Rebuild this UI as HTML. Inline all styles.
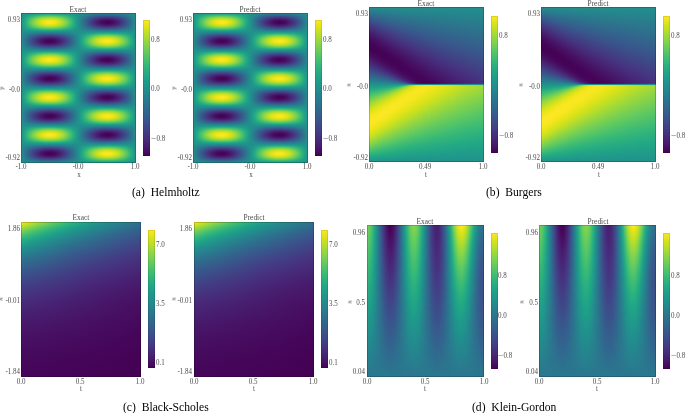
<!DOCTYPE html>
<html><head><meta charset="utf-8"><style>
html,body{margin:0;padding:0;background:#fff;}
body{width:685px;height:413px;position:relative;overflow:hidden;font-family:"Liberation Serif",serif;color:#000;}
.t{color:#4a4a4a;}
.cap{color:#000;}
.t{position:absolute;line-height:1;white-space:nowrap;will-change:transform;}
.hr,.hc{position:absolute;display:flex;overflow:hidden;}
.hr::after,.hc::after{content:"";position:absolute;left:0;top:0;right:0;bottom:0;box-shadow:inset 0 0 0 1px rgba(0,0,0,.2);}
.hr{flex-direction:column;}
.hc{flex-direction:row;}
.hr i,.hc i{flex:1 1 0;display:block;}
.cb{position:absolute;background:linear-gradient(to bottom,#fde725 0.00%,#d5e21a 6.27%,#aadc32 12.55%,#81d34d 18.82%,#5cc863 25.10%,#3dbc74 31.37%,#27ad81 37.65%,#1f9f88 43.92%,#21908d 50.20%,#26818e 56.47%,#2c718e 62.75%,#33628d 69.02%,#3b518b 75.29%,#423f85 81.57%,#472c7a 87.84%,#481769 94.12%,#440154 100%);box-shadow:inset 0 0 0 1px rgba(0,0,0,.1);}
.a0{background:linear-gradient(to right,#21908c 0.43%,#1f9a8a 23.91%,#20928c 46.52%,#24868e 72.61%,#228d8d 94.35%,#21908d 99.57%)}
.a1{background:linear-gradient(to right,#20918c 0.43%,#20a486 11.74%,#27ae80 23.91%,#22a884 35.22%,#1f978b 46.52%,#2a788e 64.78%,#2c728e 76.09%,#287c8e 88.26%,#218f8d 99.57%)}
.a2{background:linear-gradient(to right,#20918c 0.43%,#20a386 6.52%,#35b779 15.22%,#43bf71 22.17%,#43be71 28.26%,#2fb37c 36.96%,#1fa287 43.91%,#228d8d 50.87%,#2f6a8e 63.91%,#355f8d 72.61%,#33628d 81.30%,#2a788e 91.74%,#218f8d 99.57%)}
.a3{background:linear-gradient(to right,#20928c 0.43%,#20a486 4.78%,#2fb47c 9.13%,#58c765 16.96%,#69cd5b 22.17%,#6bcd5a 26.52%,#5ec962 31.74%,#36b878 39.57%,#23a984 43.91%,#1f978b 48.26%,#31678e 60.43%,#3c508b 69.13%,#3e4b89 76.09%,#3a548c 83.04%,#2b768e 93.48%,#218e8d 99.57%)}
.a4{background:linear-gradient(to right,#20928c 0.43%,#20a486 3.91%,#30b47b 7.39%,#67cc5d 14.35%,#84d44b 18.70%,#93d741 23.04%,#94d841 26.52%,#86d44a 30.87%,#64cb5f 36.09%,#2db27d 43.04%,#21a685 45.65%,#1f958c 49.13%,#34618d 59.57%,#414287 67.39%,#453782 73.48%,#443b84 79.57%,#3c508b 86.52%,#23898d 98.70%,#218e8d 99.57%)}
.a5{background:linear-gradient(to right,#20938c 0.43%,#1fa287 3.04%,#2bb17e 5.65%,#54c667 10.00%,#92d742 16.09%,#abdc32 19.57%,#b8de29 23.04%,#b9de28 26.52%,#addc30 30.00%,#8ed645 34.35%,#4fc46a 40.43%,#2fb37c 43.91%,#20a586 46.52%,#1f958b 49.13%,#33628d 57.83%,#443a83 65.65%,#482878 71.74%,#482676 76.96%,#46327f 82.17%,#3b528b 89.13%,#23888e 98.70%,#228d8d 99.57%)}
.a6{background:linear-gradient(to right,#20938c 0.43%,#20a486 3.04%,#30b47b 5.65%,#62cb5f 10.00%,#a2da38 15.22%,#c2df23 18.70%,#d4e21a 22.17%,#d9e219 25.65%,#cfe11c 29.13%,#b7de2a 32.61%,#89d548 36.96%,#47c06e 42.17%,#2db27d 44.78%,#1fa187 47.39%,#238a8d 50.87%,#3b528b 59.57%,#472f7c 65.65%,#481b6d 70.87%,#481669 75.22%,#481f70 80.43%,#443a83 86.52%,#34608d 92.61%,#228d8d 99.57%)}
.a7{background:linear-gradient(to right,#20938c 0.43%,#21a685 3.04%,#2cb17e 4.78%,#49c16d 7.39%,#92d742 12.61%,#bedf26 16.09%,#d6e21a 18.70%,#e9e41a 22.17%,#eee51b 25.65%,#e4e418 29.13%,#d2e21b 31.74%,#b9de29 34.35%,#80d34d 38.70%,#39ba76 43.91%,#23a984 46.52%,#1e9d89 48.26%,#2a778e 53.48%,#404788 60.43%,#482676 65.65%,#471063 70.87%,#460a5d 75.22%,#471264 79.57%,#482878 84.78%,#3e4a89 90.00%,#297a8e 96.96%,#228d8d 99.57%)}
.a8{background:linear-gradient(to right,#20938c 0.43%,#21a785 3.04%,#2eb37d 4.78%,#4ec36b 7.39%,#9bd93c 12.61%,#c9e01f 16.09%,#e2e418 18.70%,#f5e61f 22.17%,#fae722 25.65%,#f0e51c 29.13%,#dee318 31.74%,#c4e022 34.35%,#88d548 38.70%,#3cbb75 43.91%,#24aa83 46.52%,#1e9d89 48.26%,#2a768e 53.48%,#3e4a89 59.57%,#482676 64.78%,#46095c 70.87%,#450356 75.22%,#460a5e 79.57%,#482878 85.65%,#3d4d8a 90.87%,#27808e 97.83%,#228d8d 99.57%)}
.a9{background:linear-gradient(to right,#20938c 0.43%,#1fa088 2.17%,#27ad81 3.91%,#43be71 6.52%,#91d743 11.74%,#c1df24 15.22%,#dde318 17.83%,#f5e61f 21.30%,#fde725 24.78%,#f7e620 28.26%,#e1e318 31.74%,#d1e11c 33.48%,#b0dd2e 36.09%,#62ca5f 41.30%,#33b67a 44.78%,#24aa83 46.52%,#1e9d89 48.26%,#2b768e 53.48%,#3f4989 59.57%,#482475 64.78%,#46075a 70.87%,#440154 75.22%,#46085c 79.57%,#482777 85.65%,#3d4c8a 90.87%,#27808e 97.83%,#228d8d 99.57%)}
.a10{background:linear-gradient(to right,#20938c 0.43%,#21a685 3.04%,#2eb27d 4.78%,#4dc36c 7.39%,#9ad93d 12.61%,#c7e021 16.09%,#e0e318 18.70%,#f3e61e 22.17%,#f8e621 25.65%,#eee51b 29.13%,#dce319 31.74%,#c2df23 34.35%,#86d549 38.70%,#3cbb75 43.91%,#23a983 46.52%,#1e9d89 48.26%,#2a778e 53.48%,#3e4a89 59.57%,#482777 64.78%,#460a5e 70.87%,#450457 75.22%,#460c5f 79.57%,#482979 85.65%,#3d4d8a 90.87%,#27808e 97.83%,#228d8d 99.57%)}
.a11{background:linear-gradient(to right,#20938c 0.43%,#21a585 3.04%,#2bb17e 4.78%,#48c16e 7.39%,#8fd744 12.61%,#bade28 16.09%,#d2e21b 18.70%,#e5e419 22.17%,#e9e41a 25.65%,#dfe318 29.13%,#cee11d 31.74%,#abdc32 35.22%,#65cb5e 40.43%,#38b977 43.91%,#23a884 46.52%,#1f968b 49.13%,#32668e 56.09%,#433c84 62.17%,#481c6e 68.26%,#470e61 73.48%,#471062 77.83%,#482172 83.04%,#404588 89.13%,#2b758e 96.09%,#228d8d 99.57%)}
.a12{background:linear-gradient(to right,#20938c 0.43%,#20a486 3.04%,#2fb47c 5.65%,#5fc961 10.00%,#9cd93b 15.22%,#bbde27 18.70%,#cee11d 22.17%,#d2e21b 25.65%,#c8e020 29.13%,#b1dd2e 32.61%,#84d44b 36.96%,#3cbb75 43.04%,#26ac82 45.65%,#1e9b8a 48.26%,#2b748e 54.35%,#414487 62.17%,#482677 68.26%,#481a6c 73.48%,#481e6f 78.70%,#472f7d 83.91%,#39568c 90.87%,#228d8d 99.57%)}
.a13{background:linear-gradient(to right,#20938c 0.43%,#1fa287 3.04%,#2ab07f 5.65%,#50c46a 10.00%,#8ad647 16.09%,#a7db34 20.43%,#b1dd2e 23.91%,#afdd2f 27.39%,#a0da39 30.87%,#7fd34e 35.22%,#43bf71 41.30%,#27ae80 44.78%,#1f9f88 47.39%,#26818e 52.61%,#3d4d8a 62.17%,#46327e 69.13%,#482979 74.35%,#472e7c 79.57%,#414387 85.65%,#2b758e 95.22%,#228e8d 99.57%)}
.a14{background:linear-gradient(to right,#20928c 0.43%,#20a386 3.91%,#2eb37d 7.39%,#60ca61 14.35%,#7fd34e 19.57%,#8ad547 23.91%,#86d549 28.26%,#74d055 32.61%,#43be71 39.57%,#27ad81 43.91%,#1fa187 46.52%,#24888e 51.74%,#3b528b 63.91%,#423f85 70.87%,#433c84 76.96%,#3f4889 83.04%,#2e6d8e 92.61%,#218e8d 99.57%)}
.a15{background:linear-gradient(to right,#20928c 0.43%,#1fa287 4.78%,#2cb17e 9.13%,#53c568 17.83%,#60ca60 23.04%,#5fc961 28.26%,#4bc26d 34.35%,#24aa83 43.04%,#1f9a8a 47.39%,#2d708e 58.70%,#39568c 68.26%,#3c4f8b 75.22%,#39578c 82.17%,#2d718e 91.74%,#218e8d 99.57%)}
.a16{background:linear-gradient(to right,#20918c 0.43%,#20a486 7.39%,#35b779 17.83%,#3cbb75 24.78%,#35b878 31.74%,#21a586 42.17%,#20938c 49.13%,#2e6e8e 63.91%,#32648d 73.48%,#31688e 82.17%,#277f8e 93.48%,#218f8d 99.57%)}
.a17{background:linear-gradient(to right,#20918c 0.43%,#20a486 15.22%,#23a884 28.26%,#1e9c89 42.17%,#287b8e 65.65%,#2a788e 77.83%,#25848e 91.74%,#218f8d 99.57%)}
.a18{background:linear-gradient(to right,#21908c 0.43%,#1f958c 31.74%,#228b8d 78.70%,#21908d 99.57%)}
.a19{background:linear-gradient(to right,#21908d 0.43%,#26828e 21.30%,#24868e 37.83%,#1f9e89 69.13%,#1e9c89 85.65%,#21918c 99.57%)}
.a20{background:linear-gradient(to right,#218f8d 0.43%,#2b748e 15.22%,#2e6d8e 25.65%,#2b768e 36.09%,#1e9b8a 55.22%,#27ae80 66.52%,#2db27d 76.09%,#23a984 87.39%,#1f978b 96.96%,#20918c 99.57%)}
.a21{background:linear-gradient(to right,#218f8d 0.43%,#31688e 13.48%,#375a8d 22.17%,#365c8d 30.00%,#2d708e 39.57%,#1f998a 52.61%,#23a983 57.83%,#42be71 67.39%,#4dc36b 73.48%,#49c16d 79.57%,#2cb17e 89.13%,#20a387 94.35%,#20928c 99.57%)}
.a22{background:linear-gradient(to right,#218e8d 0.43%,#375a8c 13.48%,#3f4889 21.30%,#404688 27.39%,#3a538b 34.35%,#29798e 44.78%,#1e9c8a 52.61%,#24aa83 56.09%,#3fbd73 61.30%,#67cc5d 68.26%,#74d055 72.61%,#75d054 76.96%,#68cd5c 81.30%,#42be71 88.26%,#26ac82 93.48%,#1f9d89 96.96%,#20928c 99.57%)}
.a23{background:linear-gradient(to right,#218e8d 0.43%,#39558c 11.74%,#443b83 18.70%,#46327f 24.78%,#443a83 30.87%,#3a538b 37.83%,#228b8d 49.13%,#1f9e89 52.61%,#25ab82 55.22%,#3dbb74 58.70%,#78d152 65.65%,#93d741 70.00%,#9eda3a 73.48%,#9dd93b 76.96%,#8cd645 81.30%,#66cc5d 86.52%,#2db27d 93.48%,#21a586 96.09%,#20928c 99.57%)}
.a24{background:linear-gradient(to right,#228d8d 0.43%,#3a548c 10.00%,#46327e 16.96%,#482374 22.17%,#482374 27.39%,#47307d 32.61%,#3b528b 39.57%,#238b8d 49.13%,#1fa088 52.61%,#2aaf7f 55.22%,#49c16d 58.70%,#8cd646 64.78%,#b0dd2e 69.13%,#c0df24 72.61%,#c2df23 76.09%,#b7de2a 79.57%,#a0da39 83.04%,#6bcd5a 88.26%,#34b779 93.48%,#22a884 96.09%,#1f988b 98.70%,#20938c 99.57%)}
.a25{background:linear-gradient(to right,#228d8d 0.43%,#37598c 8.26%,#46337f 14.35%,#481c6e 19.57%,#471365 24.78%,#48186a 29.13%,#472c7b 34.35%,#3b508b 40.43%,#25848e 48.26%,#1e9c89 51.74%,#22a884 53.48%,#36b878 56.09%,#77d153 61.30%,#acdc31 65.65%,#cbe11e 69.13%,#dce319 72.61%,#dee318 76.09%,#d3e21b 79.57%,#b9de29 83.04%,#88d548 87.39%,#44bf70 92.61%,#2ab07f 95.22%,#20a586 96.96%,#20938c 99.57%)}
.a26{background:linear-gradient(to right,#228d8d 0.43%,#39558c 8.26%,#46317e 13.48%,#471265 19.57%,#46085b 23.91%,#460c5f 28.26%,#482071 33.48%,#423f86 38.70%,#2f6b8e 44.78%,#1f968b 50.87%,#20a387 52.61%,#29af80 54.35%,#45bf70 56.96%,#8fd744 62.17%,#bcdf27 65.65%,#d6e21a 68.26%,#ebe51a 71.74%,#f2e61d 75.22%,#eae51a 78.70%,#dae319 81.30%,#c1df24 83.91%,#89d548 88.26%,#3fbd73 93.48%,#26ac82 96.09%,#1fa088 97.83%,#20938c 99.57%)}
.a27{background:linear-gradient(to right,#228d8d 0.43%,#37598c 7.39%,#443983 11.74%,#48196b 16.96%,#450558 22.17%,#450356 26.52%,#470f62 30.87%,#46307e 36.96%,#3c508b 41.30%,#25838e 48.26%,#1e9d89 51.74%,#24aa83 53.48%,#3dbb74 56.09%,#89d548 61.30%,#c5e021 65.65%,#e0e318 68.26%,#f5e61f 71.74%,#fce723 75.22%,#f3e61e 78.70%,#dce319 82.17%,#c0df24 84.78%,#82d44c 89.13%,#42be71 93.48%,#27ad81 96.09%,#1fa088 97.83%,#20938c 99.57%)}
.a28{background:linear-gradient(to right,#228d8d 0.43%,#37598c 7.39%,#443983 11.74%,#48186b 16.96%,#45065a 21.30%,#440255 25.65%,#460a5e 30.00%,#472a79 36.09%,#3f4989 40.43%,#287d8e 47.39%,#1e9d89 51.74%,#24aa83 53.48%,#3dbc74 56.09%,#8ad547 61.30%,#c6e021 65.65%,#e1e318 68.26%,#f6e620 71.74%,#fde724 75.22%,#f4e61f 78.70%,#dde318 82.17%,#c1df24 84.78%,#83d44b 89.13%,#43be71 93.48%,#27ad81 96.09%,#1fa088 97.83%,#20938c 99.57%)}
.a29{background:linear-gradient(to right,#228d8d 0.43%,#3a548c 8.26%,#47307d 13.48%,#471163 19.57%,#45065a 23.91%,#460a5d 28.26%,#481e70 33.48%,#433e85 38.70%,#32648e 43.91%,#21908c 50.00%,#20a387 52.61%,#29af7f 54.35%,#46c06f 56.96%,#91d742 62.17%,#bfdf25 65.65%,#d9e219 68.26%,#efe51c 71.74%,#f5e61f 75.22%,#ede51b 78.70%,#d6e21a 82.17%,#bade28 84.78%,#71cf56 90.00%,#36b878 94.35%,#26ac81 96.09%,#1fa088 97.83%,#20938c 99.57%)}
.a30{background:linear-gradient(to right,#228d8d 0.43%,#38588c 8.26%,#453681 13.48%,#481c6e 18.70%,#471063 23.91%,#481366 28.26%,#482676 33.48%,#3f4989 39.57%,#277e8e 47.39%,#1e9c89 51.74%,#22a884 53.48%,#37b877 56.09%,#7ad251 61.30%,#b1dd2e 65.65%,#d0e11c 69.13%,#e1e318 72.61%,#e4e419 76.09%,#d8e219 79.57%,#c6e021 82.17%,#a2da38 85.65%,#5dc963 90.87%,#33b67a 94.35%,#21a586 96.96%,#20938c 99.57%)}
.a31{background:linear-gradient(to right,#228d8d 0.43%,#38588c 9.13%,#46327f 16.09%,#482172 21.30%,#481e70 26.52%,#482979 31.74%,#3e4b89 38.70%,#27808e 47.39%,#1e9b8a 51.74%,#25ab82 54.35%,#3aba76 56.96%,#7fd34e 63.04%,#abdc32 67.39%,#c1df24 70.87%,#cbe11f 74.35%,#c6e021 77.83%,#b5dd2b 81.30%,#8dd645 85.65%,#48c06e 91.74%,#28ae80 95.22%,#1f9e89 97.83%,#20938c 99.57%)}
.a32{background:linear-gradient(to right,#218e8d 0.43%,#39568c 10.87%,#443983 17.83%,#472e7c 23.91%,#46327e 29.13%,#404487 35.22%,#2a788e 45.65%,#1f9a8a 51.74%,#22a884 54.35%,#32b57b 56.96%,#71cf57 63.91%,#92d742 68.26%,#a3db37 71.74%,#a8db33 75.22%,#a2da38 78.70%,#8ad547 83.04%,#54c667 89.13%,#2eb37c 93.48%,#21a685 96.09%,#20938c 99.57%)}
.a33{background:linear-gradient(to right,#218e8d 0.43%,#39578c 13.48%,#414487 20.43%,#424186 26.52%,#3d4d8a 33.48%,#2d718e 43.04%,#1f988b 51.74%,#22a884 55.22%,#39b977 59.57%,#6bcd5a 67.39%,#7cd250 71.74%,#80d34d 76.09%,#75d054 80.43%,#59c765 85.65%,#2cb17e 92.61%,#1fa287 96.09%,#20928c 99.57%)}
.a34{background:linear-gradient(to right,#218f8d 0.43%,#32648e 13.48%,#39558c 22.17%,#38588c 30.00%,#306a8e 38.70%,#1f968b 51.74%,#21a685 56.09%,#35b779 62.17%,#51c569 70.00%,#58c765 75.22%,#50c46a 80.43%,#30b47c 89.13%,#20a486 94.35%,#20928c 99.57%)}
.a35{background:linear-gradient(to right,#218f8d 0.43%,#2d708e 15.22%,#30688e 24.78%,#2d6f8e 34.35%,#228c8d 48.26%,#1fa188 56.96%,#2fb47c 68.26%,#34b779 76.09%,#29af80 85.65%,#1f9e89 94.35%,#20918c 99.57%)}
.a36{background:linear-gradient(to right,#21908d 0.43%,#287e8e 18.70%,#277e8e 32.61%,#1f998a 56.96%,#20a486 72.61%,#1f9e89 87.39%,#21918c 99.57%)}
.a37{background:linear-gradient(to right,#21908c 0.43%,#21908c 99.57%)}
.a38{background:linear-gradient(to right,#21918c 0.43%,#20a287 18.70%,#1fa287 32.61%,#228d8d 52.61%,#287d8e 70.00%,#277f8e 83.91%,#21908d 99.57%)}
.a39{background:linear-gradient(to right,#20918c 0.43%,#20a486 8.26%,#31b57b 19.57%,#34b679 27.39%,#25ab82 37.83%,#1e9b8a 45.65%,#2c728e 63.91%,#30688e 74.35%,#2e6f8e 83.91%,#238b8d 97.83%,#218f8d 99.57%)}
.a40{background:linear-gradient(to right,#20928c 0.43%,#20a486 5.65%,#30b47c 10.87%,#50c46a 19.57%,#58c765 24.78%,#51c569 30.00%,#35b779 37.83%,#21a685 43.91%,#20938c 49.13%,#32658e 63.04%,#39568c 71.74%,#38578c 79.57%,#30698e 88.26%,#218f8d 99.57%)}
.a41{background:linear-gradient(to right,#20928c 0.43%,#1fa287 3.91%,#2cb17e 7.39%,#5fc961 15.22%,#78d152 20.43%,#80d34d 24.78%,#7ad151 29.13%,#61ca60 34.35%,#2eb37d 42.17%,#20a486 45.65%,#21908c 50.00%,#38588c 63.04%,#404588 70.00%,#424186 76.09%,#3e4a89 82.17%,#31678e 90.87%,#218e8d 99.57%)}
.a42{background:linear-gradient(to right,#20938c 0.43%,#21a685 3.91%,#2eb37c 6.52%,#6dce59 13.48%,#90d743 17.83%,#a2da38 21.30%,#a8db33 24.78%,#a3db37 28.26%,#8dd645 32.61%,#61ca60 37.83%,#32b57b 43.04%,#22a884 45.65%,#1f9a8a 48.26%,#2e6f8e 56.09%,#424186 65.65%,#46307e 71.74%,#472f7c 76.96%,#433c84 83.04%,#33638d 91.74%,#218e8d 99.57%)}
.a43{background:linear-gradient(to right,#20938c 0.43%,#20a386 3.04%,#2eb37d 5.65%,#5cc863 10.00%,#9fda39 16.09%,#bade28 19.57%,#c9e020 23.04%,#cae01f 26.52%,#bddf26 30.00%,#a3db37 33.48%,#6bcd5a 38.70%,#32b57a 43.91%,#21a685 46.52%,#1f968b 49.13%,#32658e 56.96%,#433d84 63.91%,#482475 70.00%,#481d6f 75.22%,#482576 80.43%,#433f85 86.52%,#31678e 93.48%,#228d8d 99.57%)}
.a44{background:linear-gradient(to right,#20938c 0.43%,#21a586 3.04%,#33b67a 5.65%,#68cc5c 10.00%,#acdc31 15.22%,#cde11d 18.70%,#e0e318 22.17%,#e4e419 25.65%,#dae319 29.13%,#c2df23 32.61%,#9cd93b 36.09%,#57c766 41.30%,#2fb37c 44.78%,#22a884 46.52%,#1f968b 49.13%,#31668e 56.09%,#433e85 62.17%,#481e70 68.26%,#471163 73.48%,#471265 77.83%,#482374 83.04%,#404688 89.13%,#2b758e 96.09%,#228d8d 99.57%)}
.a45{background:linear-gradient(to right,#20938c 0.43%,#21a685 3.04%,#2db27d 4.78%,#4cc26c 7.39%,#98d83e 12.61%,#c4e022 16.09%,#dde318 18.70%,#f0e51c 22.17%,#f5e61f 25.65%,#ebe51a 29.13%,#d9e219 31.74%,#bfdf25 34.35%,#85d44a 38.70%,#3bbb75 43.91%,#23a983 46.52%,#1e9d89 48.26%,#2a778e 53.48%,#3e4b89 59.57%,#482878 64.78%,#470f62 70.00%,#450659 74.35%,#460b5e 78.70%,#482172 83.91%,#424286 89.13%,#2e6d8e 95.22%,#228d8d 99.57%)}
.a46{background:linear-gradient(to right,#20938c 0.43%,#1fa088 2.17%,#27ad81 3.91%,#43be71 6.52%,#90d743 11.74%,#c1df24 15.22%,#dde318 17.83%,#f4e61f 21.30%,#fde724 24.78%,#f6e620 28.26%,#e1e318 31.74%,#c6e021 34.35%,#8ad547 38.70%,#3dbc74 43.91%,#24aa83 46.52%,#1e9d89 48.26%,#2b768e 53.48%,#3f4989 59.57%,#482575 64.78%,#46075b 70.87%,#440254 75.22%,#46095c 79.57%,#482777 85.65%,#3d4c8a 90.87%,#27808e 97.83%,#228d8d 99.57%)}
.a47{background:linear-gradient(to right,#20938c 0.43%,#1fa088 2.17%,#27ad81 3.91%,#42be71 6.52%,#90d743 11.74%,#c0df24 15.22%,#dce319 17.83%,#f3e61e 21.30%,#fce723 24.78%,#f5e61f 28.26%,#e0e318 31.74%,#c5e021 34.35%,#89d548 38.70%,#3dbb74 43.91%,#24aa83 46.52%,#1e9d89 48.26%,#2a768e 53.48%,#3f4989 59.57%,#482576 64.78%,#46085b 70.87%,#440255 75.22%,#46095d 79.57%,#482878 85.65%,#3d4c8a 90.87%,#27808e 97.83%,#228d8d 99.57%)}
.a48{background:linear-gradient(to right,#20938c 0.43%,#21a685 3.04%,#2db27d 4.78%,#4bc26d 7.39%,#95d840 12.61%,#c1df24 16.09%,#dae319 18.70%,#ede51b 22.17%,#f2e61d 25.65%,#e8e419 29.13%,#d6e21a 31.74%,#bcdf27 34.35%,#83d44c 38.70%,#3aba76 43.91%,#23a983 46.52%,#1e9d89 48.26%,#2a778e 53.48%,#404688 60.43%,#482475 65.65%,#470e61 70.87%,#46085b 75.22%,#470f62 79.57%,#482777 84.78%,#3f4989 90.00%,#297a8e 96.96%,#228d8d 99.57%)}
.a49{background:linear-gradient(to right,#20938c 0.43%,#20a586 3.04%,#32b57b 5.65%,#65cc5d 10.00%,#a7db34 15.22%,#c8e020 18.70%,#dae319 22.17%,#dfe318 25.65%,#d5e21a 29.13%,#bddf26 32.61%,#8dd645 36.96%,#4ac16d 42.17%,#2eb37d 44.78%,#22a884 46.52%,#1f968b 49.13%,#31678e 56.09%,#424086 62.17%,#482172 68.26%,#481466 73.48%,#481568 77.83%,#482676 83.04%,#3f4889 89.13%,#287c8e 96.96%,#228d8d 99.57%)}
.a50{background:linear-gradient(to right,#20938c 0.43%,#20a387 3.04%,#2db27d 5.65%,#58c765 10.00%,#98d93e 16.09%,#b3dd2d 19.57%,#c1df24 23.04%,#c2df23 26.52%,#b5de2b 30.00%,#9cd93b 33.48%,#66cc5d 38.70%,#30b47b 43.91%,#21a585 46.52%,#1f958b 49.13%,#31668e 56.96%,#443b84 64.78%,#482676 70.87%,#482173 76.09%,#472b7a 81.30%,#404688 87.39%,#2a788e 96.09%,#228d8d 99.57%)}
.a51{background:linear-gradient(to right,#20928c 0.43%,#21a586 3.91%,#2db27d 6.52%,#66cc5d 13.48%,#8cd645 18.70%,#9dd93b 23.04%,#9eda3a 26.52%,#93d741 30.00%,#78d152 34.35%,#3dbb74 41.30%,#25ab82 44.78%,#1f9e89 47.39%,#29798e 54.35%,#3f4889 64.78%,#453681 70.87%,#46337f 76.96%,#424086 83.04%,#32658e 91.74%,#218e8d 99.57%)}
.a52{background:linear-gradient(to right,#20928c 0.43%,#21a586 4.78%,#32b67a 9.13%,#60ca60 16.96%,#73d055 22.17%,#75d054 26.52%,#6acd5b 30.87%,#4ac26d 36.96%,#27ae80 43.04%,#1f9f88 46.52%,#26818e 53.48%,#39568c 64.78%,#3f4788 71.74%,#404788 77.83%,#39558c 84.78%,#277f8e 96.09%,#218e8d 99.57%)}
.a53{background:linear-gradient(to right,#20928c 0.43%,#20a387 5.65%,#2fb37c 11.74%,#49c16d 20.43%,#4dc36b 26.52%,#42be71 32.61%,#23a983 42.17%,#1f998a 47.39%,#2e6d8e 61.30%,#365b8d 70.87%,#365b8d 78.70%,#306a8e 87.39%,#218f8d 99.57%)}
.a54{background:linear-gradient(to right,#20918c 0.43%,#20a486 10.00%,#2cb17e 21.30%,#2ab07f 30.87%,#1f9f88 43.04%,#287d8e 59.57%,#2e6e8e 70.87%,#2d708e 81.30%,#25848e 94.35%,#218f8d 99.57%)}
.a55{background:linear-gradient(to right,#21918c 0.43%,#1f9f88 21.30%,#1f9a8a 37.83%,#26828e 69.13%,#25848e 85.65%,#21908d 99.57%)}
.a56{background:linear-gradient(to right,#21908d 0.43%,#228c8d 31.74%,#1f958b 78.70%,#21908c 99.57%)}
.a57{background:linear-gradient(to right,#218f8d 0.43%,#297a8e 17.83%,#2a788e 30.00%,#23888e 44.78%,#1fa088 61.30%,#23a983 74.35%,#1fa287 87.39%,#20918c 99.57%)}
.a58{background:linear-gradient(to right,#218f8d 0.43%,#2e6d8e 14.35%,#33648d 23.91%,#306a8e 33.48%,#25848e 45.65%,#1f9e89 55.22%,#28ae80 62.17%,#3aba76 71.74%,#3aba76 78.70%,#25ac82 89.13%,#1e9b8a 96.09%,#20918c 99.57%)}
.a59{background:linear-gradient(to right,#218e8d 0.43%,#34618d 13.48%,#3b518b 21.30%,#3b518b 28.26%,#34608d 36.09%,#228d8d 49.13%,#1fa188 54.35%,#2ab07f 58.70%,#52c569 67.39%,#60ca61 72.61%,#5fca61 77.83%,#50c46a 83.04%,#29af80 91.74%,#1f9f88 96.09%,#20928c 99.57%)}
.a60{background:linear-gradient(to right,#218e8d 0.43%,#39578c 12.61%,#424186 19.57%,#443c84 25.65%,#414487 31.74%,#33638d 40.43%,#1f948c 50.87%,#21a586 54.35%,#31b47b 57.83%,#63cb5f 64.78%,#80d34d 70.00%,#8ad647 74.35%,#85d44a 78.70%,#71cf56 83.04%,#40bd73 90.00%,#25ab82 94.35%,#1e9b8a 97.83%,#20928c 99.57%)}
.a61{background:linear-gradient(to right,#228e8d 0.43%,#38588c 10.00%,#453581 17.83%,#472a7a 23.04%,#472c7b 28.26%,#433d85 34.35%,#30698e 43.04%,#1f958b 50.87%,#20a486 53.48%,#2db27d 56.09%,#5dc962 61.30%,#8ed644 66.52%,#a5db36 70.00%,#b0dd2e 73.48%,#b0dd2f 76.96%,#a3da37 80.43%,#83d44b 84.78%,#47c06e 90.87%,#2ab07f 94.35%,#1fa287 96.96%,#20938c 99.57%)}
.a62{background:linear-gradient(to right,#228d8d 0.43%,#39568c 9.13%,#472f7d 16.09%,#481e6f 21.30%,#481a6c 26.52%,#482677 31.74%,#414487 37.83%,#2b748e 45.65%,#1e9b8a 51.74%,#26ac82 54.35%,#3cbb75 56.96%,#84d44b 63.04%,#b1dd2e 67.39%,#c8e020 70.87%,#d2e21b 74.35%,#cee11d 77.83%,#bbde27 81.30%,#9cd93b 84.78%,#54c667 90.87%,#2fb47c 94.35%,#20a486 96.96%,#20938c 99.57%)}
.a63{background:linear-gradient(to right,#228d8d 0.43%,#38578c 8.26%,#463480 13.48%,#481a6c 18.70%,#470d60 23.91%,#471163 28.26%,#482374 33.48%,#3f4889 39.57%,#2a788e 46.52%,#1e9c89 51.74%,#23a884 53.48%,#38b977 56.09%,#7dd24f 61.30%,#b5de2b 65.65%,#cee11d 68.26%,#e3e418 71.74%,#eae51a 75.22%,#e1e318 78.70%,#d2e21b 81.30%,#bade28 83.91%,#83d44b 88.26%,#3dbc74 93.48%,#25ab82 96.09%,#1f9f88 97.83%,#20938c 99.57%)}
.a64{background:linear-gradient(to right,#228d8d 0.43%,#3a548b 8.26%,#472f7d 13.48%,#470f62 19.57%,#450458 23.91%,#46085b 28.26%,#481d6f 33.48%,#433e85 38.70%,#33648d 43.91%,#21908c 50.00%,#20a386 52.61%,#2ab07f 54.35%,#47c06f 56.96%,#93d741 62.17%,#c2df23 65.65%,#dce319 68.26%,#f1e51d 71.74%,#f8e621 75.22%,#f0e51c 78.70%,#d8e219 82.17%,#bddf26 84.78%,#73d055 90.00%,#37b878 94.35%,#26ad81 96.09%,#1fa088 97.83%,#20938c 99.57%)}
.a65{background:linear-gradient(to right,#228d8d 0.43%,#37598c 7.39%,#443982 11.74%,#48186a 16.96%,#450659 21.30%,#440154 25.65%,#460a5d 30.00%,#482a79 36.09%,#3f4989 40.43%,#287d8e 47.39%,#1e9d89 51.74%,#24aa83 53.48%,#3dbc74 56.09%,#8ad547 61.30%,#c7e021 65.65%,#d9e219 67.39%,#eee51b 70.00%,#fce724 73.48%,#fbe723 76.96%,#ebe51a 80.43%,#d5e21a 83.04%,#b6de2a 85.65%,#69cd5c 90.87%,#38b977 94.35%,#27ad81 96.09%,#1fa088 97.83%,#20938c 99.57%)}
.a66{background:linear-gradient(to right,#228d8d 0.43%,#375a8c 7.39%,#443a83 11.74%,#481a6c 16.96%,#450659 22.17%,#450457 26.52%,#471062 30.87%,#46317e 36.96%,#3c508b 41.30%,#25838e 48.26%,#1e9d89 51.74%,#24aa83 53.48%,#3cbb75 56.09%,#88d548 61.30%,#c4e022 65.65%,#dee318 68.26%,#f4e61e 71.74%,#fae722 75.22%,#f2e61d 78.70%,#dae319 82.17%,#bfdf25 84.78%,#81d34c 89.13%,#42be72 93.48%,#26ad81 96.09%,#1fa088 97.83%,#20938c 99.57%)}
.a67{background:linear-gradient(to right,#228d8d 0.43%,#39568c 8.26%,#46337f 13.48%,#48186a 18.70%,#460c5f 23.04%,#470c5f 27.39%,#481d6f 32.61%,#424186 38.70%,#2f6b8e 44.78%,#1f968b 50.87%,#20a387 52.61%,#28af80 54.35%,#44bf71 56.96%,#8cd646 62.17%,#c2df23 66.52%,#d9e219 69.13%,#ebe51a 72.61%,#ede51b 76.09%,#e1e318 79.57%,#cfe11d 82.17%,#a9dc33 85.65%,#61ca60 90.87%,#35b779 94.35%,#25ac82 96.09%,#1fa088 97.83%,#20938c 99.57%)}
.a68{background:linear-gradient(to right,#228d8d 0.43%,#3a558c 9.13%,#46317e 15.22%,#481c6e 20.43%,#481669 25.65%,#482072 30.87%,#433d84 36.96%,#33638d 43.04%,#21908c 50.00%,#1fa187 52.61%,#2db27d 55.22%,#52c569 58.70%,#93d741 63.91%,#b7de2a 67.39%,#cfe11c 70.87%,#d9e219 74.35%,#d4e21a 77.83%,#c2df23 81.30%,#a2da38 84.78%,#57c766 90.87%,#30b47b 94.35%,#20a486 96.96%,#20938c 99.57%)}
.a69{background:linear-gradient(to right,#228d8d 0.43%,#39568c 10.00%,#453580 16.96%,#482777 22.17%,#482777 27.39%,#46337f 32.61%,#38598c 40.43%,#21908c 50.00%,#1fa088 52.61%,#28af80 55.22%,#46c06f 58.70%,#86d44a 64.78%,#a8db33 69.13%,#b7de2a 72.61%,#bade28 76.09%,#afdd2f 79.57%,#99d93d 83.04%,#67cc5d 88.26%,#32b57a 93.48%,#22a784 96.09%,#1f988b 98.70%,#20938c 99.57%)}
.a70{background:linear-gradient(to right,#218e8d 0.43%,#38578c 11.74%,#423f85 18.70%,#453781 24.78%,#433e85 30.87%,#37598c 38.70%,#21908c 50.00%,#1fa287 53.48%,#28ae80 56.09%,#4ec36b 61.30%,#7cd250 67.39%,#90d743 71.74%,#95d840 75.22%,#8cd646 79.57%,#74d055 83.91%,#3dbb74 90.87%,#26ac81 94.35%,#1fa088 96.96%,#20928c 99.57%)}
.a71{background:linear-gradient(to right,#218e8d 0.43%,#355d8d 13.48%,#3d4d8a 21.30%,#3d4c8a 28.26%,#365c8d 36.09%,#228c8d 49.13%,#1fa287 54.35%,#2db27d 58.70%,#56c666 66.52%,#68cc5c 71.74%,#6bcd5a 76.09%,#5fca61 81.30%,#38b977 89.13%,#22a784 94.35%,#1f968b 98.70%,#20928c 99.57%)}
.a72{background:linear-gradient(to right,#218f8d 0.43%,#306a8e 14.35%,#355f8d 23.04%,#33638d 31.74%,#29798e 42.17%,#1e9d89 54.35%,#27ae80 60.43%,#40bd72 70.00%,#45bf70 76.09%,#3aba76 83.04%,#21a685 92.61%,#20948c 98.70%,#20918c 99.57%)}
.a73{background:linear-gradient(to right,#218f8d 0.43%,#2a778e 16.09%,#2c738e 27.39%,#277e8e 39.57%,#1f9e89 57.83%,#26ad81 70.87%,#25ab82 82.17%,#1f998a 95.22%,#20918c 99.57%)}
.a74{background:linear-gradient(to right,#21908d 0.43%,#24868e 23.91%,#218e8d 46.52%,#1f9a8a 72.61%,#20948c 94.35%,#21908c 99.57%)}
.a75{background:linear-gradient(to right,#21908c 0.43%,#1f9a8a 23.91%,#20928c 46.52%,#24868e 72.61%,#228d8d 94.35%,#21908d 99.57%)}
.a76{background:linear-gradient(to right,#20918c 0.43%,#20a486 11.74%,#27ae80 23.91%,#22a884 35.22%,#1f978b 46.52%,#2a788e 64.78%,#2c728e 76.09%,#287c8e 88.26%,#218f8d 99.57%)}
.a77{background:linear-gradient(to right,#20918c 0.43%,#20a386 6.52%,#35b779 15.22%,#43bf71 22.17%,#43be71 28.26%,#2fb37c 36.96%,#1fa287 43.91%,#228d8d 50.87%,#2f6a8e 63.91%,#355f8d 72.61%,#33628d 81.30%,#2a788e 91.74%,#218f8d 99.57%)}
.a78{background:linear-gradient(to right,#20928c 0.43%,#20a486 4.78%,#2fb47c 9.13%,#58c765 16.96%,#69cd5b 22.17%,#6bcd5a 26.52%,#5ec962 31.74%,#36b878 39.57%,#23a984 43.91%,#1f978b 48.26%,#31678e 60.43%,#3c508b 69.13%,#3e4b89 76.09%,#3a548c 83.04%,#2b768e 93.48%,#218e8d 99.57%)}
.a79{background:linear-gradient(to right,#20928c 0.43%,#20a486 3.91%,#30b47b 7.39%,#67cc5d 14.35%,#84d44b 18.70%,#93d741 23.04%,#94d841 26.52%,#86d44a 30.87%,#64cb5f 36.09%,#2db27d 43.04%,#21a685 45.65%,#1f958c 49.13%,#34618d 59.57%,#414287 67.39%,#453782 73.48%,#443b84 79.57%,#3c508b 86.52%,#23898d 98.70%,#218e8d 99.57%)}
.a80{background:linear-gradient(to right,#20938c 0.43%,#1fa287 3.04%,#2bb17e 5.65%,#54c667 10.00%,#92d742 16.09%,#abdc32 19.57%,#b8de29 23.04%,#b9de28 26.52%,#addc30 30.00%,#8ed645 34.35%,#4fc46a 40.43%,#2fb37c 43.91%,#20a586 46.52%,#1f958b 49.13%,#33628d 57.83%,#443a83 65.65%,#482878 71.74%,#482676 76.96%,#46327f 82.17%,#3b528b 89.13%,#23888e 98.70%,#228d8d 99.57%)}
.a81{background:linear-gradient(to right,#20938c 0.43%,#20a486 3.04%,#30b47b 5.65%,#62cb5f 10.00%,#a2da38 15.22%,#c2df23 18.70%,#d4e21a 22.17%,#d9e219 25.65%,#cfe11c 29.13%,#b7de2a 32.61%,#89d548 36.96%,#47c06e 42.17%,#2db27d 44.78%,#1fa187 47.39%,#238a8d 50.87%,#3b528b 59.57%,#472f7c 65.65%,#481b6d 70.87%,#481669 75.22%,#481f70 80.43%,#443a83 86.52%,#34608d 92.61%,#228d8d 99.57%)}
.a82{background:linear-gradient(to right,#20938c 0.43%,#21a685 3.04%,#2cb17e 4.78%,#49c16d 7.39%,#92d742 12.61%,#bedf26 16.09%,#d6e21a 18.70%,#e9e41a 22.17%,#eee51b 25.65%,#e4e418 29.13%,#d2e21b 31.74%,#b9de29 34.35%,#80d34d 38.70%,#39ba76 43.91%,#23a984 46.52%,#1e9d89 48.26%,#2a778e 53.48%,#404788 60.43%,#482676 65.65%,#471063 70.87%,#460a5d 75.22%,#471264 79.57%,#482878 84.78%,#3e4a89 90.00%,#297a8e 96.96%,#228d8d 99.57%)}
.a83{background:linear-gradient(to right,#20938c 0.43%,#21a785 3.04%,#2eb37d 4.78%,#4ec36b 7.39%,#9bd93c 12.61%,#c9e01f 16.09%,#e2e418 18.70%,#f5e61f 22.17%,#fae722 25.65%,#f0e51c 29.13%,#dee318 31.74%,#c4e022 34.35%,#88d548 38.70%,#3cbb75 43.91%,#24aa83 46.52%,#1e9d89 48.26%,#2a768e 53.48%,#3e4a89 59.57%,#482676 64.78%,#46095c 70.87%,#450356 75.22%,#460a5e 79.57%,#482878 85.65%,#3d4d8a 90.87%,#27808e 97.83%,#228d8d 99.57%)}
.a84{background:linear-gradient(to right,#20938c 0.43%,#1fa088 2.17%,#27ad81 3.91%,#43be71 6.52%,#91d743 11.74%,#c1df24 15.22%,#dde318 17.83%,#f5e61f 21.30%,#fde725 24.78%,#f7e620 28.26%,#e1e318 31.74%,#d1e11c 33.48%,#b0dd2e 36.09%,#62ca5f 41.30%,#33b67a 44.78%,#24aa83 46.52%,#1e9d89 48.26%,#2b768e 53.48%,#3f4989 59.57%,#482475 64.78%,#46075a 70.87%,#440154 75.22%,#46085c 79.57%,#482777 85.65%,#3d4c8a 90.87%,#27808e 97.83%,#228d8d 99.57%)}
.a85{background:linear-gradient(to right,#20938c 0.43%,#21a685 3.04%,#2eb27d 4.78%,#4dc36c 7.39%,#9ad93d 12.61%,#c7e021 16.09%,#e0e318 18.70%,#f3e61e 22.17%,#f8e621 25.65%,#eee51b 29.13%,#dce319 31.74%,#c2df23 34.35%,#86d549 38.70%,#3cbb75 43.91%,#23a983 46.52%,#1e9d89 48.26%,#2a778e 53.48%,#3e4a89 59.57%,#482777 64.78%,#460a5e 70.87%,#450457 75.22%,#460c5f 79.57%,#482979 85.65%,#3d4d8a 90.87%,#27808e 97.83%,#228d8d 99.57%)}
.a86{background:linear-gradient(to right,#20938c 0.43%,#21a585 3.04%,#2bb17e 4.78%,#48c16e 7.39%,#8fd744 12.61%,#bade28 16.09%,#d2e21b 18.70%,#e5e419 22.17%,#e9e41a 25.65%,#dfe318 29.13%,#cee11d 31.74%,#abdc32 35.22%,#65cb5e 40.43%,#38b977 43.91%,#23a884 46.52%,#1f968b 49.13%,#32668e 56.09%,#433c84 62.17%,#481c6e 68.26%,#470e61 73.48%,#471062 77.83%,#482172 83.04%,#404588 89.13%,#2b758e 96.09%,#228d8d 99.57%)}
.a87{background:linear-gradient(to right,#20938c 0.43%,#20a486 3.04%,#2fb47c 5.65%,#5fc961 10.00%,#9cd93b 15.22%,#bbde27 18.70%,#cee11d 22.17%,#d2e21b 25.65%,#c8e020 29.13%,#b1dd2e 32.61%,#84d44b 36.96%,#3cbb75 43.04%,#26ac82 45.65%,#1e9b8a 48.26%,#2b748e 54.35%,#414487 62.17%,#482677 68.26%,#481a6c 73.48%,#481e6f 78.70%,#472f7d 83.91%,#39568c 90.87%,#228d8d 99.57%)}
.a88{background:linear-gradient(to right,#20938c 0.43%,#1fa287 3.04%,#2ab07f 5.65%,#50c46a 10.00%,#8ad647 16.09%,#a7db34 20.43%,#b1dd2e 23.91%,#afdd2f 27.39%,#a0da39 30.87%,#7fd34e 35.22%,#43bf71 41.30%,#27ae80 44.78%,#1f9f88 47.39%,#26818e 52.61%,#3d4d8a 62.17%,#46327e 69.13%,#482979 74.35%,#472e7c 79.57%,#414387 85.65%,#2b758e 95.22%,#228e8d 99.57%)}
.a89{background:linear-gradient(to right,#20928c 0.43%,#20a386 3.91%,#2eb37d 7.39%,#60ca61 14.35%,#7fd34e 19.57%,#8ad547 23.91%,#86d549 28.26%,#74d055 32.61%,#43be71 39.57%,#27ad81 43.91%,#1fa187 46.52%,#24888e 51.74%,#3b528b 63.91%,#423f85 70.87%,#433c84 76.96%,#3f4889 83.04%,#2e6d8e 92.61%,#218e8d 99.57%)}
.a90{background:linear-gradient(to right,#20928c 0.43%,#1fa287 4.78%,#2cb17e 9.13%,#53c568 17.83%,#60ca60 23.04%,#5fc961 28.26%,#4bc26d 34.35%,#24aa83 43.04%,#1f9a8a 47.39%,#2d708e 58.70%,#39568c 68.26%,#3c4f8b 75.22%,#39578c 82.17%,#2d718e 91.74%,#218e8d 99.57%)}
.a91{background:linear-gradient(to right,#20918c 0.43%,#20a486 7.39%,#35b779 17.83%,#3cbb75 24.78%,#35b878 31.74%,#21a586 42.17%,#20938c 49.13%,#2e6e8e 63.91%,#32648d 73.48%,#31688e 82.17%,#277f8e 93.48%,#218f8d 99.57%)}
.a92{background:linear-gradient(to right,#20918c 0.43%,#20a486 15.22%,#23a884 28.26%,#1e9c89 42.17%,#287b8e 65.65%,#2a788e 77.83%,#25848e 91.74%,#218f8d 99.57%)}
.a93{background:linear-gradient(to right,#21908c 0.43%,#1f958c 31.74%,#228b8d 78.70%,#21908d 99.57%)}
.a94{background:linear-gradient(to right,#21908d 0.43%,#26828e 21.30%,#24868e 37.83%,#1f9e89 69.13%,#1e9c89 85.65%,#21918c 99.57%)}
.a95{background:linear-gradient(to right,#218f8d 0.43%,#2b748e 15.22%,#2e6d8e 25.65%,#2b768e 36.09%,#1e9b8a 55.22%,#27ae80 66.52%,#2db27d 76.09%,#23a984 87.39%,#1f978b 96.96%,#20918c 99.57%)}
.a96{background:linear-gradient(to right,#218f8d 0.43%,#31688e 13.48%,#375a8d 22.17%,#365c8d 30.00%,#2d708e 39.57%,#1f998a 52.61%,#23a983 57.83%,#42be71 67.39%,#4dc36b 73.48%,#49c16d 79.57%,#2cb17e 89.13%,#20a387 94.35%,#20928c 99.57%)}
.a97{background:linear-gradient(to right,#218e8d 0.43%,#375a8c 13.48%,#3f4889 21.30%,#404688 27.39%,#3a538b 34.35%,#29798e 44.78%,#1e9c8a 52.61%,#24aa83 56.09%,#3fbd73 61.30%,#67cc5d 68.26%,#74d055 72.61%,#75d054 76.96%,#68cd5c 81.30%,#42be71 88.26%,#26ac82 93.48%,#1f9d89 96.96%,#20928c 99.57%)}
.a98{background:linear-gradient(to right,#218e8d 0.43%,#39558c 11.74%,#443b83 18.70%,#46327f 24.78%,#443a83 30.87%,#3a538b 37.83%,#228b8d 49.13%,#1f9e89 52.61%,#25ab82 55.22%,#3dbb74 58.70%,#78d152 65.65%,#93d741 70.00%,#9eda3a 73.48%,#9dd93b 76.96%,#8cd645 81.30%,#66cc5d 86.52%,#2db27d 93.48%,#21a586 96.09%,#20928c 99.57%)}
.a99{background:linear-gradient(to right,#228d8d 0.43%,#3a548c 10.00%,#46327e 16.96%,#482374 22.17%,#482374 27.39%,#47307d 32.61%,#3b528b 39.57%,#238b8d 49.13%,#1fa088 52.61%,#2aaf7f 55.22%,#49c16d 58.70%,#8cd646 64.78%,#b0dd2e 69.13%,#c0df24 72.61%,#c2df23 76.09%,#b7de2a 79.57%,#a0da39 83.04%,#6bcd5a 88.26%,#34b779 93.48%,#22a884 96.09%,#1f988b 98.70%,#20938c 99.57%)}
.a100{background:linear-gradient(to right,#228d8d 0.43%,#37598c 8.26%,#46337f 14.35%,#481c6e 19.57%,#471365 24.78%,#48186a 29.13%,#472c7b 34.35%,#3b508b 40.43%,#25848e 48.26%,#1e9c89 51.74%,#22a884 53.48%,#36b878 56.09%,#77d153 61.30%,#acdc31 65.65%,#cbe11e 69.13%,#dce319 72.61%,#dee318 76.09%,#d3e21b 79.57%,#b9de29 83.04%,#88d548 87.39%,#44bf70 92.61%,#2ab07f 95.22%,#20a586 96.96%,#20938c 99.57%)}
.a101{background:linear-gradient(to right,#228d8d 0.43%,#39558c 8.26%,#46317e 13.48%,#471265 19.57%,#46085b 23.91%,#460c5f 28.26%,#482071 33.48%,#423f86 38.70%,#2f6b8e 44.78%,#1f968b 50.87%,#20a387 52.61%,#29af80 54.35%,#45bf70 56.96%,#8fd744 62.17%,#bcdf27 65.65%,#d6e21a 68.26%,#ebe51a 71.74%,#f2e61d 75.22%,#eae51a 78.70%,#dae319 81.30%,#c1df24 83.91%,#89d548 88.26%,#3fbd73 93.48%,#26ac82 96.09%,#1fa088 97.83%,#20938c 99.57%)}
.a102{background:linear-gradient(to right,#228d8d 0.43%,#37598c 7.39%,#443983 11.74%,#48196b 16.96%,#450558 22.17%,#450356 26.52%,#470f62 30.87%,#46307e 36.96%,#3c508b 41.30%,#25838e 48.26%,#1e9d89 51.74%,#24aa83 53.48%,#3dbb74 56.09%,#89d548 61.30%,#c5e021 65.65%,#e0e318 68.26%,#f5e61f 71.74%,#fce723 75.22%,#f3e61e 78.70%,#dce319 82.17%,#c0df24 84.78%,#82d44c 89.13%,#42be71 93.48%,#27ad81 96.09%,#1fa088 97.83%,#20938c 99.57%)}
.a103{background:linear-gradient(to right,#228d8d 0.43%,#37598c 7.39%,#443983 11.74%,#48186b 16.96%,#45065a 21.30%,#440255 25.65%,#460a5e 30.00%,#472a79 36.09%,#3f4989 40.43%,#287d8e 47.39%,#1e9d89 51.74%,#24aa83 53.48%,#3dbc74 56.09%,#8ad547 61.30%,#c6e021 65.65%,#e1e318 68.26%,#f6e620 71.74%,#fde724 75.22%,#f4e61f 78.70%,#dde318 82.17%,#c1df24 84.78%,#83d44b 89.13%,#43be71 93.48%,#27ad81 96.09%,#1fa088 97.83%,#20938c 99.57%)}
.a104{background:linear-gradient(to right,#228d8d 0.43%,#3a548c 8.26%,#47307d 13.48%,#471163 19.57%,#45065a 23.91%,#460a5d 28.26%,#481e70 33.48%,#433e85 38.70%,#32648e 43.91%,#21908c 50.00%,#20a387 52.61%,#29af7f 54.35%,#46c06f 56.96%,#91d742 62.17%,#bfdf25 65.65%,#d9e219 68.26%,#efe51c 71.74%,#f5e61f 75.22%,#ede51b 78.70%,#d6e21a 82.17%,#bade28 84.78%,#71cf56 90.00%,#36b878 94.35%,#26ac81 96.09%,#1fa088 97.83%,#20938c 99.57%)}
.a105{background:linear-gradient(to right,#228d8d 0.43%,#38588c 8.26%,#453681 13.48%,#481c6e 18.70%,#471063 23.91%,#481366 28.26%,#482676 33.48%,#3f4989 39.57%,#277e8e 47.39%,#1e9c89 51.74%,#22a884 53.48%,#37b877 56.09%,#7ad251 61.30%,#b1dd2e 65.65%,#d0e11c 69.13%,#e1e318 72.61%,#e4e419 76.09%,#d8e219 79.57%,#c6e021 82.17%,#a2da38 85.65%,#5dc963 90.87%,#33b67a 94.35%,#21a586 96.96%,#20938c 99.57%)}
.a106{background:linear-gradient(to right,#228d8d 0.43%,#38588c 9.13%,#46327f 16.09%,#482172 21.30%,#481e70 26.52%,#482979 31.74%,#3e4b89 38.70%,#27808e 47.39%,#1e9b8a 51.74%,#25ab82 54.35%,#3aba76 56.96%,#7fd34e 63.04%,#abdc32 67.39%,#c1df24 70.87%,#cbe11f 74.35%,#c6e021 77.83%,#b5dd2b 81.30%,#8dd645 85.65%,#48c06e 91.74%,#28ae80 95.22%,#1f9e89 97.83%,#20938c 99.57%)}
.a107{background:linear-gradient(to right,#218e8d 0.43%,#39568c 10.87%,#443983 17.83%,#472e7c 23.91%,#46327e 29.13%,#404487 35.22%,#2a788e 45.65%,#1f9a8a 51.74%,#22a884 54.35%,#32b57b 56.96%,#71cf57 63.91%,#92d742 68.26%,#a3db37 71.74%,#a8db33 75.22%,#a2da38 78.70%,#8ad547 83.04%,#54c667 89.13%,#2eb37c 93.48%,#21a685 96.09%,#20938c 99.57%)}
.a108{background:linear-gradient(to right,#218e8d 0.43%,#39578c 13.48%,#414487 20.43%,#424186 26.52%,#3d4d8a 33.48%,#2d718e 43.04%,#1f988b 51.74%,#22a884 55.22%,#39b977 59.57%,#6bcd5a 67.39%,#7cd250 71.74%,#80d34d 76.09%,#75d054 80.43%,#59c765 85.65%,#2cb17e 92.61%,#1fa287 96.09%,#20928c 99.57%)}
.a109{background:linear-gradient(to right,#218f8d 0.43%,#32648e 13.48%,#39558c 22.17%,#38588c 30.00%,#306a8e 38.70%,#1f968b 51.74%,#21a685 56.09%,#35b779 62.17%,#51c569 70.00%,#58c765 75.22%,#50c46a 80.43%,#30b47c 89.13%,#20a486 94.35%,#20928c 99.57%)}
.a110{background:linear-gradient(to right,#218f8d 0.43%,#2d708e 15.22%,#30688e 24.78%,#2d6f8e 34.35%,#228c8d 48.26%,#1fa188 56.96%,#2fb47c 68.26%,#34b779 76.09%,#29af80 85.65%,#1f9e89 94.35%,#20918c 99.57%)}
.a111{background:linear-gradient(to right,#21908d 0.43%,#287e8e 18.70%,#277e8e 32.61%,#1f998a 56.96%,#20a486 72.61%,#1f9e89 87.39%,#21918c 99.57%)}
.a112{background:linear-gradient(to right,#21908c 0.43%,#21908c 99.57%)}
.a113{background:linear-gradient(to right,#21918c 0.43%,#20a287 18.70%,#1fa287 32.61%,#228d8d 52.61%,#287d8e 70.00%,#277f8e 83.91%,#21908d 99.57%)}
.a114{background:linear-gradient(to right,#20918c 0.43%,#20a486 8.26%,#31b57b 19.57%,#34b679 27.39%,#25ab82 37.83%,#1e9b8a 45.65%,#2c728e 63.91%,#30688e 74.35%,#2e6f8e 83.91%,#238b8d 97.83%,#218f8d 99.57%)}
.a115{background:linear-gradient(to right,#20928c 0.43%,#20a486 5.65%,#30b47c 10.87%,#50c46a 19.57%,#58c765 24.78%,#51c569 30.00%,#35b779 37.83%,#21a685 43.91%,#20938c 49.13%,#32658e 63.04%,#39568c 71.74%,#38578c 79.57%,#30698e 88.26%,#218f8d 99.57%)}
.a116{background:linear-gradient(to right,#20928c 0.43%,#1fa287 3.91%,#2cb17e 7.39%,#5fc961 15.22%,#78d152 20.43%,#80d34d 24.78%,#7ad151 29.13%,#61ca60 34.35%,#2eb37d 42.17%,#20a486 45.65%,#21908c 50.00%,#38588c 63.04%,#404588 70.00%,#424186 76.09%,#3e4a89 82.17%,#31678e 90.87%,#218e8d 99.57%)}
.a117{background:linear-gradient(to right,#20938c 0.43%,#21a685 3.91%,#2eb37c 6.52%,#6dce59 13.48%,#90d743 17.83%,#a2da38 21.30%,#a8db33 24.78%,#a3db37 28.26%,#8dd645 32.61%,#61ca60 37.83%,#32b57b 43.04%,#22a884 45.65%,#1f9a8a 48.26%,#2e6f8e 56.09%,#424186 65.65%,#46307e 71.74%,#472f7c 76.96%,#433c84 83.04%,#33638d 91.74%,#218e8d 99.57%)}
.a118{background:linear-gradient(to right,#20938c 0.43%,#20a386 3.04%,#2eb37d 5.65%,#5cc863 10.00%,#9fda39 16.09%,#bade28 19.57%,#c9e020 23.04%,#cae01f 26.52%,#bddf26 30.00%,#a3db37 33.48%,#6bcd5a 38.70%,#32b57a 43.91%,#21a685 46.52%,#1f968b 49.13%,#32658e 56.96%,#433d84 63.91%,#482475 70.00%,#481d6f 75.22%,#482576 80.43%,#433f85 86.52%,#31678e 93.48%,#228d8d 99.57%)}
.a119{background:linear-gradient(to right,#20938c 0.43%,#21a586 3.04%,#33b67a 5.65%,#68cc5c 10.00%,#acdc31 15.22%,#cde11d 18.70%,#e0e318 22.17%,#e4e419 25.65%,#dae319 29.13%,#c2df23 32.61%,#9cd93b 36.09%,#57c766 41.30%,#2fb37c 44.78%,#22a884 46.52%,#1f968b 49.13%,#31668e 56.09%,#433e85 62.17%,#481e70 68.26%,#471163 73.48%,#471265 77.83%,#482374 83.04%,#404688 89.13%,#2b758e 96.09%,#228d8d 99.57%)}
.a120{background:linear-gradient(to right,#20938c 0.43%,#21a685 3.04%,#2db27d 4.78%,#4cc26c 7.39%,#98d83e 12.61%,#c4e022 16.09%,#dde318 18.70%,#f0e51c 22.17%,#f5e61f 25.65%,#ebe51a 29.13%,#d9e219 31.74%,#bfdf25 34.35%,#85d44a 38.70%,#3bbb75 43.91%,#23a983 46.52%,#1e9d89 48.26%,#2a778e 53.48%,#3e4b89 59.57%,#482878 64.78%,#470f62 70.00%,#450659 74.35%,#460b5e 78.70%,#482172 83.91%,#424286 89.13%,#2e6d8e 95.22%,#228d8d 99.57%)}
.a121{background:linear-gradient(to right,#20938c 0.43%,#1fa088 2.17%,#27ad81 3.91%,#43be71 6.52%,#90d743 11.74%,#c1df24 15.22%,#dde318 17.83%,#f4e61f 21.30%,#fde724 24.78%,#f6e620 28.26%,#e1e318 31.74%,#c6e021 34.35%,#8ad547 38.70%,#3dbc74 43.91%,#24aa83 46.52%,#1e9d89 48.26%,#2b768e 53.48%,#3f4989 59.57%,#482575 64.78%,#46075b 70.87%,#440254 75.22%,#46095c 79.57%,#482777 85.65%,#3d4c8a 90.87%,#27808e 97.83%,#228d8d 99.57%)}
.a122{background:linear-gradient(to right,#20938c 0.43%,#1fa088 2.17%,#27ad81 3.91%,#42be71 6.52%,#90d743 11.74%,#c0df24 15.22%,#dce319 17.83%,#f3e61e 21.30%,#fce723 24.78%,#f5e61f 28.26%,#e0e318 31.74%,#c5e021 34.35%,#89d548 38.70%,#3dbb74 43.91%,#24aa83 46.52%,#1e9d89 48.26%,#2a768e 53.48%,#3f4989 59.57%,#482576 64.78%,#46085b 70.87%,#440255 75.22%,#46095d 79.57%,#482878 85.65%,#3d4c8a 90.87%,#27808e 97.83%,#228d8d 99.57%)}
.a123{background:linear-gradient(to right,#20938c 0.43%,#21a685 3.04%,#2db27d 4.78%,#4bc26d 7.39%,#95d840 12.61%,#c1df24 16.09%,#dae319 18.70%,#ede51b 22.17%,#f2e61d 25.65%,#e8e419 29.13%,#d6e21a 31.74%,#bcdf27 34.35%,#83d44c 38.70%,#3aba76 43.91%,#23a983 46.52%,#1e9d89 48.26%,#2a778e 53.48%,#404688 60.43%,#482475 65.65%,#470e61 70.87%,#46085b 75.22%,#470f62 79.57%,#482777 84.78%,#3f4989 90.00%,#297a8e 96.96%,#228d8d 99.57%)}
.a124{background:linear-gradient(to right,#20938c 0.43%,#20a586 3.04%,#32b57b 5.65%,#65cc5d 10.00%,#a7db34 15.22%,#c8e020 18.70%,#dae319 22.17%,#dfe318 25.65%,#d5e21a 29.13%,#bddf26 32.61%,#8dd645 36.96%,#4ac16d 42.17%,#2eb37d 44.78%,#22a884 46.52%,#1f968b 49.13%,#31678e 56.09%,#424086 62.17%,#482172 68.26%,#481466 73.48%,#481568 77.83%,#482676 83.04%,#3f4889 89.13%,#287c8e 96.96%,#228d8d 99.57%)}
.a125{background:linear-gradient(to right,#20938c 0.43%,#20a387 3.04%,#2db27d 5.65%,#58c765 10.00%,#98d93e 16.09%,#b3dd2d 19.57%,#c1df24 23.04%,#c2df23 26.52%,#b5de2b 30.00%,#9cd93b 33.48%,#66cc5d 38.70%,#30b47b 43.91%,#21a585 46.52%,#1f958b 49.13%,#31668e 56.96%,#443b84 64.78%,#482676 70.87%,#482173 76.09%,#472b7a 81.30%,#404688 87.39%,#2a788e 96.09%,#228d8d 99.57%)}
.a126{background:linear-gradient(to right,#20928c 0.43%,#21a586 3.91%,#2db27d 6.52%,#66cc5d 13.48%,#8cd645 18.70%,#9dd93b 23.04%,#9eda3a 26.52%,#93d741 30.00%,#78d152 34.35%,#3dbb74 41.30%,#25ab82 44.78%,#1f9e89 47.39%,#29798e 54.35%,#3f4889 64.78%,#453681 70.87%,#46337f 76.96%,#424086 83.04%,#32658e 91.74%,#218e8d 99.57%)}
.a127{background:linear-gradient(to right,#20928c 0.43%,#21a586 4.78%,#32b67a 9.13%,#60ca60 16.96%,#73d055 22.17%,#75d054 26.52%,#6acd5b 30.87%,#4ac26d 36.96%,#27ae80 43.04%,#1f9f88 46.52%,#26818e 53.48%,#39568c 64.78%,#3f4788 71.74%,#404788 77.83%,#39558c 84.78%,#277f8e 96.09%,#218e8d 99.57%)}
.a128{background:linear-gradient(to right,#20928c 0.43%,#20a387 5.65%,#2fb37c 11.74%,#49c16d 20.43%,#4dc36b 26.52%,#42be71 32.61%,#23a983 42.17%,#1f998a 47.39%,#2e6d8e 61.30%,#365b8d 70.87%,#365b8d 78.70%,#306a8e 87.39%,#218f8d 99.57%)}
.a129{background:linear-gradient(to right,#20918c 0.43%,#20a486 10.00%,#2cb17e 21.30%,#2ab07f 30.87%,#1f9f88 43.04%,#287d8e 59.57%,#2e6e8e 70.87%,#2d708e 81.30%,#25848e 94.35%,#218f8d 99.57%)}
.a130{background:linear-gradient(to right,#21918c 0.43%,#1f9f88 21.30%,#1f9a8a 37.83%,#26828e 69.13%,#25848e 85.65%,#21908d 99.57%)}
.a131{background:linear-gradient(to right,#21908d 0.43%,#228c8d 31.74%,#1f958b 78.70%,#21908c 99.57%)}
.a132{background:linear-gradient(to right,#218f8d 0.43%,#297a8e 17.83%,#2a788e 30.00%,#23888e 44.78%,#1fa088 61.30%,#23a983 74.35%,#1fa287 87.39%,#20918c 99.57%)}
.a133{background:linear-gradient(to right,#218f8d 0.43%,#2e6d8e 14.35%,#33648d 23.91%,#306a8e 33.48%,#25848e 45.65%,#1f9e89 55.22%,#28ae80 62.17%,#3aba76 71.74%,#3aba76 78.70%,#25ac82 89.13%,#1e9b8a 96.09%,#20918c 99.57%)}
.a134{background:linear-gradient(to right,#218e8d 0.43%,#34618d 13.48%,#3b518b 21.30%,#3b518b 28.26%,#34608d 36.09%,#228d8d 49.13%,#1fa188 54.35%,#2ab07f 58.70%,#52c569 67.39%,#60ca61 72.61%,#5fca61 77.83%,#50c46a 83.04%,#29af80 91.74%,#1f9f88 96.09%,#20928c 99.57%)}
.a135{background:linear-gradient(to right,#218e8d 0.43%,#39578c 12.61%,#424186 19.57%,#443c84 25.65%,#414487 31.74%,#33638d 40.43%,#1f948c 50.87%,#21a586 54.35%,#31b47b 57.83%,#63cb5f 64.78%,#80d34d 70.00%,#8ad647 74.35%,#85d44a 78.70%,#71cf56 83.04%,#40bd73 90.00%,#25ab82 94.35%,#1e9b8a 97.83%,#20928c 99.57%)}
.a136{background:linear-gradient(to right,#228e8d 0.43%,#38588c 10.00%,#453581 17.83%,#472a7a 23.04%,#472c7b 28.26%,#433d85 34.35%,#30698e 43.04%,#1f958b 50.87%,#20a486 53.48%,#2db27d 56.09%,#5dc962 61.30%,#8ed644 66.52%,#a5db36 70.00%,#b0dd2e 73.48%,#b0dd2f 76.96%,#a3da37 80.43%,#83d44b 84.78%,#47c06e 90.87%,#2ab07f 94.35%,#1fa287 96.96%,#20938c 99.57%)}
.a137{background:linear-gradient(to right,#228d8d 0.43%,#39568c 9.13%,#472f7d 16.09%,#481e6f 21.30%,#481a6c 26.52%,#482677 31.74%,#414487 37.83%,#2b748e 45.65%,#1e9b8a 51.74%,#26ac82 54.35%,#3cbb75 56.96%,#84d44b 63.04%,#b1dd2e 67.39%,#c8e020 70.87%,#d2e21b 74.35%,#cee11d 77.83%,#bbde27 81.30%,#9cd93b 84.78%,#54c667 90.87%,#2fb47c 94.35%,#20a486 96.96%,#20938c 99.57%)}
.a138{background:linear-gradient(to right,#228d8d 0.43%,#38578c 8.26%,#463480 13.48%,#481a6c 18.70%,#470d60 23.91%,#471163 28.26%,#482374 33.48%,#3f4889 39.57%,#2a788e 46.52%,#1e9c89 51.74%,#23a884 53.48%,#38b977 56.09%,#7dd24f 61.30%,#b5de2b 65.65%,#cee11d 68.26%,#e3e418 71.74%,#eae51a 75.22%,#e1e318 78.70%,#d2e21b 81.30%,#bade28 83.91%,#83d44b 88.26%,#3dbc74 93.48%,#25ab82 96.09%,#1f9f88 97.83%,#20938c 99.57%)}
.a139{background:linear-gradient(to right,#228d8d 0.43%,#3a548b 8.26%,#472f7d 13.48%,#470f62 19.57%,#450458 23.91%,#46085b 28.26%,#481d6f 33.48%,#433e85 38.70%,#33648d 43.91%,#21908c 50.00%,#20a386 52.61%,#2ab07f 54.35%,#47c06f 56.96%,#93d741 62.17%,#c2df23 65.65%,#dce319 68.26%,#f1e51d 71.74%,#f8e621 75.22%,#f0e51c 78.70%,#d8e219 82.17%,#bddf26 84.78%,#73d055 90.00%,#37b878 94.35%,#26ad81 96.09%,#1fa088 97.83%,#20938c 99.57%)}
.a140{background:linear-gradient(to right,#228d8d 0.43%,#37598c 7.39%,#443982 11.74%,#48186a 16.96%,#450659 21.30%,#440154 25.65%,#460a5d 30.00%,#482a79 36.09%,#3f4989 40.43%,#287d8e 47.39%,#1e9d89 51.74%,#24aa83 53.48%,#3dbc74 56.09%,#8ad547 61.30%,#c7e021 65.65%,#d9e219 67.39%,#eee51b 70.00%,#fce724 73.48%,#fbe723 76.96%,#ebe51a 80.43%,#d5e21a 83.04%,#b6de2a 85.65%,#69cd5c 90.87%,#38b977 94.35%,#27ad81 96.09%,#1fa088 97.83%,#20938c 99.57%)}
.a141{background:linear-gradient(to right,#228d8d 0.43%,#375a8c 7.39%,#443a83 11.74%,#481a6c 16.96%,#450659 22.17%,#450457 26.52%,#471062 30.87%,#46317e 36.96%,#3c508b 41.30%,#25838e 48.26%,#1e9d89 51.74%,#24aa83 53.48%,#3cbb75 56.09%,#88d548 61.30%,#c4e022 65.65%,#dee318 68.26%,#f4e61e 71.74%,#fae722 75.22%,#f2e61d 78.70%,#dae319 82.17%,#bfdf25 84.78%,#81d34c 89.13%,#42be72 93.48%,#26ad81 96.09%,#1fa088 97.83%,#20938c 99.57%)}
.a142{background:linear-gradient(to right,#228d8d 0.43%,#39568c 8.26%,#46337f 13.48%,#48186a 18.70%,#460c5f 23.04%,#470c5f 27.39%,#481d6f 32.61%,#424186 38.70%,#2f6b8e 44.78%,#1f968b 50.87%,#20a387 52.61%,#28af80 54.35%,#44bf71 56.96%,#8cd646 62.17%,#c2df23 66.52%,#d9e219 69.13%,#ebe51a 72.61%,#ede51b 76.09%,#e1e318 79.57%,#cfe11d 82.17%,#a9dc33 85.65%,#61ca60 90.87%,#35b779 94.35%,#25ac82 96.09%,#1fa088 97.83%,#20938c 99.57%)}
.a143{background:linear-gradient(to right,#228d8d 0.43%,#3a558c 9.13%,#46317e 15.22%,#481c6e 20.43%,#481669 25.65%,#482072 30.87%,#433d84 36.96%,#33638d 43.04%,#21908c 50.00%,#1fa187 52.61%,#2db27d 55.22%,#52c569 58.70%,#93d741 63.91%,#b7de2a 67.39%,#cfe11c 70.87%,#d9e219 74.35%,#d4e21a 77.83%,#c2df23 81.30%,#a2da38 84.78%,#57c766 90.87%,#30b47b 94.35%,#20a486 96.96%,#20938c 99.57%)}
.a144{background:linear-gradient(to right,#228d8d 0.43%,#39568c 10.00%,#453580 16.96%,#482777 22.17%,#482777 27.39%,#46337f 32.61%,#38598c 40.43%,#21908c 50.00%,#1fa088 52.61%,#28af80 55.22%,#46c06f 58.70%,#86d44a 64.78%,#a8db33 69.13%,#b7de2a 72.61%,#bade28 76.09%,#afdd2f 79.57%,#99d93d 83.04%,#67cc5d 88.26%,#32b57a 93.48%,#22a784 96.09%,#1f988b 98.70%,#20938c 99.57%)}
.a145{background:linear-gradient(to right,#218e8d 0.43%,#38578c 11.74%,#423f85 18.70%,#453781 24.78%,#433e85 30.87%,#37598c 38.70%,#21908c 50.00%,#1fa287 53.48%,#28ae80 56.09%,#4ec36b 61.30%,#7cd250 67.39%,#90d743 71.74%,#95d840 75.22%,#8cd646 79.57%,#74d055 83.91%,#3dbb74 90.87%,#26ac81 94.35%,#1fa088 96.96%,#20928c 99.57%)}
.a146{background:linear-gradient(to right,#218e8d 0.43%,#355d8d 13.48%,#3d4d8a 21.30%,#3d4c8a 28.26%,#365c8d 36.09%,#228c8d 49.13%,#1fa287 54.35%,#2db27d 58.70%,#56c666 66.52%,#68cc5c 71.74%,#6bcd5a 76.09%,#5fca61 81.30%,#38b977 89.13%,#22a784 94.35%,#1f968b 98.70%,#20928c 99.57%)}
.a147{background:linear-gradient(to right,#218f8d 0.43%,#306a8e 14.35%,#355f8d 23.04%,#33638d 31.74%,#29798e 42.17%,#1e9d89 54.35%,#27ae80 60.43%,#40bd72 70.00%,#45bf70 76.09%,#3aba76 83.04%,#21a685 92.61%,#20948c 98.70%,#20918c 99.57%)}
.a148{background:linear-gradient(to right,#218f8d 0.43%,#2a778e 16.09%,#2c738e 27.39%,#277e8e 39.57%,#1f9e89 57.83%,#26ad81 70.87%,#25ab82 82.17%,#1f998a 95.22%,#20918c 99.57%)}
.a149{background:linear-gradient(to right,#21908d 0.43%,#24868e 23.91%,#218e8d 46.52%,#1f9a8a 72.61%,#20948c 94.35%,#21908c 99.57%)}
.b0{background:linear-gradient(to bottom,#218e8d 0.32%,#39558c 8.06%,#463480 12.58%,#471265 18.39%,#450457 22.26%,#440255 26.77%,#460c5f 30.65%,#472b7a 36.45%,#3d4c8a 40.97%,#26818e 48.06%,#1f9f88 51.94%,#27ad81 53.87%,#43be71 56.45%,#91d742 61.61%,#c7e020 65.48%,#dce319 67.42%,#f3e61e 70.65%,#fde724 73.87%,#fae722 77.10%,#ebe51a 80.32%,#d5e21a 82.90%,#b6de2a 85.48%,#6acd5b 90.65%,#35b779 94.52%,#24aa83 96.45%,#1e9c89 98.39%,#20928c 99.68%)}
.b1{background:linear-gradient(to bottom,#218e8d 0.32%,#39568c 8.06%,#46327e 13.23%,#470e61 19.68%,#450356 23.55%,#450356 28.06%,#471063 31.94%,#46327f 37.74%,#3a548c 42.26%,#228b8d 49.35%,#1f9f88 51.94%,#28ae80 53.87%,#45c070 56.45%,#8bd646 60.97%,#c3e022 64.84%,#d9e219 66.77%,#eee51b 69.35%,#fbe723 72.58%,#fce724 75.81%,#f0e51c 79.03%,#dde318 81.61%,#cae01f 83.55%,#97d83f 87.42%,#4bc26c 92.58%,#2db27d 95.16%,#21a586 97.10%,#20928c 99.68%)}
.b2{background:linear-gradient(to bottom,#218e8d 0.32%,#38588c 8.06%,#463480 13.23%,#471063 19.68%,#450357 23.55%,#440356 28.06%,#470e61 31.94%,#47307d 37.74%,#3b528b 42.26%,#228b8d 49.35%,#1fa088 51.94%,#29af80 53.87%,#48c16e 56.45%,#90d743 60.97%,#c8e020 64.84%,#dde318 66.77%,#f4e61e 70.00%,#fde724 73.23%,#f9e722 76.45%,#e9e41a 79.68%,#d3e21b 82.26%,#b6de2b 84.84%,#63cb5f 90.65%,#32b57a 94.52%,#23a984 96.45%,#1e9b8a 98.39%,#20928c 99.68%)}
.b3{background:linear-gradient(to bottom,#218e8d 0.32%,#39558c 8.71%,#46327e 13.87%,#470f62 20.32%,#450356 24.19%,#450356 28.71%,#470f62 32.58%,#472d7c 37.74%,#3b518b 42.26%,#25858e 48.71%,#1fa088 51.94%,#2ab07f 53.87%,#4bc26d 56.45%,#95d840 60.97%,#c4e022 64.19%,#dae319 66.13%,#f2e61d 69.35%,#fce724 72.58%,#fae722 75.81%,#ebe51a 79.03%,#d6e21a 81.61%,#b9de28 84.19%,#69cd5b 90.00%,#37b977 93.87%,#23a884 96.45%,#1f978b 99.03%,#20928c 99.68%)}
.b4{background:linear-gradient(to bottom,#218e8d 0.32%,#39568c 8.71%,#463480 13.87%,#471163 20.32%,#450356 24.84%,#450356 29.35%,#471063 33.23%,#47307d 38.39%,#3a548c 42.90%,#238b8d 49.35%,#1fa188 51.94%,#2bb07e 53.87%,#4ec36b 56.45%,#99d93d 60.97%,#c9e020 64.19%,#dee318 66.13%,#f4e61f 69.35%,#fde724 72.58%,#f8e621 75.81%,#e8e419 79.03%,#d2e21b 81.61%,#addc30 84.84%,#5dc962 90.65%,#36b878 93.87%,#22a884 96.45%,#1f978b 99.03%,#20928c 99.68%)}
.b5{background:linear-gradient(to bottom,#218e8d 0.32%,#38578c 8.71%,#453581 13.87%,#471265 20.32%,#450357 24.84%,#450356 29.35%,#470f61 33.23%,#472d7c 38.39%,#3a528b 42.90%,#238a8d 49.35%,#1fa187 51.94%,#2cb17e 53.87%,#51c469 56.45%,#9eda3a 60.97%,#c5e022 63.55%,#dbe319 65.48%,#f3e61e 68.71%,#fde724 71.94%,#f9e622 75.16%,#e9e41a 78.39%,#d5e21a 80.97%,#b1dd2e 84.19%,#63cb5f 90.00%,#34b779 93.87%,#22a784 96.45%,#1f968b 99.03%,#20928c 99.68%)}
.b6{background:linear-gradient(to bottom,#218e8d 0.32%,#38598c 8.71%,#453782 13.87%,#481467 20.32%,#450458 24.84%,#440255 29.35%,#470d60 33.23%,#472b7a 38.39%,#3b518b 42.90%,#25848e 48.71%,#1e9c89 51.29%,#22a784 52.58%,#36b878 54.52%,#6bcd5a 57.74%,#b8de2a 62.26%,#d1e11c 64.19%,#e5e419 66.13%,#f8e621 69.35%,#fde724 72.58%,#f5e61f 75.81%,#e2e418 79.03%,#cae11f 81.61%,#94d841 86.13%,#47c06e 91.94%,#28ae80 95.16%,#20a387 97.10%,#20928c 99.68%)}
.b7{background:linear-gradient(to bottom,#218e8d 0.32%,#39568c 9.35%,#46317e 15.16%,#470e61 22.26%,#440255 26.77%,#450558 31.29%,#48186a 35.81%,#453882 40.32%,#375a8d 44.19%,#21908c 50.00%,#1fa287 51.94%,#28ae80 53.23%,#42be72 55.16%,#87d549 59.03%,#bddf26 62.26%,#d5e21a 64.19%,#e8e419 66.13%,#f9e622 69.35%,#fce724 72.58%,#f3e61e 75.81%,#dfe318 79.03%,#c7e021 81.61%,#87d549 86.77%,#3ebc74 92.58%,#28ae80 95.16%,#1f9e89 97.74%,#20928c 99.68%)}
.b8{background:linear-gradient(to bottom,#218e8d 0.32%,#38578c 9.35%,#46337f 15.16%,#470f62 22.26%,#450356 26.77%,#450457 31.29%,#471265 35.16%,#46307e 39.68%,#3a528b 43.55%,#238a8d 49.35%,#1e9d89 51.29%,#23a983 52.58%,#3aba76 54.52%,#80d34d 58.39%,#b8de29 61.61%,#d2e21b 63.55%,#e6e419 65.48%,#f8e621 68.71%,#fce724 71.94%,#f4e61e 75.16%,#dbe319 79.03%,#c3e023 81.61%,#73d055 88.06%,#3dbb74 92.58%,#27ad81 95.16%,#1f9e89 97.74%,#20928c 99.68%)}
.b9{background:linear-gradient(to bottom,#218e8d 0.32%,#38588c 9.35%,#453580 15.16%,#471164 22.26%,#450357 26.77%,#450356 31.29%,#471063 35.16%,#472e7c 39.68%,#3b508b 43.55%,#238a8d 49.35%,#1e9d89 51.29%,#24aa83 52.58%,#3cbb75 54.52%,#85d44a 58.39%,#bddf26 61.61%,#d7e21a 63.55%,#eee51b 66.13%,#fbe723 69.35%,#fbe723 72.58%,#ebe51a 76.45%,#d8e219 79.03%,#bfdf25 81.61%,#6fcf57 88.06%,#3bbb75 92.58%,#26ad81 95.16%,#1f9e89 97.74%,#20928c 99.68%)}
.b10{background:linear-gradient(to bottom,#218e8d 0.32%,#39568c 10.00%,#46337f 15.81%,#470e60 23.55%,#440255 28.06%,#450558 32.58%,#481568 36.45%,#453681 40.97%,#365b8d 44.84%,#21908c 50.00%,#20a486 51.94%,#2bb17e 53.23%,#4bc26d 55.16%,#97d83f 59.03%,#c2df23 61.61%,#dbe319 63.55%,#f0e51c 66.13%,#fce723 69.35%,#fae722 72.58%,#e9e419 76.45%,#d5e21a 79.03%,#b4dd2c 82.26%,#64cb5e 88.71%,#34b679 93.23%,#23a884 95.81%,#1f9a8a 98.39%,#20928c 99.68%)}
.b11{background:linear-gradient(to bottom,#218e8d 0.32%,#38578c 10.00%,#453580 15.81%,#471264 22.90%,#450457 27.42%,#450356 31.94%,#470d60 35.16%,#482978 39.68%,#3d4c8a 43.55%,#26828e 48.71%,#1f9e89 51.29%,#25ac82 52.58%,#42be71 54.52%,#83d44b 57.74%,#bedf26 60.97%,#d8e219 62.90%,#eee51c 65.48%,#fbe723 68.71%,#fae722 71.94%,#eae51a 75.81%,#d7e21a 78.39%,#b7de2a 81.61%,#69cd5b 88.06%,#38b977 92.58%,#25ab82 95.16%,#1e9d89 97.74%,#20928c 99.68%)}
.b12{background:linear-gradient(to bottom,#218e8d 0.32%,#38588c 10.00%,#453781 15.81%,#481366 22.90%,#450357 28.06%,#450357 32.58%,#470e61 35.81%,#472b7a 40.32%,#3b508b 44.19%,#23898e 49.35%,#1f9f88 51.29%,#26ad81 52.58%,#45bf70 54.52%,#89d548 57.74%,#b9de29 60.32%,#d4e21a 62.26%,#e8e419 64.19%,#f7e620 66.77%,#fce724 70.00%,#f2e61d 73.87%,#dee318 77.10%,#c8e020 79.68%,#7ed34f 86.13%,#3dbb74 91.94%,#25ab82 95.16%,#1e9d89 97.74%,#20928c 99.68%)}
.b13{background:linear-gradient(to bottom,#218e8d 0.32%,#39568c 10.65%,#453580 16.45%,#471063 24.19%,#450356 28.71%,#450457 33.23%,#470f62 36.45%,#482878 40.32%,#3c4e8a 44.19%,#26818e 48.71%,#1f9f88 51.29%,#28ae80 52.58%,#49c16e 54.52%,#8ed644 57.74%,#bedf25 60.32%,#d9e219 62.26%,#efe51c 64.84%,#fbe723 68.06%,#fae722 71.29%,#e9e419 75.16%,#d6e21a 77.74%,#b7de2a 80.97%,#64cb5e 88.06%,#35b778 92.58%,#24aa83 95.16%,#1e9c89 97.74%,#20928c 99.68%)}
.b14{background:linear-gradient(to bottom,#218e8d 0.32%,#38578c 10.65%,#46337f 17.10%,#470c60 25.48%,#440255 30.00%,#450458 33.87%,#481467 37.74%,#46317e 41.61%,#3a538b 44.84%,#23888e 49.35%,#1fa088 51.29%,#29af7f 52.58%,#4dc36c 54.52%,#94d840 57.74%,#c4e022 60.32%,#dde318 62.26%,#f2e61d 64.84%,#fce724 68.06%,#f8e621 71.29%,#e6e419 75.16%,#d2e21b 77.74%,#acdc31 81.61%,#5ac864 88.71%,#34b779 92.58%,#21a685 95.81%,#1f958b 99.03%,#20928c 99.68%)}
.b15{background:linear-gradient(to bottom,#218e8d 0.32%,#38588c 10.65%,#463580 17.10%,#471063 24.84%,#450357 29.35%,#450357 33.87%,#470e61 37.10%,#482878 40.97%,#3f4989 44.19%,#27808e 48.71%,#1f988b 50.65%,#23a984 51.94%,#36b878 53.23%,#7ed34f 56.45%,#b4dd2c 59.03%,#d2e21b 60.97%,#e7e419 62.90%,#f7e620 65.48%,#fce724 68.71%,#f2e61d 72.58%,#dae319 76.45%,#bddf26 79.68%,#6dce59 86.77%,#38b977 91.94%,#23a983 95.16%,#1f998a 98.39%,#20928c 99.68%)}
.b16{background:linear-gradient(to bottom,#218e8d 0.32%,#39558c 11.29%,#46337f 17.74%,#470d60 26.13%,#450356 30.65%,#450457 34.52%,#471063 37.74%,#472b7a 41.61%,#3d4e8a 44.84%,#24878e 49.35%,#1f998a 50.65%,#1fa187 51.29%,#24aa83 51.94%,#38b977 53.23%,#75d054 55.81%,#aedc30 58.39%,#cee11d 60.32%,#e5e419 62.26%,#f6e61f 64.84%,#fce724 68.06%,#f3e61e 71.94%,#dce319 75.81%,#c0df25 79.03%,#6acd5a 86.77%,#37b877 91.94%,#23a983 95.16%,#1f988b 98.39%,#20928c 99.68%)}
.b17{background:linear-gradient(to bottom,#218e8d 0.32%,#39578c 11.29%,#463480 17.74%,#470f62 26.13%,#450356 30.65%,#450458 35.16%,#471164 38.39%,#482878 41.61%,#3e4b89 44.84%,#277e8e 48.71%,#1f998a 50.65%,#1fa287 51.29%,#25ab82 51.94%,#3bbb75 53.23%,#7bd251 55.81%,#b4dd2c 58.39%,#d3e21b 60.32%,#e8e419 62.26%,#f7e620 64.84%,#fce723 68.06%,#f1e51d 71.94%,#dee318 75.16%,#c2df23 78.39%,#6fce58 86.13%,#3bbb75 91.29%,#25ac82 94.52%,#1e9c8a 97.74%,#20928c 99.68%)}
.b18{background:linear-gradient(to bottom,#218e8d 0.32%,#38588c 11.29%,#453681 17.74%,#471365 25.48%,#450457 30.65%,#450457 35.16%,#470f62 38.39%,#482576 41.61%,#3f4889 44.84%,#287d8e 48.71%,#1f9a8a 50.65%,#20a386 51.29%,#26ac81 51.94%,#3fbd73 53.23%,#81d34d 55.81%,#aedc30 57.74%,#cfe11c 59.68%,#e6e419 61.61%,#f6e620 64.19%,#fce723 67.42%,#f2e61d 71.29%,#dbe319 75.16%,#bfdf25 78.39%,#6cce59 86.13%,#3aba76 91.29%,#25ab82 94.52%,#1e9b8a 97.74%,#20928c 99.68%)}
.b19{background:linear-gradient(to bottom,#218f8d 0.32%,#38598c 11.29%,#463480 18.39%,#470f62 26.77%,#450357 31.29%,#450457 35.81%,#471163 39.03%,#482878 42.26%,#404588 44.84%,#2c728e 48.06%,#1f9a8a 50.65%,#20a486 51.29%,#27ae80 51.94%,#43be71 53.23%,#88d548 55.81%,#b4dd2c 57.74%,#d4e21a 59.68%,#e9e41a 61.61%,#f8e621 64.19%,#fbe723 67.42%,#f0e51c 71.29%,#dde318 74.52%,#c2df23 77.74%,#71cf57 85.48%,#39b977 91.29%,#24ab82 94.52%,#1e9b8a 97.74%,#20928c 99.68%)}
.b20{background:linear-gradient(to bottom,#218f8d 0.32%,#39568c 11.94%,#46337f 19.03%,#470c5f 28.06%,#440356 32.58%,#450558 36.45%,#471265 39.68%,#472b7a 42.90%,#3e4a89 45.48%,#297b8e 48.71%,#1e9b8a 50.65%,#21a585 51.29%,#29af7f 51.94%,#48c06e 53.23%,#7ed34f 55.16%,#addc30 57.10%,#d0e11c 59.03%,#e7e419 60.97%,#f7e620 63.55%,#fbe723 66.77%,#f1e51d 70.65%,#dae319 74.52%,#bedf25 77.74%,#6ece58 85.48%,#3dbb74 90.65%,#27ad81 93.87%,#1f9e89 97.10%,#20928c 99.68%)}
.b21{background:linear-gradient(to bottom,#218f8d 0.32%,#38578c 11.94%,#463480 19.03%,#471063 27.42%,#450356 32.58%,#450457 36.45%,#471063 39.68%,#482878 42.90%,#3f4788 45.48%,#297a8e 48.71%,#1e9b8a 50.65%,#21a685 51.29%,#2bb17e 51.94%,#4dc36c 53.23%,#85d44a 55.16%,#b4dd2c 57.10%,#cce11e 58.39%,#dee318 59.68%,#efe51c 61.61%,#fae722 64.19%,#fae722 67.42%,#ece51a 71.29%,#d7e21a 74.52%,#b5de2b 78.39%,#65cb5e 86.13%,#36b878 91.29%,#24aa83 94.52%,#1e9b8a 97.74%,#20928c 99.68%)}
.b22{background:linear-gradient(to bottom,#218f8d 0.32%,#38588c 11.94%,#453681 19.03%,#471164 27.42%,#450357 32.58%,#450458 37.10%,#471164 40.32%,#472b7a 43.55%,#3d4d8a 46.13%,#25848e 49.35%,#1e9c89 50.65%,#22a884 51.29%,#2eb37d 51.94%,#66cc5d 53.87%,#9eda3a 55.81%,#c7e020 57.74%,#dae319 59.03%,#ede51b 60.97%,#f9e722 63.55%,#fae722 66.77%,#ede51b 70.65%,#d9e219 73.87%,#bedf26 77.10%,#69cd5b 85.48%,#3aba76 90.65%,#26ac81 93.87%,#1f9e89 97.10%,#20928c 99.68%)}
.b23{background:linear-gradient(to bottom,#218f8d 0.32%,#39568c 12.58%,#463480 19.68%,#470e61 28.71%,#450356 33.23%,#450457 37.10%,#470f62 40.32%,#482878 43.55%,#3e4a89 46.13%,#2a778e 48.71%,#1e9d89 50.65%,#23a983 51.29%,#31b57b 51.94%,#6dce59 53.87%,#a5db35 55.81%,#cde11d 57.74%,#dfe318 59.03%,#f0e51c 60.97%,#fae722 63.55%,#f9e722 66.77%,#ebe51a 70.65%,#d6e21a 73.87%,#b4dd2c 77.74%,#60ca60 86.13%,#34b779 91.29%,#23a983 94.52%,#1f9a8a 97.74%,#20928c 99.68%)}
.b24{background:linear-gradient(to bottom,#218f8d 0.32%,#38578c 12.58%,#453581 19.68%,#471265 28.06%,#450457 33.23%,#450457 37.74%,#471163 40.97%,#482575 43.55%,#404688 46.13%,#2b758e 48.71%,#21908c 50.00%,#1f9e89 50.65%,#25ab82 51.29%,#34b779 51.94%,#75d054 53.87%,#addc31 55.81%,#c8e020 57.10%,#dbe319 58.39%,#eee51b 60.32%,#fae722 62.90%,#fae722 66.13%,#ece51a 70.00%,#d8e219 73.23%,#b7de2a 77.10%,#64cb5e 85.48%,#38b977 90.65%,#23a984 94.52%,#1f978b 98.39%,#20928c 99.68%)}
.b25{background:linear-gradient(to bottom,#218f8d 0.32%,#38588c 12.58%,#453781 19.68%,#481366 28.06%,#450457 33.87%,#450357 37.74%,#470f61 40.97%,#482273 43.55%,#453882 45.48%,#38598c 47.42%,#21908c 50.00%,#1f9f88 50.65%,#27ad81 51.29%,#39b977 51.94%,#67cc5d 53.23%,#92d742 54.52%,#b4dd2c 55.81%,#cee11d 57.10%,#e0e318 58.39%,#f1e51d 60.32%,#fae722 62.90%,#f9e621 66.13%,#eae51a 70.00%,#d5e21a 73.23%,#b4dd2c 77.10%,#62cb5f 85.48%,#37b878 90.65%,#22a884 94.52%,#1f978b 98.39%,#20928c 99.68%)}
.b26{background:linear-gradient(to bottom,#218f8d 0.32%,#39568c 13.23%,#46327f 20.97%,#470c5f 30.65%,#450356 35.16%,#450559 39.03%,#481467 42.26%,#472c7b 44.84%,#3f4989 46.77%,#2d718e 48.71%,#21908c 50.00%,#1fa088 50.65%,#29af7f 51.29%,#56c666 52.58%,#86d44a 53.87%,#acdc31 55.16%,#c9e01f 56.45%,#dde318 57.74%,#efe51c 59.68%,#fae722 62.26%,#f9e722 65.48%,#ebe51a 69.35%,#d7e21a 72.58%,#b7de2a 76.45%,#66cc5d 84.84%,#36b878 90.65%,#22a884 94.52%,#1f978b 98.39%,#20928c 99.68%)}
.b27{background:linear-gradient(to bottom,#218f8d 0.32%,#38578c 13.23%,#463480 20.97%,#471062 30.00%,#450356 35.16%,#450458 39.03%,#471264 42.26%,#482878 44.84%,#404588 46.77%,#2e6e8e 48.71%,#21908c 50.00%,#1fa187 50.65%,#2cb17e 51.29%,#5ec962 52.58%,#8fd644 53.87%,#b4dd2c 55.16%,#cfe11c 56.45%,#e1e318 57.74%,#f2e61d 59.68%,#fae723 62.26%,#f8e621 65.48%,#e5e419 70.00%,#cfe11c 73.23%,#a2da38 78.39%,#4dc36b 87.42%,#2db27d 91.94%,#20a586 95.16%,#20918c 99.68%)}
.b28{background:linear-gradient(to bottom,#218f8d 0.32%,#38588c 13.23%,#453580 20.97%,#471164 30.00%,#450457 35.16%,#450457 39.03%,#470f62 42.26%,#482475 44.84%,#424086 46.77%,#2f6b8e 48.71%,#21908c 50.00%,#20a387 50.65%,#30b47c 51.29%,#67cc5d 52.58%,#98d83e 53.87%,#bcdf27 55.16%,#d5e21a 56.45%,#ebe51a 58.39%,#f9e621 60.97%,#fae722 64.19%,#ede51b 68.06%,#dae319 71.29%,#c2df23 74.52%,#6ece58 83.55%,#38b977 90.00%,#24aa83 93.87%,#1f9a8a 97.74%,#20918c 99.68%)}
.b29{background:linear-gradient(to bottom,#218f8d 0.32%,#39568c 13.87%,#463480 21.61%,#470e61 31.29%,#450356 36.45%,#450559 40.32%,#481668 43.55%,#482878 45.48%,#3f4889 47.42%,#30688e 48.71%,#21908c 50.00%,#21a586 50.65%,#35b779 51.29%,#52c568 51.94%,#8ad647 53.23%,#b4dd2c 54.52%,#d0e11c 55.81%,#e2e418 57.10%,#f2e61e 59.03%,#fae723 61.61%,#f6e61f 65.48%,#e0e318 70.00%,#c9e01f 73.23%,#71cf56 82.90%,#3bbb75 89.35%,#26ac82 93.23%,#1e9c89 97.10%,#20918c 99.68%)}
.b30{background:linear-gradient(to bottom,#218f8d 0.32%,#38578c 13.87%,#453580 21.61%,#470f62 31.29%,#450357 36.45%,#450458 40.32%,#470f61 42.90%,#482475 45.48%,#453782 46.77%,#3a538b 48.06%,#29798e 49.35%,#21908c 50.00%,#22a785 50.65%,#3aba76 51.29%,#5bc863 51.94%,#7ad251 52.58%,#95d840 53.23%,#aadc32 53.87%,#cae11f 55.16%,#dfe318 56.45%,#f1e51d 58.39%,#fae722 60.97%,#f8e621 64.19%,#e6e419 68.71%,#d0e11c 71.94%,#a5db36 77.10%,#53c568 86.13%,#2eb37c 91.29%,#20a486 95.16%,#20918c 99.68%)}
.b31{background:linear-gradient(to bottom,#218f8d 0.32%,#38588c 13.87%,#453681 21.61%,#471365 30.65%,#450457 36.45%,#450457 40.32%,#470c5f 42.90%,#482172 45.48%,#46327f 46.77%,#3d4e8a 48.06%,#2a778e 49.35%,#21908c 50.00%,#24a983 50.65%,#42be72 51.29%,#65cc5d 51.94%,#85d44a 52.58%,#9fda3a 53.23%,#b3dd2c 53.87%,#d1e11c 55.16%,#e4e418 56.45%,#f3e61e 58.39%,#fae723 60.97%,#f5e61f 64.84%,#dfe318 69.35%,#c9e020 72.58%,#73d055 82.26%,#3ebc74 88.71%,#25ab82 93.23%,#1e9c89 97.10%,#20918c 99.68%)}
.b32{background:linear-gradient(to bottom,#218f8d 0.32%,#38598c 13.87%,#453580 22.26%,#471063 31.94%,#450457 37.10%,#450458 40.97%,#470e61 43.55%,#481d6f 45.48%,#472d7c 46.77%,#3f4889 48.06%,#365b8d 48.71%,#2c748e 49.35%,#21908c 50.00%,#26ac81 50.65%,#4ac26d 51.29%,#70cf57 51.94%,#90d743 52.58%,#a9dc33 53.23%,#bcdf27 53.87%,#d7e21a 55.16%,#ede51b 57.10%,#f9e722 59.68%,#f9e621 62.90%,#e8e419 67.42%,#d4e21a 70.65%,#b0dd2e 75.16%,#5ac864 84.84%,#30b47b 90.65%,#21a685 94.52%,#20948c 99.03%,#20918c 99.68%)}
.b33{background:linear-gradient(to bottom,#218f8d 0.32%,#39578c 14.52%,#46337f 22.90%,#470d60 33.23%,#450356 38.39%,#45065a 42.26%,#481467 44.84%,#482978 46.77%,#414287 48.06%,#39568c 48.71%,#2d708e 49.35%,#21908c 50.00%,#2ab07f 50.65%,#55c667 51.29%,#7cd250 51.94%,#9bd93c 52.58%,#b3dd2d 53.23%,#c4e022 53.87%,#dde318 55.16%,#f0e51c 57.10%,#fae722 59.68%,#f6e620 63.55%,#e2e418 68.06%,#cde11d 71.29%,#91d743 78.39%,#49c16e 86.77%,#29af7f 91.94%,#1fa088 95.81%,#20918c 99.68%)}
.b34{background:linear-gradient(to bottom,#218f8d 0.32%,#38588c 14.52%,#463580 22.90%,#471063 32.58%,#450457 37.74%,#450457 41.61%,#470d60 44.19%,#481d6e 46.13%,#472f7d 47.42%,#433c84 48.06%,#3c508b 48.71%,#2f6c8e 49.35%,#21908c 50.00%,#2fb47c 50.65%,#60ca60 51.29%,#89d548 51.94%,#a6db35 52.58%,#bcdf27 53.23%,#cce11e 53.87%,#e2e418 55.16%,#f3e61e 57.10%,#fae722 59.68%,#f5e61f 63.55%,#e0e318 68.06%,#cae11f 71.29%,#72cf56 81.61%,#3aba76 88.71%,#24aa83 93.23%,#1e9b8a 97.10%,#20918c 99.68%)}
.b35{background:linear-gradient(to bottom,#218f8d 0.32%,#38588c 14.52%,#453681 22.90%,#471264 32.58%,#450457 38.39%,#450458 42.26%,#470f62 44.84%,#482072 46.77%,#453681 48.06%,#3e4a89 48.71%,#31678e 49.35%,#21908c 50.00%,#36b878 50.65%,#6ece59 51.29%,#96d83f 51.94%,#b1dd2e 52.58%,#c5e022 53.23%,#d3e21b 53.87%,#e6e419 55.16%,#f5e61f 57.10%,#fae722 59.68%,#f3e61e 63.55%,#dde318 68.06%,#c2df23 71.94%,#6acd5b 82.26%,#39ba76 88.71%,#24aa83 93.23%,#1e9b8a 97.10%,#20918c 99.68%)}
.b36{background:linear-gradient(to bottom,#218f8d 0.32%,#39578c 15.16%,#463480 23.55%,#470f62 33.87%,#450357 39.03%,#450558 42.90%,#471163 45.48%,#482575 47.42%,#46307e 48.06%,#414387 48.71%,#34618d 49.35%,#21908c 50.00%,#40bd73 50.65%,#7cd250 51.29%,#a2da37 51.94%,#bbde27 52.58%,#cde11d 53.23%,#e3e418 54.52%,#f3e61e 56.45%,#fae722 59.03%,#f4e61e 62.90%,#dfe318 67.42%,#c9e01f 70.65%,#73d055 80.97%,#3cbb75 88.06%,#25ac82 92.58%,#1f9d89 96.45%,#20918c 99.68%)}
.b37{background:linear-gradient(to bottom,#218f8d 0.32%,#38578c 15.16%,#453681 23.55%,#471063 33.87%,#450357 39.68%,#450659 43.55%,#471365 46.13%,#482072 47.42%,#472b7a 48.06%,#443c84 48.71%,#375b8d 49.35%,#21908c 50.00%,#4bc26c 50.65%,#8bd646 51.29%,#afdd2f 51.94%,#c5e022 52.58%,#d4e21a 53.23%,#e7e419 54.52%,#f5e61f 56.45%,#fae722 59.68%,#f0e51c 63.55%,#dde319 67.42%,#c2df23 71.29%,#6bcd5a 81.61%,#38b977 88.71%,#23a983 93.23%,#1f988b 97.74%,#20918c 99.68%)}
.b38{background:linear-gradient(to bottom,#218f8d 0.32%,#38588c 15.16%,#463480 24.19%,#470f62 34.52%,#450457 39.68%,#450558 43.55%,#471063 46.13%,#481c6e 47.42%,#482576 48.06%,#463480 48.71%,#3a538b 49.35%,#21908c 50.00%,#59c864 50.65%,#9ad93d 51.29%,#bade28 51.94%,#cde11d 52.58%,#dbe319 53.23%,#ebe51a 54.52%,#f7e620 56.45%,#f9e722 59.68%,#ece51a 64.19%,#d6e21a 68.06%,#b5de2b 72.58%,#5fca61 82.90%,#33b67a 89.35%,#21a685 93.87%,#1f968b 98.39%,#20918c 99.68%)}
.b39{background:linear-gradient(to bottom,#218f8d 0.32%,#39568c 15.81%,#46337f 24.84%,#470d60 35.81%,#450356 40.97%,#46075b 44.84%,#471265 46.77%,#482072 48.06%,#472e7c 48.71%,#3e4c8a 49.35%,#21908c 50.00%,#69cd5b 50.65%,#a8db33 51.29%,#c4e022 51.94%,#d5e21a 52.58%,#e8e419 53.87%,#f6e61f 55.81%,#fae722 59.03%,#ede51b 63.55%,#d8e219 67.42%,#b7de2a 71.94%,#63cb5f 82.26%,#36b878 88.71%,#23a884 93.23%,#1f988b 97.74%,#20918c 99.68%)}
.b40{background:linear-gradient(to bottom,#218f8d 0.32%,#38578c 15.81%,#463480 24.84%,#471063 35.16%,#450357 40.97%,#450659 44.84%,#470f62 46.77%,#481c6e 48.06%,#482777 48.71%,#414387 49.35%,#21908c 50.00%,#7ad251 50.65%,#b6de2b 51.29%,#cee11d 51.94%,#dce319 52.58%,#ece51b 53.87%,#f7e620 55.81%,#f9e622 59.03%,#ebe51a 63.55%,#d5e21a 67.42%,#afdd2f 72.58%,#5cc863 82.90%,#31b57b 89.35%,#21a685 93.87%,#20948c 99.03%,#20918c 99.68%)}
.b41{background:linear-gradient(to bottom,#218f8d 0.32%,#38588c 15.81%,#453581 24.84%,#471164 35.16%,#450457 40.97%,#450558 44.84%,#470d60 46.77%,#48186a 48.06%,#482273 48.71%,#443b84 49.35%,#21908c 50.00%,#8bd646 50.65%,#c2df23 51.29%,#d6e21a 51.94%,#e9e41a 53.23%,#f6e620 55.16%,#f9e722 58.39%,#ece51a 62.90%,#d7e21a 66.77%,#b7de2a 71.29%,#5fc961 82.26%,#34b779 88.71%,#22a884 93.23%,#1f988b 97.74%,#20918c 99.68%)}
.b42{background:linear-gradient(to bottom,#218f8d 0.32%,#39568c 16.45%,#463480 25.48%,#470f61 36.45%,#450356 42.26%,#46085b 46.13%,#481467 48.06%,#481d6e 48.71%,#463380 49.35%,#21908c 50.00%,#9cd93b 50.65%,#cce11e 51.29%,#dde319 51.94%,#ede51b 53.23%,#f7e620 55.16%,#f9e621 58.39%,#eae51a 62.90%,#d4e21a 66.77%,#afdd2f 71.94%,#59c765 82.90%,#30b47b 89.35%,#21a585 93.87%,#20938c 99.03%,#20918c 99.68%)}
.b43{background:linear-gradient(to bottom,#218f8d 0.32%,#38578c 16.45%,#453581 25.48%,#471062 36.45%,#450457 42.26%,#45065a 46.13%,#471164 48.06%,#48186a 48.71%,#472c7b 49.35%,#21908c 50.00%,#abdc32 50.65%,#d5e21a 51.29%,#e2e418 51.94%,#f0e51c 53.23%,#f9e722 55.81%,#f5e61f 59.68%,#dee318 64.84%,#c5e022 68.71%,#6fcf58 79.68%,#3aba76 87.42%,#23a983 92.58%,#1f9a8a 97.10%,#20918c 99.68%)}
.b44{background:linear-gradient(to bottom,#218f8d 0.32%,#38588c 16.45%,#463480 26.13%,#470f62 37.10%,#450357 42.90%,#46075b 46.77%,#481467 48.71%,#482676 49.35%,#21908c 50.00%,#b8de29 50.65%,#dde319 51.29%,#e7e419 51.94%,#f6e61f 53.87%,#f9e622 57.10%,#ece51a 61.61%,#d8e219 65.48%,#b9de29 70.00%,#64cb5e 80.97%,#35b778 88.06%,#23a983 92.58%,#1f9a8a 97.10%,#20918c 99.68%)}
.b45{background:linear-gradient(to bottom,#218f8d 0.32%,#38588c 16.45%,#453580 26.13%,#471063 37.10%,#450457 42.90%,#45065a 46.77%,#471164 48.71%,#482172 49.35%,#21908c 50.00%,#c4e022 50.65%,#e3e418 51.29%,#f1e51d 52.58%,#f9e722 55.16%,#f4e61e 59.03%,#dde318 64.19%,#c4e022 68.06%,#6ccd5a 79.68%,#38b977 87.42%,#23a984 92.58%,#1f988b 97.74%,#20918c 99.68%)}
.b46{background:linear-gradient(to bottom,#218f8d 0.32%,#38578c 17.10%,#463480 26.77%,#470e61 38.39%,#450357 44.19%,#46075a 47.42%,#470e61 48.71%,#481c6e 49.35%,#21908c 50.00%,#cde11d 50.65%,#e8e419 51.29%,#f3e61e 52.58%,#f9e722 55.16%,#f3e61e 59.03%,#dbe319 64.19%,#bddf26 68.71%,#65cb5e 80.32%,#37b877 87.42%,#23a884 92.58%,#1f988b 97.74%,#20918c 99.68%)}
.b47{background:linear-gradient(to bottom,#218f8d 0.32%,#38588c 17.10%,#453580 26.77%,#471163 37.74%,#450457 43.55%,#450659 47.42%,#460b5f 48.71%,#48196b 49.35%,#21908c 50.00%,#d4e21a 50.65%,#ece51a 51.29%,#f7e620 53.23%,#f8e621 56.45%,#e9e41a 60.97%,#d5e21a 64.84%,#b1dd2e 70.00%,#5ac864 81.61%,#33b67a 88.06%,#22a884 92.58%,#1f978b 97.74%,#20918c 99.68%)}
.b48{background:linear-gradient(to bottom,#218f8d 0.32%,#38588c 17.10%,#453681 26.77%,#471264 37.74%,#450457 44.19%,#45065a 48.06%,#46095d 48.71%,#481568 49.35%,#21908c 50.00%,#dae319 50.65%,#efe51c 51.29%,#f8e621 53.23%,#f7e620 56.45%,#e4e419 61.61%,#cee11d 65.48%,#97d83f 73.23%,#4cc26c 83.55%,#2db27d 89.35%,#20a486 93.87%,#20918c 99.68%)}
.b49{background:linear-gradient(to bottom,#218f8d 0.32%,#38578c 17.74%,#453580 27.42%,#470f62 39.03%,#450457 44.84%,#450559 48.06%,#46085b 48.71%,#471365 49.35%,#21908c 50.00%,#dfe318 50.65%,#f2e61d 51.29%,#f9e622 53.87%,#f3e61e 57.74%,#dbe319 62.90%,#bfdf25 67.42%,#69cd5b 79.03%,#38b977 86.77%,#24aa83 91.94%,#1f998a 97.10%,#20918c 99.68%)}
.b50{background:linear-gradient(to bottom,#218f8d 0.32%,#38578c 17.74%,#453681 27.42%,#471063 39.03%,#450457 44.84%,#45065a 48.71%,#471163 49.35%,#21908c 50.00%,#e3e418 50.65%,#f4e61e 51.29%,#f9e622 53.87%,#efe51c 58.39%,#d9e219 62.90%,#bcdf27 67.42%,#63cb5f 79.68%,#37b977 86.77%,#23a983 91.94%,#1f998a 97.10%,#20918c 99.68%)}
.b51{background:linear-gradient(to bottom,#218f8d 0.32%,#38588c 17.74%,#453580 28.06%,#471063 39.68%,#450457 45.48%,#450559 48.71%,#470f62 49.35%,#21908c 50.00%,#e6e419 50.65%,#f6e61f 51.29%,#f9e621 53.87%,#ede51b 58.39%,#d7e21a 62.90%,#b5de2b 68.06%,#5dc962 80.32%,#33b679 87.42%,#22a784 92.58%,#1f958b 98.39%,#20918c 99.68%)}
.b52{background:linear-gradient(to bottom,#218f8d 0.32%,#39578c 18.39%,#463480 28.71%,#470d60 40.97%,#450457 46.77%,#450558 48.71%,#470e60 49.35%,#21908c 50.00%,#e9e419 50.65%,#f7e620 51.29%,#f7e620 54.52%,#e6e419 59.68%,#d1e11c 63.55%,#a1da38 70.65%,#4fc46a 82.26%,#2db27d 88.71%,#20a387 93.87%,#20918c 99.68%)}
.b53{background:linear-gradient(to bottom,#218f8d 0.32%,#38578c 18.39%,#463580 28.71%,#471063 40.32%,#450458 46.13%,#450458 48.71%,#470c5f 49.35%,#21908c 50.00%,#eae51a 50.65%,#f8e621 51.29%,#f6e620 54.52%,#e4e418 59.68%,#cfe11d 63.55%,#95d840 71.94%,#4ac26d 82.90%,#2ab07f 89.35%,#1fa188 94.52%,#20918c 99.68%)}
.b54{background:linear-gradient(to bottom,#218f8d 0.32%,#38588c 18.39%,#453681 28.71%,#471164 40.32%,#450457 46.77%,#450457 48.71%,#460c5f 49.35%,#21908c 50.00%,#ece51a 50.65%,#f8e621 51.29%,#f4e61e 55.16%,#dbe319 60.97%,#c0df24 65.48%,#6acd5b 77.74%,#38b977 86.13%,#24aa83 91.29%,#1e9b8a 96.45%,#20918c 99.68%)}
.b55{background:linear-gradient(to bottom,#218f8d 0.32%,#39578c 19.03%,#463480 29.35%,#470f62 41.61%,#450457 47.42%,#450457 48.71%,#460b5e 49.35%,#21908c 50.00%,#ece51b 50.65%,#f8e621 51.29%,#f3e61e 55.16%,#dde319 60.32%,#c2df23 64.84%,#68cc5c 77.74%,#37b878 86.13%,#24aa83 91.29%,#1e9b8a 96.45%,#20918c 99.68%)}
.b56{background:linear-gradient(to bottom,#218f8d 0.32%,#38578c 19.03%,#453581 29.35%,#471063 41.61%,#450457 48.06%,#450457 48.71%,#460b5e 49.35%,#21908c 50.00%,#ede51b 50.65%,#f8e621 51.29%,#f1e51d 55.16%,#dae319 60.32%,#bfdf25 64.84%,#67cc5d 77.74%,#36b878 86.13%,#22a884 91.94%,#1f978b 97.74%,#20918c 99.68%)}
.b57{background:linear-gradient(to bottom,#218f8d 0.32%,#38588c 19.03%,#463480 30.00%,#470f62 42.26%,#450458 48.06%,#450457 48.71%,#460b5e 49.35%,#21908c 50.00%,#ede51b 50.65%,#f8e621 51.29%,#ede51b 55.81%,#d8e219 60.32%,#b9de29 65.48%,#61ca60 78.39%,#35b878 86.13%,#22a784 91.94%,#1f978b 97.74%,#20918c 99.68%)}
.b58{background:linear-gradient(to bottom,#218f8d 0.32%,#38588c 19.03%,#453581 30.00%,#471063 42.26%,#450458 48.71%,#460b5e 49.35%,#21908c 50.00%,#ede51b 50.65%,#f8e621 51.29%,#ece51a 55.81%,#d6e21a 60.32%,#b2dd2d 66.13%,#5cc863 79.03%,#32b57a 86.77%,#22a784 91.94%,#1f978b 97.74%,#20918c 99.68%)}
.b59{background:linear-gradient(to bottom,#218f8d 0.32%,#38578c 19.68%,#463480 30.65%,#470e61 43.55%,#450558 48.71%,#460b5e 49.35%,#21908c 50.00%,#ede51b 50.65%,#f7e620 51.29%,#e7e419 56.45%,#d0e11c 60.97%,#9fda3a 68.71%,#4fc36a 80.97%,#2cb27d 88.06%,#20a386 93.23%,#20918c 99.68%)}
.b60{background:linear-gradient(to bottom,#218f8d 0.32%,#38588c 19.68%,#453581 30.65%,#471164 42.90%,#450558 48.71%,#460b5e 49.35%,#21908c 50.00%,#ece51b 50.65%,#f6e620 51.29%,#e6e419 56.45%,#cee11d 60.97%,#94d841 70.00%,#4ac26d 81.61%,#2ab07f 88.71%,#1fa187 93.87%,#20918c 99.68%)}
.b61{background:linear-gradient(to bottom,#218f8d 0.32%,#38588c 19.68%,#453681 30.65%,#471265 42.90%,#450559 48.71%,#460c5f 49.35%,#21908c 50.00%,#ebe51a 50.65%,#f5e61f 51.29%,#e4e418 56.45%,#cce11e 60.97%,#74d055 74.52%,#3fbc73 83.55%,#26ac82 90.00%,#1e9c89 95.81%,#20918c 99.68%)}
.b62{background:linear-gradient(to bottom,#218f8d 0.32%,#38578c 20.32%,#453580 31.29%,#471062 44.19%,#450659 48.71%,#470c5f 49.35%,#21908c 50.00%,#ebe51a 50.65%,#f4e61f 51.29%,#dfe318 57.10%,#c6e021 61.61%,#6ece58 75.16%,#3bbb75 84.19%,#25ac82 90.00%,#1e9c89 95.81%,#20918c 99.68%)}
.b63{background:linear-gradient(to bottom,#218f8d 0.32%,#38588c 20.32%,#463480 31.94%,#470f62 44.84%,#46075a 48.71%,#470d60 49.35%,#21908c 50.00%,#eae41a 50.65%,#f3e61e 51.29%,#dde318 57.10%,#c4e022 61.61%,#6dce59 75.16%,#3aba76 84.19%,#25ab82 90.00%,#1e9c8a 95.81%,#20918c 99.68%)}
.b64{background:linear-gradient(to bottom,#218f8d 0.32%,#38588c 20.32%,#453580 31.94%,#471063 44.84%,#46075b 48.71%,#470e60 49.35%,#21908c 50.00%,#e8e419 50.65%,#f2e61d 51.29%,#dbe319 57.10%,#bedf26 62.26%,#63cb5f 76.45%,#37b878 84.84%,#23a983 90.65%,#1f9a8a 96.45%,#20918c 99.68%)}
.b65{background:linear-gradient(to bottom,#218f8d 0.32%,#38578c 20.97%,#463480 32.58%,#470e61 46.13%,#46085c 48.71%,#470e61 49.35%,#21908c 50.00%,#e7e419 50.65%,#f1e51d 51.29%,#dce319 56.45%,#c0df25 61.61%,#66cc5d 75.81%,#36b878 84.84%,#23a983 90.65%,#1f9a8a 96.45%,#20918c 99.68%)}
.b66{background:linear-gradient(to bottom,#218f8d 0.32%,#38578c 20.97%,#453580 32.58%,#471063 45.48%,#46095c 48.71%,#470f62 49.35%,#21908c 50.00%,#e6e419 50.65%,#f0e51c 51.29%,#dae319 56.45%,#bedf26 61.61%,#64cb5e 75.81%,#35b778 84.84%,#23a983 90.65%,#1f988b 97.10%,#20918c 99.68%)}
.b67{background:linear-gradient(to bottom,#218f8d 0.32%,#38588c 20.97%,#453681 32.58%,#471264 45.48%,#460a5d 48.71%,#471063 49.35%,#21908c 50.00%,#e4e419 50.65%,#eee51b 51.29%,#d8e219 56.45%,#b8de2a 62.26%,#5fca61 76.45%,#35b779 84.84%,#23a984 90.65%,#1f988b 97.10%,#20918c 99.68%)}
.b68{background:linear-gradient(to bottom,#218f8d 0.32%,#39578c 21.61%,#453580 33.23%,#470f62 46.77%,#460b5e 48.71%,#471163 49.35%,#21908c 50.00%,#e3e418 50.65%,#ede51b 51.29%,#d6e21a 56.45%,#b5de2b 62.26%,#5ec962 76.45%,#34b779 84.84%,#22a785 91.29%,#1f968b 97.74%,#20918c 99.68%)}
.b69{background:linear-gradient(to bottom,#218f8d 0.32%,#38578c 21.61%,#453681 33.23%,#471063 46.77%,#460c5f 48.71%,#471264 49.35%,#21908c 50.00%,#e1e318 50.65%,#ebe51a 51.29%,#d8e219 55.81%,#b7de2a 61.61%,#5dc962 76.45%,#34b679 84.84%,#21a785 91.29%,#1f948c 98.39%,#20918c 99.68%)}
.b70{background:linear-gradient(to bottom,#218f8d 0.32%,#38588c 21.61%,#463580 33.87%,#471062 47.42%,#470d60 48.71%,#471365 49.35%,#21908c 50.00%,#e0e318 50.65%,#eae51a 51.29%,#d6e21a 55.81%,#b1dd2e 62.26%,#58c765 77.10%,#31b57b 85.48%,#21a685 91.29%,#20948c 98.39%,#20918c 99.68%)}
.b71{background:linear-gradient(to bottom,#218f8d 0.32%,#38588c 21.61%,#453681 33.87%,#471163 47.42%,#470e61 48.71%,#481466 49.35%,#21908c 50.00%,#dee318 50.65%,#e8e419 51.29%,#d4e21b 55.81%,#abdc31 62.90%,#57c766 77.10%,#30b47b 85.48%,#20a586 91.94%,#20918c 99.68%)}
.b72{background:linear-gradient(to bottom,#218f8d 0.32%,#38578c 22.26%,#463580 34.52%,#470f62 48.71%,#481467 49.35%,#21908c 50.00%,#dce319 50.65%,#e6e419 51.29%,#d2e21b 55.81%,#a6db35 63.55%,#52c568 77.74%,#2db27d 86.13%,#20a486 91.94%,#20918c 99.68%)}
.b73{background:linear-gradient(to bottom,#218f8d 0.32%,#38588c 22.26%,#453581 34.52%,#471062 48.71%,#481568 49.35%,#21908c 50.00%,#dae319 50.65%,#e5e419 51.29%,#d0e11c 55.81%,#98d83e 65.48%,#4ec36b 78.39%,#2db27d 86.13%,#20a387 92.58%,#20918c 99.68%)}
.b74{background:linear-gradient(to bottom,#218f8d 0.32%,#38588c 22.26%,#453681 34.52%,#471163 48.71%,#481669 49.35%,#21908c 50.00%,#d8e219 50.65%,#e3e418 51.29%,#cee11d 55.81%,#87d549 68.06%,#47c06f 79.68%,#29af80 87.42%,#1f9f88 93.87%,#20918c 99.68%)}
.b75{background:linear-gradient(to bottom,#218f8d 0.32%,#38578c 22.90%,#453581 35.16%,#471264 48.71%,#48176a 49.35%,#21908c 50.00%,#d7e21a 50.65%,#e1e318 51.29%,#c9e020 56.45%,#6ece58 71.94%,#3aba76 82.26%,#24aa83 89.35%,#1f9a8a 95.81%,#20918c 99.68%)}
.b76{background:linear-gradient(to bottom,#218f8d 0.32%,#38588c 22.90%,#463480 35.81%,#471365 48.71%,#48186b 49.35%,#21908c 50.00%,#d5e21a 50.65%,#e0e318 51.29%,#c7e021 56.45%,#6dce59 71.94%,#3aba76 82.26%,#24aa83 89.35%,#1f9a8a 95.81%,#20918c 99.68%)}
.b77{background:linear-gradient(to bottom,#218f8d 0.32%,#38588c 22.90%,#453581 35.81%,#481466 48.71%,#48196c 49.35%,#21908c 50.00%,#d3e21b 50.65%,#dee318 51.29%,#c5e022 56.45%,#6cce5a 71.94%,#39ba76 82.26%,#24aa83 89.35%,#1f9a8a 95.81%,#20918c 99.68%)}
.b78{background:linear-gradient(to bottom,#218f8d 0.32%,#38578c 23.55%,#463480 36.45%,#481567 48.71%,#481a6c 49.35%,#21908c 50.00%,#d1e11c 50.65%,#dce319 51.29%,#c3e023 56.45%,#67cc5d 72.58%,#39b977 82.26%,#23a983 89.35%,#1f998a 96.45%,#20918c 99.68%)}
.b79{background:linear-gradient(to bottom,#218f8d 0.32%,#38578c 23.55%,#453580 36.45%,#481568 48.71%,#481b6d 49.35%,#21908c 50.00%,#cfe11d 50.65%,#dae319 51.29%,#bddf26 57.10%,#62cb5f 73.23%,#36b878 82.90%,#22a884 90.00%,#1f978b 97.10%,#20918c 99.68%)}
.b80{background:linear-gradient(to bottom,#218f8d 0.32%,#38588c 23.55%,#453681 36.45%,#481669 48.71%,#481c6e 49.35%,#21908c 50.00%,#cde11d 50.65%,#d9e219 51.29%,#bbde27 57.10%,#61ca60 73.23%,#35b779 82.90%,#22a784 90.00%,#1f978b 97.10%,#20918c 99.68%)}
.b81{background:linear-gradient(to bottom,#218f8d 0.32%,#38578c 24.19%,#453580 37.10%,#48176a 48.71%,#481d6f 49.35%,#21908c 50.00%,#cbe11e 50.65%,#d7e21a 51.29%,#b6de2b 57.74%,#5dc963 73.87%,#32b67a 83.55%,#21a685 90.65%,#20948c 98.39%,#20918c 99.68%)}
.b82{background:linear-gradient(to bottom,#218f8d 0.32%,#38578c 24.19%,#463480 37.74%,#48186a 48.71%,#481e70 49.35%,#21908c 50.00%,#c9e020 50.65%,#d5e21a 51.29%,#b1dd2e 58.39%,#58c765 74.52%,#32b57a 83.55%,#21a685 90.65%,#20948c 98.39%,#20918c 99.68%)}
.b83{background:linear-gradient(to bottom,#218f8d 0.32%,#38588c 24.19%,#453580 37.74%,#48196b 48.71%,#481f71 49.35%,#21908c 50.00%,#c7e021 50.65%,#d3e21b 51.29%,#abdc32 59.03%,#57c766 74.52%,#31b57b 83.55%,#21a585 90.65%,#20928c 99.03%,#20918c 99.68%)}
.b84{background:linear-gradient(to bottom,#218f8d 0.32%,#38588c 24.19%,#453681 37.74%,#481a6c 48.71%,#482072 49.35%,#21908c 50.00%,#c5e022 50.65%,#d1e11c 51.29%,#a6db35 59.68%,#53c568 75.16%,#2fb37c 84.19%,#20a486 91.29%,#20918c 99.68%)}
.b85{background:linear-gradient(to bottom,#218f8d 0.32%,#38578c 24.84%,#453580 38.39%,#481b6d 48.71%,#482173 49.35%,#21908c 50.00%,#c2df23 50.65%,#cfe11c 51.29%,#9dd93b 60.97%,#4fc46a 75.81%,#2cb27d 84.84%,#1fa287 91.94%,#20918c 99.68%)}
.b86{background:linear-gradient(to bottom,#218f8d 0.32%,#38588c 24.84%,#453681 38.39%,#481c6e 48.71%,#482273 49.35%,#21908c 50.00%,#c0df24 50.65%,#cee11d 51.29%,#90d743 62.90%,#4bc26c 76.45%,#2cb17e 84.84%,#1fa287 91.94%,#20918c 99.68%)}
.b87{background:linear-gradient(to bottom,#218f8d 0.32%,#38588c 24.84%,#453580 39.03%,#481d6f 48.71%,#482374 49.35%,#21908c 50.00%,#bedf25 50.65%,#cce11e 51.29%,#70cf57 68.71%,#3dbc74 79.68%,#25ac82 87.42%,#1e9c89 94.52%,#20918c 99.68%)}
.b88{background:linear-gradient(to bottom,#218f8d 0.32%,#38578c 25.48%,#453581 39.03%,#481e6f 48.71%,#482475 49.35%,#21908c 50.00%,#bcdf27 50.65%,#cae11f 51.29%,#6fce58 68.71%,#3dbb74 79.68%,#25ab82 87.42%,#1e9c89 94.52%,#20918c 99.68%)}
.b89{background:linear-gradient(to bottom,#218f8d 0.32%,#38588c 25.48%,#463580 39.68%,#481f70 48.71%,#482576 49.35%,#21908c 50.00%,#bade28 50.65%,#c8e020 51.29%,#6dce59 68.71%,#3cbb75 79.68%,#25ab82 87.42%,#1e9c89 94.52%,#20918c 99.68%)}
.b90{background:linear-gradient(to bottom,#218f8d 0.32%,#38588c 25.48%,#453581 39.68%,#481f71 48.71%,#482676 49.35%,#21908c 50.00%,#b8de29 50.65%,#c6e021 51.29%,#6cce59 68.71%,#3bbb75 79.68%,#25ab82 87.42%,#1e9c89 94.52%,#20918c 99.68%)}
.b91{background:linear-gradient(to bottom,#218f8d 0.32%,#38578c 26.13%,#463480 40.32%,#482072 48.71%,#482777 49.35%,#21908c 50.00%,#b6de2a 50.65%,#c5e022 51.29%,#6bcd5a 68.71%,#3bba75 79.68%,#25ab82 87.42%,#1f9a8a 95.16%,#20918c 99.68%)}
.b92{background:linear-gradient(to bottom,#218f8d 0.32%,#38578c 26.13%,#453581 40.32%,#482172 48.71%,#482878 49.35%,#21908c 50.00%,#b4dd2c 50.65%,#c3e023 51.29%,#6acd5b 68.71%,#3aba76 79.68%,#24ab82 87.42%,#1f9a8a 95.16%,#20918c 99.68%)}
.b93{background:linear-gradient(to bottom,#218f8d 0.32%,#38588c 26.13%,#453681 40.32%,#482273 48.71%,#482979 49.35%,#21908c 50.00%,#b2dd2d 50.65%,#c1df24 51.29%,#69cd5b 68.71%,#3aba76 79.68%,#24aa83 87.42%,#1f9a8a 95.16%,#20918c 99.68%)}
.b94{background:linear-gradient(to bottom,#218f8d 0.32%,#38578c 26.77%,#453580 40.97%,#482374 48.71%,#472a79 49.35%,#21908c 50.00%,#b0dd2e 50.65%,#bfdf25 51.29%,#64cb5e 69.35%,#37b878 80.32%,#23a983 88.06%,#1f998a 95.81%,#20918c 99.68%)}
.b95{background:linear-gradient(to bottom,#218f8d 0.32%,#38578c 26.77%,#463480 41.61%,#482474 48.71%,#472b7a 49.35%,#21908c 50.00%,#aedc30 50.65%,#bedf26 51.29%,#63cb5f 69.35%,#36b878 80.32%,#23a984 88.06%,#1f998a 95.81%,#20918c 99.68%)}
.b96{background:linear-gradient(to bottom,#218f8d 0.32%,#38588c 26.77%,#453580 41.61%,#482575 48.71%,#472c7b 49.35%,#21908c 50.00%,#acdc31 50.65%,#bcdf27 51.29%,#62cb5f 69.35%,#36b878 80.32%,#23a984 88.06%,#1f978b 96.45%,#20918c 99.68%)}
.b97{background:linear-gradient(to bottom,#218f8d 0.32%,#38588c 26.77%,#453681 41.61%,#482576 48.71%,#472d7b 49.35%,#21908c 50.00%,#aadc32 50.65%,#bade28 51.29%,#61ca60 69.35%,#35b778 80.32%,#23a884 88.06%,#1f978b 96.45%,#20918c 99.68%)}
.b98{background:linear-gradient(to bottom,#218f8d 0.32%,#38578c 27.42%,#453580 42.26%,#482676 48.71%,#472e7c 49.35%,#21908c 50.00%,#a8db33 50.65%,#b8de29 51.29%,#60ca60 69.35%,#35b779 80.32%,#23a884 88.06%,#1f978b 96.45%,#20918c 99.68%)}
.b99{background:linear-gradient(to bottom,#218f8d 0.32%,#38588c 27.42%,#453681 42.26%,#482777 48.71%,#472f7d 49.35%,#21908c 50.00%,#a6db35 50.65%,#b7de2a 51.29%,#5fca61 69.35%,#34b779 80.32%,#22a884 88.06%,#1f978b 96.45%,#20918c 99.68%)}
.b100{background:linear-gradient(to bottom,#218f8d 0.32%,#38588c 27.42%,#453580 42.90%,#482878 48.71%,#472f7d 49.35%,#21908c 50.00%,#a4db36 50.65%,#b5de2b 51.29%,#5bc863 70.00%,#32b57a 80.97%,#21a785 88.71%,#1f958c 97.74%,#20918c 99.68%)}
.b101{background:linear-gradient(to bottom,#218f8d 0.32%,#38578c 28.06%,#463480 43.55%,#482978 48.71%,#46307e 49.35%,#21908c 50.00%,#a3da37 50.65%,#b3dd2c 51.29%,#5ac864 70.00%,#32b57a 80.97%,#21a685 88.71%,#1f958c 97.74%,#20918c 99.68%)}
.b102{background:linear-gradient(to bottom,#218f8d 0.32%,#38588c 28.06%,#453580 43.55%,#482979 48.71%,#46317e 49.35%,#21908c 50.00%,#a1da38 50.65%,#b2dd2d 51.29%,#5ac864 70.00%,#31b57b 80.97%,#21a685 88.71%,#1f958c 97.74%,#20918c 99.68%)}
.b103{background:linear-gradient(to bottom,#218f8d 0.32%,#38588c 28.06%,#453581 43.55%,#472a79 48.71%,#46327f 49.35%,#21908c 50.00%,#9fda3a 50.65%,#b0dd2e 51.29%,#59c765 70.00%,#31b57b 80.97%,#21a586 89.35%,#20928c 99.03%,#20918c 99.68%)}
.b104{background:linear-gradient(to bottom,#218f8d 0.32%,#38578c 28.71%,#453580 44.19%,#472b7a 48.71%,#46337f 49.35%,#21908c 50.00%,#9dd93b 50.65%,#aedc2f 51.29%,#55c667 70.65%,#2fb37c 81.61%,#20a586 89.35%,#20928c 99.03%,#20918c 99.68%)}
.b105{background:linear-gradient(to bottom,#218f8d 0.32%,#38588c 28.71%,#453581 44.19%,#472c7b 48.71%,#463480 49.35%,#21908c 50.00%,#9bd93c 50.65%,#addc31 51.29%,#54c667 70.65%,#2eb37c 81.61%,#20a386 90.00%,#20918c 99.68%)}
.b106{background:linear-gradient(to bottom,#218f8d 0.32%,#38588c 28.71%,#463580 44.84%,#472c7b 48.71%,#453580 49.35%,#21908c 50.00%,#99d93d 50.65%,#abdc32 51.29%,#53c568 70.65%,#2eb37d 81.61%,#20a386 90.00%,#20918c 99.68%)}
.b107{background:linear-gradient(to bottom,#218f8d 0.32%,#38578c 29.35%,#453581 44.84%,#472d7c 48.71%,#453681 49.35%,#21908c 50.00%,#98d83e 50.65%,#aadc33 51.29%,#53c568 70.65%,#2eb37d 81.61%,#20a386 90.00%,#20918c 99.68%)}
.b108{background:linear-gradient(to bottom,#218f8d 0.32%,#38578c 29.35%,#463580 45.48%,#472e7c 48.71%,#453681 49.35%,#21908c 50.00%,#96d83f 50.65%,#a8db34 51.29%,#52c569 70.65%,#2db27d 81.61%,#20a387 90.00%,#20918c 99.68%)}
.b109{background:linear-gradient(to bottom,#218f8d 0.32%,#38588c 29.35%,#453581 45.48%,#472f7d 48.71%,#453782 49.35%,#21908c 50.00%,#94d841 50.65%,#a6db35 51.29%,#51c469 70.65%,#2db27d 81.61%,#20a387 90.00%,#20918c 99.68%)}
.b110{background:linear-gradient(to bottom,#218f8d 0.32%,#38588c 29.35%,#453681 45.48%,#472f7d 48.71%,#453882 49.35%,#21908c 50.00%,#92d742 50.65%,#a5db36 51.29%,#50c46a 70.65%,#2db27d 81.61%,#20a387 90.00%,#20918c 99.68%)}
.b111{background:linear-gradient(to bottom,#21908d 0.32%,#38578c 30.00%,#453580 46.13%,#47307d 48.71%,#443982 49.35%,#21908c 50.00%,#91d743 50.65%,#a3db37 51.29%,#4fc46a 70.65%,#2cb27d 81.61%,#20a387 90.00%,#20918c 99.68%)}
.b112{background:linear-gradient(to bottom,#21908d 0.32%,#38588c 30.00%,#453681 46.13%,#46317e 48.71%,#443a83 49.35%,#21908c 50.00%,#8fd744 50.65%,#a2da38 51.29%,#4fc36a 70.65%,#2cb17e 81.61%,#20a287 90.00%,#20918c 99.68%)}
.b113{background:linear-gradient(to bottom,#21908d 0.32%,#38588c 30.00%,#453580 46.77%,#46317e 48.71%,#443a83 49.35%,#21908c 50.00%,#8dd645 50.65%,#a0da39 51.29%,#4ec36b 70.65%,#2cb17e 81.61%,#1fa287 90.00%,#20918c 99.68%)}
.b114{background:linear-gradient(to bottom,#21908d 0.32%,#38578c 30.65%,#463480 47.42%,#46327f 48.71%,#443b84 49.35%,#21908c 50.00%,#8cd646 50.65%,#9fda3a 51.29%,#4dc36b 70.65%,#2cb17e 81.61%,#1fa287 90.00%,#20918c 99.68%)}
.s0{background:linear-gradient(to right,#fde725 0.42%,#e9e419 3.75%,#d4e21b 7.08%,#85d44a 20.42%,#53c568 31.25%,#33b679 41.25%,#22a884 51.25%,#1f978b 63.75%,#2d708e 99.58%)}
.s1{background:linear-gradient(to right,#ede51b 0.42%,#d8e219 3.75%,#afdd2f 10.42%,#70cf57 22.08%,#44bf70 32.92%,#2ab07f 42.92%,#1fa287 52.92%,#23898e 72.92%,#2e6e8e 99.58%)}
.s2{background:linear-gradient(to right,#dde318 0.42%,#bedf26 5.42%,#7bd250 17.08%,#4cc36c 27.92%,#2fb47c 37.92%,#21a586 47.92%,#20928c 62.08%,#2f6b8e 99.58%)}
.s3{background:linear-gradient(to right,#cde11d 0.42%,#83d44b 12.92%,#52c568 23.75%,#33b67a 33.75%,#22a784 43.75%,#1f968b 56.25%,#2f6c8e 96.25%,#30698e 99.58%)}
.s4{background:linear-gradient(to right,#bddf26 0.42%,#7bd251 12.08%,#4cc26c 22.92%,#2fb37c 32.92%,#20a586 42.92%,#20918c 57.92%,#31678e 99.58%)}
.s5{background:linear-gradient(to right,#addc30 0.42%,#6ece58 12.08%,#43be71 22.92%,#2ab07f 32.92%,#1fa187 42.92%,#24878e 63.75%,#32658e 99.58%)}
.s6{background:linear-gradient(to right,#9eda3a 0.42%,#66cc5d 11.25%,#3ebc74 22.08%,#27ad81 32.08%,#1f9e89 42.92%,#2a788e 75.42%,#33638d 99.58%)}
.s7{background:linear-gradient(to right,#8fd744 0.42%,#5bc863 11.25%,#36b878 22.08%,#23a983 32.08%,#1f998a 43.75%,#2e6f8e 82.92%,#34618d 99.58%)}
.s8{background:linear-gradient(to right,#81d34c 0.42%,#51c469 11.25%,#32b57a 21.25%,#22a785 31.25%,#1f958b 44.58%,#2f6b8e 84.58%,#355e8d 99.58%)}
.s9{background:linear-gradient(to right,#74d054 0.42%,#48c06e 11.25%,#2cb27e 21.25%,#20a387 31.25%,#228e8d 47.92%,#33638d 91.25%,#365c8d 99.58%)}
.s10{background:linear-gradient(to right,#68cc5c 0.42%,#3fbd73 11.25%,#28ae80 21.25%,#1f9e89 32.08%,#297a8e 63.75%,#375a8d 99.58%)}
.s11{background:linear-gradient(to right,#5dc962 0.42%,#38b977 11.25%,#24aa83 21.25%,#1f9a8a 32.92%,#2d708e 71.25%,#38598c 99.58%)}
.s12{background:linear-gradient(to right,#53c568 0.42%,#33b67a 10.42%,#22a784 20.42%,#1f978b 32.92%,#2f6c8e 72.92%,#39578c 99.58%)}
.s13{background:linear-gradient(to right,#49c16d 0.42%,#2db27d 10.42%,#20a486 20.42%,#218f8d 36.25%,#32658e 78.75%,#39558c 99.58%)}
.s14{background:linear-gradient(to right,#41bd72 0.42%,#28ae80 10.42%,#1fa088 20.42%,#26818e 46.25%,#39568c 95.42%,#3a538b 99.58%)}
.s15{background:linear-gradient(to right,#39ba76 0.42%,#25ab82 10.42%,#1e9c8a 21.25%,#2c748e 57.08%,#3b518b 99.58%)}
.s16{background:linear-gradient(to right,#32b67a 0.42%,#22a785 10.42%,#1f968b 22.92%,#2f6c8e 62.92%,#3c4f8b 99.58%)}
.s17{background:linear-gradient(to right,#2db27d 0.42%,#20a386 10.42%,#218e8d 27.08%,#33638d 70.42%,#3d4d8a 99.58%)}
.s18{background:linear-gradient(to right,#28ae80 0.42%,#1fa088 10.42%,#287d8e 39.58%,#3b518b 91.25%,#3d4c8a 99.58%)}
.s19{background:linear-gradient(to right,#24aa83 0.42%,#1f9a8a 12.08%,#2d708e 50.42%,#3e4a89 99.58%)}
.s20{background:linear-gradient(to right,#21a785 0.42%,#1f958c 13.75%,#2f6b8e 53.75%,#3f4889 99.58%)}
.s21{background:linear-gradient(to right,#20a387 0.42%,#228c8d 17.92%,#33628d 62.08%,#404788 99.58%)}
.s22{background:linear-gradient(to right,#1f9f88 0.42%,#297b8e 31.25%,#3c4f8b 83.75%,#404588 99.58%)}
.s23{background:linear-gradient(to right,#1e9c89 0.42%,#2b758e 35.42%,#3f4989 90.42%,#414387 99.58%)}
.s24{background:linear-gradient(to right,#1f988b 0.42%,#2e6e8e 39.58%,#414487 96.25%,#414286 99.58%)}
.s25{background:linear-gradient(to right,#1f958b 0.42%,#2f6b8e 40.42%,#424186 97.92%,#424086 99.58%)}
.s26{background:linear-gradient(to right,#20928c 0.42%,#31688e 42.08%,#423f85 99.58%)}
.s27{background:linear-gradient(to right,#218f8d 0.42%,#32658e 42.92%,#433d85 99.58%)}
.s28{background:linear-gradient(to right,#228c8d 0.42%,#34618d 44.58%,#433c84 99.58%)}
.s29{background:linear-gradient(to right,#23898e 0.42%,#355e8d 46.25%,#443b83 99.58%)}
.s30{background:linear-gradient(to right,#24868e 0.42%,#365b8d 47.08%,#443983 99.58%)}
.s31{background:linear-gradient(to right,#25838e 0.42%,#38588c 48.75%,#453882 99.58%)}
.s32{background:linear-gradient(to right,#26808e 0.42%,#39558c 50.42%,#453681 99.58%)}
.s33{background:linear-gradient(to right,#287e8e 0.42%,#3b528b 51.25%,#453581 99.58%)}
.s34{background:linear-gradient(to right,#297b8e 0.42%,#3c4f8b 52.92%,#463480 99.58%)}
.s35{background:linear-gradient(to right,#2a788e 0.42%,#3d4d8a 53.75%,#46337f 99.58%)}
.s36{background:linear-gradient(to right,#2b768e 0.42%,#3e4b89 54.58%,#46317e 99.58%)}
.s37{background:linear-gradient(to right,#2c738e 0.42%,#3f4889 55.42%,#46307e 99.58%)}
.s38{background:linear-gradient(to right,#2d718e 0.42%,#404688 56.25%,#472f7d 99.58%)}
.s39{background:linear-gradient(to right,#2e6f8e 0.42%,#414487 57.08%,#472e7c 99.58%)}
.s40{background:linear-gradient(to right,#2f6c8e 0.42%,#414387 57.08%,#472d7b 99.58%)}
.s41{background:linear-gradient(to right,#306a8e 0.42%,#424186 57.92%,#472c7b 99.58%)}
.s42{background:linear-gradient(to right,#31688e 0.42%,#423f85 57.92%,#472b7a 99.58%)}
.s43{background:linear-gradient(to right,#32668e 0.42%,#433d85 58.75%,#482a79 99.58%)}
.s44{background:linear-gradient(to right,#33648d 0.42%,#443c84 58.75%,#482978 99.58%)}
.s45{background:linear-gradient(to right,#33618d 0.42%,#443a83 58.75%,#482878 99.58%)}
.s46{background:linear-gradient(to right,#345f8d 0.42%,#443983 58.75%,#482777 99.58%)}
.s47{background:linear-gradient(to right,#355d8d 0.42%,#453882 58.75%,#482676 99.58%)}
.s48{background:linear-gradient(to right,#365b8d 0.42%,#453681 59.58%,#482575 99.58%)}
.s49{background:linear-gradient(to right,#37598c 0.42%,#463580 59.58%,#482475 99.58%)}
.s50{background:linear-gradient(to right,#38578c 0.42%,#46337f 59.58%,#482374 99.58%)}
.s51{background:linear-gradient(to right,#39568c 0.42%,#46327f 59.58%,#482273 99.58%)}
.s52{background:linear-gradient(to right,#3a548b 0.42%,#46317e 59.58%,#482273 99.58%)}
.s53{background:linear-gradient(to right,#3b528b 0.42%,#47307d 59.58%,#482172 99.58%)}
.s54{background:linear-gradient(to right,#3c508b 0.42%,#472e7c 60.42%,#482071 99.58%)}
.s55{background:linear-gradient(to right,#3c4e8a 0.42%,#472d7c 60.42%,#481f71 99.58%)}
.s56{background:linear-gradient(to right,#3d4c8a 0.42%,#472c7b 60.42%,#481e70 99.58%)}
.s57{background:linear-gradient(to right,#3e4b89 0.42%,#472b7a 61.25%,#481e6f 99.58%)}
.s58{background:linear-gradient(to right,#3f4989 0.42%,#482a79 61.25%,#481d6f 99.58%)}
.s59{background:linear-gradient(to right,#3f4788 0.42%,#482978 61.25%,#481c6e 99.58%)}
.s60{background:linear-gradient(to right,#404688 0.42%,#482777 62.08%,#481b6d 99.58%)}
.s61{background:linear-gradient(to right,#414487 0.42%,#482677 62.08%,#481b6d 99.58%)}
.s62{background:linear-gradient(to right,#414387 0.42%,#482576 62.92%,#481a6c 99.58%)}
.s63{background:linear-gradient(to right,#424186 0.42%,#482475 63.75%,#48196c 99.58%)}
.s64{background:linear-gradient(to right,#423f86 0.42%,#482374 63.75%,#48196b 99.58%)}
.s65{background:linear-gradient(to right,#433e85 0.42%,#482273 64.58%,#48186a 99.58%)}
.s66{background:linear-gradient(to right,#433d84 0.42%,#482172 65.42%,#48186a 99.58%)}
.s67{background:linear-gradient(to right,#443b84 0.42%,#482071 66.25%,#481769 99.58%)}
.s68{background:linear-gradient(to right,#443a83 0.42%,#481f70 67.08%,#481669 99.58%)}
.s69{background:linear-gradient(to right,#453882 0.42%,#481e6f 67.92%,#481668 99.58%)}
.s70{background:linear-gradient(to right,#453782 0.42%,#481d6f 68.75%,#481568 99.58%)}
.s71{background:linear-gradient(to right,#453681 0.42%,#481c6e 69.58%,#481567 99.58%)}
.s72{background:linear-gradient(to right,#463480 0.42%,#481b6d 70.42%,#481467 99.58%)}
.s73{background:linear-gradient(to right,#46337f 0.42%,#481a6c 71.25%,#481466 99.58%)}
.s74{background:linear-gradient(to right,#46327f 0.42%,#48196b 72.08%,#481366 99.58%)}
.s75{background:linear-gradient(to right,#46317e 0.42%,#48186a 73.75%,#471365 99.58%)}
.s76{background:linear-gradient(to right,#47307d 0.42%,#48176a 74.58%,#471265 99.58%)}
.s77{background:linear-gradient(to right,#472f7c 0.42%,#481769 75.42%,#471264 99.58%)}
.s78{background:linear-gradient(to right,#472d7c 0.42%,#481668 77.08%,#471164 99.58%)}
.s79{background:linear-gradient(to right,#472c7b 0.42%,#481567 77.92%,#471163 99.58%)}
.s80{background:linear-gradient(to right,#472b7a 0.42%,#481467 79.58%,#471063 99.58%)}
.s81{background:linear-gradient(to right,#472a79 0.42%,#481366 80.42%,#471063 99.58%)}
.s82{background:linear-gradient(to right,#482979 0.42%,#471365 82.08%,#470f62 99.58%)}
.s83{background:linear-gradient(to right,#482878 0.42%,#471264 83.75%,#470f62 99.58%)}
.s84{background:linear-gradient(to right,#482777 0.42%,#471164 85.42%,#470f61 99.58%)}
.s85{background:linear-gradient(to right,#482677 0.42%,#471063 86.25%,#470e61 99.58%)}
.s86{background:linear-gradient(to right,#482576 0.42%,#471062 87.92%,#470e61 99.58%)}
.s87{background:linear-gradient(to right,#482475 0.42%,#470f62 89.58%,#470d60 99.58%)}
.s88{background:linear-gradient(to right,#482474 0.42%,#470e61 91.25%,#470d60 99.58%)}
.s89{background:linear-gradient(to right,#482374 0.42%,#470e60 92.92%,#470d60 99.58%)}
.s90{background:linear-gradient(to right,#482273 0.42%,#470d60 94.58%,#470c5f 99.58%)}
.s91{background:linear-gradient(to right,#482172 0.42%,#470c5f 96.25%,#460c5f 99.58%)}
.s92{background:linear-gradient(to right,#482072 0.42%,#460c5f 97.92%,#460b5f 99.58%)}
.s93{background:linear-gradient(to right,#481f71 0.42%,#460b5e 99.58%)}
.s94{background:linear-gradient(to right,#481f70 0.42%,#460b5e 99.58%)}
.s95{background:linear-gradient(to right,#481e70 0.42%,#460a5e 99.58%)}
.s96{background:linear-gradient(to right,#481d6f 0.42%,#460a5d 99.58%)}
.s97{background:linear-gradient(to right,#481c6e 0.42%,#460a5d 99.58%)}
.s98{background:linear-gradient(to right,#481c6e 0.42%,#46095d 99.58%)}
.s99{background:linear-gradient(to right,#481b6d 0.42%,#46095c 99.58%)}
.s100{background:linear-gradient(to right,#481a6c 0.42%,#46095c 99.58%)}
.s101{background:linear-gradient(to right,#481a6c 0.42%,#46085c 99.58%)}
.s102{background:linear-gradient(to right,#48196b 0.42%,#46085c 99.58%)}
.s103{background:linear-gradient(to right,#48186b 0.42%,#46085b 99.58%)}
.s104{background:linear-gradient(to right,#48186a 0.42%,#46085b 99.58%)}
.s105{background:linear-gradient(to right,#48176a 0.42%,#46075b 99.58%)}
.s106{background:linear-gradient(to right,#481769 0.42%,#46075b 99.58%)}
.s107{background:linear-gradient(to right,#481668 0.42%,#46075a 99.58%)}
.s108{background:linear-gradient(to right,#481668 0.42%,#46075a 99.58%)}
.s109{background:linear-gradient(to right,#481567 0.42%,#45065a 99.58%)}
.s110{background:linear-gradient(to right,#481467 0.42%,#45065a 99.58%)}
.s111{background:linear-gradient(to right,#481466 0.42%,#45065a 99.58%)}
.s112{background:linear-gradient(to right,#481366 0.42%,#450659 99.58%)}
.s113{background:linear-gradient(to right,#471365 0.42%,#450659 99.58%)}
.s114{background:linear-gradient(to right,#471265 0.42%,#450559 99.58%)}
.s115{background:linear-gradient(to right,#471264 0.42%,#450559 99.58%)}
.s116{background:linear-gradient(to right,#471164 0.42%,#450559 99.58%)}
.s117{background:linear-gradient(to right,#471164 0.42%,#450558 99.58%)}
.s118{background:linear-gradient(to right,#471063 0.42%,#450558 99.58%)}
.s119{background:linear-gradient(to right,#471063 0.42%,#450558 99.58%)}
.s120{background:linear-gradient(to right,#471062 0.42%,#450458 99.58%)}
.s121{background:linear-gradient(to right,#470f62 0.42%,#450458 99.58%)}
.s122{background:linear-gradient(to right,#470f62 0.42%,#450457 99.58%)}
.s123{background:linear-gradient(to right,#470e61 0.42%,#450457 99.58%)}
.s124{background:linear-gradient(to right,#470e61 0.42%,#450457 99.58%)}
.s125{background:linear-gradient(to right,#470d60 0.42%,#450457 99.58%)}
.s126{background:linear-gradient(to right,#470d60 0.42%,#450457 99.58%)}
.s127{background:linear-gradient(to right,#470d60 0.42%,#450357 99.58%)}
.s128{background:linear-gradient(to right,#470c5f 0.42%,#450357 99.58%)}
.s129{background:linear-gradient(to right,#460c5f 0.42%,#450356 99.58%)}
.s130{background:linear-gradient(to right,#460c5f 0.42%,#450356 99.58%)}
.s131{background:linear-gradient(to right,#460b5e 0.42%,#450356 99.58%)}
.s132{background:linear-gradient(to right,#460b5e 0.42%,#450356 99.58%)}
.s133{background:linear-gradient(to right,#460a5e 0.42%,#450356 99.58%)}
.s134{background:linear-gradient(to right,#460a5d 0.42%,#450356 99.58%)}
.s135{background:linear-gradient(to right,#460a5d 0.42%,#450356 99.58%)}
.s136{background:linear-gradient(to right,#46095d 0.42%,#440356 99.58%)}
.s137{background:linear-gradient(to right,#46095d 0.42%,#440256 99.58%)}
.s138{background:linear-gradient(to right,#46095c 0.42%,#440255 99.58%)}
.s139{background:linear-gradient(to right,#46095c 0.42%,#440255 99.58%)}
.s140{background:linear-gradient(to right,#46085c 0.42%,#440255 99.58%)}
.s141{background:linear-gradient(to right,#46085b 0.42%,#440255 99.58%)}
.s142{background:linear-gradient(to right,#46085b 0.42%,#440255 99.58%)}
.s143{background:linear-gradient(to right,#46075b 0.42%,#440255 99.58%)}
.s144{background:linear-gradient(to right,#46075b 0.42%,#440255 99.58%)}
.s145{background:linear-gradient(to right,#46075a 0.42%,#440255 99.58%)}
.s146{background:linear-gradient(to right,#46075a 0.42%,#440255 99.58%)}
.s147{background:linear-gradient(to right,#46075a 0.42%,#440255 99.58%)}
.s148{background:linear-gradient(to right,#45065a 0.42%,#440254 99.58%)}
.s149{background:linear-gradient(to right,#45065a 0.42%,#440254 99.58%)}
.s150{background:linear-gradient(to right,#450659 0.42%,#440154 99.58%)}
.s151{background:linear-gradient(to right,#450659 0.42%,#440154 99.58%)}
.s152{background:linear-gradient(to right,#450659 0.42%,#440154 99.58%)}
.s153{background:linear-gradient(to right,#450559 0.42%,#440154 99.58%)}
.s154{background:linear-gradient(to right,#450559 0.42%,#440154 99.58%)}
.k0{background:linear-gradient(to right,#76d054 0.43%,#71cf56 1.28%,#5dc962 2.99%,#30b47c 5.56%,#24aa83 6.41%,#1f9f88 7.26%,#24868e 8.97%,#3b528b 12.39%,#453781 14.10%,#481467 16.67%,#450559 18.38%,#440154 20.09%,#46075a 21.79%,#482273 24.36%,#3f4989 26.92%,#2c728e 29.49%,#1f988b 32.05%,#20a486 32.91%,#2ab07f 33.76%,#5cc863 36.32%,#78d152 38.03%,#81d34d 38.89%,#86d44a 39.74%,#86d44a 40.60%,#81d34c 41.45%,#6cce59 43.16%,#3bbb75 45.73%,#2cb17e 46.58%,#21a785 47.44%,#1e9b8a 48.29%,#2a778e 50.85%,#404788 54.27%,#472a7a 56.84%,#482072 58.55%,#481f71 60.26%,#482878 61.97%,#414487 64.53%,#30698e 67.09%,#20928c 69.66%,#1fa088 70.51%,#27ae80 71.37%,#3bba75 72.22%,#72cf56 73.93%,#abdc32 75.64%,#c4e022 76.50%,#d9e219 77.35%,#e9e41a 78.21%,#f4e61f 79.06%,#fbe723 79.91%,#fde725 80.77%,#fbe723 81.62%,#f5e61f 82.48%,#ebe51a 83.33%,#dce319 84.19%,#c9e01f 85.04%,#99d93d 86.75%,#4dc36b 89.32%,#38b977 90.17%,#29af7f 91.03%,#20a586 91.88%,#20928c 93.59%,#287d8e 96.15%,#2b758e 98.72%,#2b758e 99.57%)}
.k1{background:linear-gradient(to right,#74d055 0.43%,#70cf57 1.28%,#5cc863 2.99%,#2fb47c 5.56%,#24aa83 6.41%,#1f9f88 7.26%,#24868e 8.97%,#3b528b 12.39%,#453782 14.10%,#481568 16.67%,#45065a 18.38%,#440255 20.09%,#46085b 21.79%,#482374 24.36%,#3f4989 26.92%,#277f8e 30.34%,#1f988b 32.05%,#20a486 32.91%,#29af7f 33.76%,#5ac864 36.32%,#76d153 38.03%,#7fd34e 38.89%,#84d44b 39.74%,#84d44b 40.60%,#7fd34e 41.45%,#6bcd5a 43.16%,#3aba76 45.73%,#2bb17e 46.58%,#21a685 47.44%,#1e9b8a 48.29%,#2a778e 50.85%,#3f4788 54.27%,#472b7a 56.84%,#482172 58.55%,#482071 60.26%,#482878 61.97%,#414487 64.53%,#30698e 67.09%,#20918c 69.66%,#1f9f88 70.51%,#27ad81 71.37%,#39ba76 72.22%,#6fce58 73.93%,#a8db34 75.64%,#c0df24 76.50%,#d5e21a 77.35%,#e5e419 78.21%,#f0e51c 79.06%,#f7e620 79.91%,#f9e722 80.77%,#f7e620 81.62%,#f1e51d 82.48%,#e6e419 83.33%,#d7e21a 84.19%,#c4e022 85.04%,#7bd250 87.61%,#4ac26d 89.32%,#36b878 90.17%,#28ae80 91.03%,#20a486 91.88%,#21918c 93.59%,#287c8e 96.15%,#2c748e 98.72%,#2b748e 99.57%)}
.k2{background:linear-gradient(to right,#72cf56 0.43%,#66cc5d 2.14%,#4cc36c 3.85%,#2fb37c 5.56%,#23a983 6.41%,#1f9e89 7.26%,#24868e 8.97%,#3a528b 12.39%,#453882 14.10%,#481668 16.67%,#46075b 18.38%,#450356 20.09%,#46095c 21.79%,#482374 24.36%,#3e4989 26.92%,#277f8e 30.34%,#1f988b 32.05%,#20a486 32.91%,#29af80 33.76%,#59c765 36.32%,#74d054 38.03%,#7dd24f 38.89%,#82d34c 39.74%,#82d34c 40.60%,#7dd24f 41.45%,#69cd5b 43.16%,#39b976 45.73%,#2ab07f 46.58%,#21a685 47.44%,#1f9a8a 48.29%,#2a768e 50.85%,#3f4788 54.27%,#472b7a 56.84%,#482172 58.55%,#482071 60.26%,#482878 61.97%,#414487 64.53%,#2b768e 67.95%,#20918c 69.66%,#1f9f88 70.51%,#26ac81 71.37%,#38b977 72.22%,#6cce5a 73.93%,#a4db36 75.64%,#bddf26 76.50%,#d1e11c 77.35%,#e1e318 78.21%,#ece51b 79.06%,#f3e61e 79.91%,#f5e61f 80.77%,#f3e61e 81.62%,#ece51b 82.48%,#e2e418 83.33%,#d3e21b 84.19%,#c0df25 85.04%,#77d153 87.61%,#47c06f 89.32%,#34b779 90.17%,#26ac81 91.03%,#1fa287 91.88%,#218f8d 93.59%,#297b8e 96.15%,#2c728e 98.72%,#2c738e 99.57%)}
.k3{background:linear-gradient(to right,#71cf57 0.43%,#65cb5e 2.14%,#4bc26c 3.85%,#2eb37d 5.56%,#23a983 6.41%,#1f9e89 7.26%,#24868e 8.97%,#3a538b 12.39%,#453882 14.10%,#481769 16.67%,#46085c 18.38%,#450457 20.09%,#460a5d 21.79%,#482475 24.36%,#3e4a89 26.92%,#277f8e 30.34%,#1f988b 32.05%,#20a386 32.91%,#28ae80 33.76%,#58c765 36.32%,#73d055 38.03%,#7bd250 38.89%,#80d34e 39.74%,#80d34d 40.60%,#7bd250 41.45%,#67cc5c 43.16%,#38b977 45.73%,#2ab07f 46.58%,#21a585 47.44%,#1f9a8a 48.29%,#2a768e 50.85%,#3f4788 54.27%,#472b7a 56.84%,#482172 58.55%,#482072 60.26%,#482878 61.97%,#414487 64.53%,#2b758e 67.95%,#21908c 69.66%,#1f9e89 70.51%,#25ab82 71.37%,#36b878 72.22%,#69cd5b 73.93%,#a0da39 75.64%,#b9de29 76.50%,#cde11d 77.35%,#dde318 78.21%,#e8e419 79.06%,#efe51c 79.91%,#f1e51d 80.77%,#efe51c 81.62%,#e8e419 82.48%,#dde318 83.33%,#cee11d 84.19%,#a5db36 85.90%,#5bc863 88.46%,#32b57a 90.17%,#25ab82 91.03%,#1fa187 91.88%,#24868e 94.44%,#2b758e 97.01%,#2c728e 99.57%)}
.k4{background:linear-gradient(to right,#6fcf57 0.43%,#63cb5f 2.14%,#3bbb75 4.70%,#23a984 6.41%,#1f9e89 7.26%,#24868e 8.97%,#3a538b 12.39%,#472c7b 14.96%,#471062 17.52%,#450559 19.23%,#45065a 20.94%,#471264 22.65%,#46307e 25.21%,#3e4a89 26.92%,#277f8e 30.34%,#1f978b 32.05%,#20a386 32.91%,#28ae80 33.76%,#56c666 36.32%,#71cf57 38.03%,#79d151 38.89%,#7ed24f 39.74%,#7ed24f 40.60%,#7ad151 41.45%,#66cc5d 43.16%,#37b877 45.73%,#29af7f 46.58%,#20a586 47.44%,#1f9a8a 48.29%,#2b768e 50.85%,#3f4788 54.27%,#472b7a 56.84%,#482273 58.55%,#482172 60.26%,#482978 61.97%,#414487 64.53%,#2b758e 67.95%,#1e9d89 70.51%,#24ab82 71.37%,#35b779 72.22%,#67cc5d 73.93%,#9dd93b 75.64%,#c9e01f 77.35%,#d9e219 78.21%,#e4e419 79.06%,#ebe51a 79.91%,#ede51b 80.77%,#eae51a 81.62%,#e4e418 82.48%,#d9e219 83.33%,#cae11f 84.19%,#a1da38 85.90%,#58c765 88.46%,#30b47b 90.17%,#24aa83 91.03%,#1fa088 91.88%,#277e8e 95.30%,#2d718e 97.86%,#2d718e 99.57%)}
.k5{background:linear-gradient(to right,#6ece58 0.43%,#62ca5f 2.14%,#3bba76 4.70%,#23a884 6.41%,#1f9e89 7.26%,#297a8e 9.83%,#3a538b 12.39%,#472d7b 14.96%,#471063 17.52%,#45065a 19.23%,#46075b 20.94%,#471365 22.65%,#46317e 25.21%,#38588c 27.78%,#228b8d 31.20%,#1f978b 32.05%,#20a387 32.91%,#27ae80 33.76%,#55c667 36.32%,#6fcf58 38.03%,#77d153 38.89%,#7cd250 39.74%,#7cd250 40.60%,#70cf57 42.31%,#56c666 44.02%,#29af80 46.58%,#20a486 47.44%,#1f998a 48.29%,#306a8e 51.71%,#3f4788 54.27%,#472c7b 56.84%,#482273 58.55%,#482172 60.26%,#482979 61.97%,#414487 64.53%,#2b758e 67.95%,#1e9d89 70.51%,#24aa83 71.37%,#33b679 72.22%,#64cb5e 73.93%,#b1dd2e 76.50%,#c5e021 77.35%,#d5e21a 78.21%,#e0e318 79.06%,#e7e419 79.91%,#e9e419 80.77%,#e6e419 81.62%,#e0e318 82.48%,#d5e21a 83.33%,#c5e021 84.19%,#9dd93b 85.90%,#55c667 88.46%,#40bd73 89.32%,#2eb37c 90.17%,#23a983 91.03%,#1f9f88 91.88%,#287d8e 95.30%,#2d708e 97.86%,#2d6f8e 99.57%)}
.k6{background:linear-gradient(to right,#6cce59 0.43%,#60ca60 2.14%,#3aba76 4.70%,#22a884 6.41%,#1e9d89 7.26%,#297a8e 9.83%,#3a538b 12.39%,#472d7c 14.96%,#471164 17.52%,#46075b 19.23%,#46085c 20.94%,#481c6e 23.50%,#433e85 26.07%,#32658e 28.63%,#1f978b 32.05%,#20a287 32.91%,#27ad81 33.76%,#54c568 36.32%,#6dce59 38.03%,#7ad151 39.74%,#7ad151 40.60%,#6ece58 42.31%,#54c667 44.02%,#28ae80 46.58%,#20a486 47.44%,#1f998a 48.29%,#306a8e 51.71%,#3f4888 54.27%,#472c7b 56.84%,#482273 58.55%,#482172 60.26%,#482979 61.97%,#414487 64.53%,#2b748e 67.95%,#1e9c89 70.51%,#23a983 71.37%,#32b57a 72.22%,#62ca60 73.93%,#addc30 76.50%,#c1df24 77.35%,#d1e11c 78.21%,#dce319 79.06%,#e2e418 79.91%,#e4e419 80.77%,#e2e418 81.62%,#dbe319 82.48%,#d0e11c 83.33%,#c1df24 84.19%,#98d93e 85.90%,#52c569 88.46%,#3dbc74 89.32%,#2db27d 90.17%,#22a884 91.03%,#1f9e89 91.88%,#287c8e 95.30%,#2d6f8e 97.86%,#2e6e8e 99.57%)}
.k7{background:linear-gradient(to right,#6bcd5a 0.43%,#5fc961 2.14%,#39b976 4.70%,#22a884 6.41%,#1e9d89 7.26%,#297a8e 9.83%,#404788 13.25%,#482374 15.81%,#470c5f 18.38%,#46075b 20.09%,#470e61 21.79%,#482677 24.36%,#3e4b89 26.92%,#277e8e 30.34%,#1f978b 32.05%,#1fa287 32.91%,#27ad81 33.76%,#52c568 36.32%,#6cce5a 38.03%,#78d152 39.74%,#78d152 40.60%,#6cce5a 42.31%,#53c568 44.02%,#28ae80 46.58%,#20a486 47.44%,#1f998a 48.29%,#306a8e 51.71%,#3f4889 54.27%,#472c7b 56.84%,#482374 58.55%,#482273 60.26%,#482979 61.97%,#414487 64.53%,#2b748e 67.95%,#1e9b8a 70.51%,#23a884 71.37%,#31b57b 72.22%,#5fc961 73.93%,#aadc33 76.50%,#bddf26 77.35%,#cde11d 78.21%,#d8e219 79.06%,#dee318 79.91%,#e0e318 80.77%,#dee318 81.62%,#d7e21a 82.48%,#cce11e 83.33%,#aadc32 85.04%,#66cc5d 87.61%,#3bba75 89.32%,#2bb17e 90.17%,#21a685 91.03%,#1e9c89 91.88%,#297b8e 95.30%,#2e6e8e 97.86%,#2e6d8e 99.57%)}
.k8{background:linear-gradient(to right,#69cd5b 0.43%,#5ec962 2.14%,#38b977 4.70%,#22a784 6.41%,#1e9d89 7.26%,#297a8e 9.83%,#3f4788 13.25%,#482475 15.81%,#470d60 18.38%,#46085c 20.09%,#470f62 21.79%,#482777 24.36%,#3e4b8a 26.92%,#277e8e 30.34%,#1f968b 32.05%,#1fa287 32.91%,#26ac81 33.76%,#51c469 36.32%,#6acd5b 38.03%,#76d053 39.74%,#76d053 40.60%,#6acd5b 42.31%,#51c569 44.02%,#27ad81 46.58%,#20a387 47.44%,#1f988b 48.29%,#306a8e 51.71%,#433e85 55.13%,#482777 57.69%,#482173 59.40%,#482575 61.11%,#443983 63.68%,#375b8d 66.24%,#228d8d 69.66%,#1e9b8a 70.51%,#22a884 71.37%,#30b47c 72.22%,#5dc963 73.93%,#a6db35 76.50%,#b9de28 77.35%,#c9e01f 78.21%,#d4e21b 79.06%,#dae319 79.91%,#dce319 80.77%,#d9e219 81.62%,#d3e21b 82.48%,#c8e020 83.33%,#a6db35 85.04%,#62cb5f 87.61%,#39b977 89.32%,#2aaf7f 90.17%,#21a585 91.03%,#20928c 92.74%,#297a8e 95.30%,#2e6d8e 97.86%,#2f6c8e 99.57%)}
.k9{background:linear-gradient(to right,#68cc5c 0.43%,#5cc963 2.14%,#37b977 4.70%,#22a785 6.41%,#1e9d89 7.26%,#297a8e 9.83%,#3f4788 13.25%,#482575 15.81%,#470e61 18.38%,#46095d 20.09%,#471062 21.79%,#482878 24.36%,#3d4c8a 26.92%,#277e8e 30.34%,#1f968b 32.05%,#1fa187 32.91%,#26ac82 33.76%,#50c46a 36.32%,#68cc5c 38.03%,#74d055 39.74%,#74d055 40.60%,#68cd5c 42.31%,#50c46a 44.02%,#27ad81 46.58%,#20a387 47.44%,#228c8d 49.15%,#3a538b 53.42%,#463580 55.98%,#482374 58.55%,#482273 60.26%,#482a79 61.97%,#414487 64.53%,#2c738e 67.95%,#1f9a8a 70.51%,#22a785 71.37%,#2eb37c 72.22%,#5ac864 73.93%,#a2da37 76.50%,#b6de2b 77.35%,#c5e022 78.21%,#d0e11c 79.06%,#d6e21a 79.91%,#d8e219 80.77%,#d5e21a 81.62%,#cee11d 82.48%,#b4dd2c 84.19%,#8dd645 85.90%,#4ac16d 88.46%,#37b878 89.32%,#28ae80 90.17%,#20a486 91.03%,#21918c 92.74%,#29798e 95.30%,#2f6c8e 97.86%,#2f6b8e 99.57%)}
.k10{background:linear-gradient(to right,#66cc5d 0.43%,#5bc863 2.14%,#37b878 4.70%,#22a785 6.41%,#1e9c89 7.26%,#297a8e 9.83%,#3f4889 13.25%,#482576 15.81%,#470f62 18.38%,#460b5e 20.09%,#471163 21.79%,#482878 24.36%,#3d4c8a 26.92%,#277e8e 30.34%,#1f968b 32.05%,#1fa187 32.91%,#25ac82 33.76%,#4ec36b 36.32%,#67cc5d 38.03%,#72cf56 39.74%,#6ece58 41.45%,#5cc863 43.16%,#32b57a 45.73%,#26ac81 46.58%,#1fa287 47.44%,#228c8d 49.15%,#3a538b 53.42%,#453580 55.98%,#482475 58.55%,#482374 60.26%,#472a79 61.97%,#414487 64.53%,#2c738e 67.95%,#1f998a 70.51%,#21a685 71.37%,#2db27d 72.22%,#58c765 73.93%,#9fda3a 76.50%,#c1df24 78.21%,#cce11e 79.06%,#d2e21b 79.91%,#d4e21b 80.77%,#d1e11c 81.62%,#cae11f 82.48%,#b0dd2e 84.19%,#89d548 85.90%,#47c06f 88.46%,#35b779 89.32%,#27ad81 90.17%,#20a387 91.03%,#21908d 92.74%,#2a788e 95.30%,#2f6b8e 97.86%,#306a8e 99.57%)}
.k11{background:linear-gradient(to right,#65cb5e 0.43%,#5ac864 2.14%,#36b878 4.70%,#21a685 6.41%,#1e9c89 7.26%,#297a8e 9.83%,#3f4889 13.25%,#482676 15.81%,#471063 18.38%,#460c5f 20.09%,#471164 21.79%,#482979 24.36%,#3d4c8a 26.92%,#277e8e 30.34%,#1f968b 32.05%,#1fa188 32.91%,#25ab82 33.76%,#4dc36b 36.32%,#65cb5e 38.03%,#71cf57 39.74%,#6dce59 41.45%,#5ac864 43.16%,#31b57b 45.73%,#26ac82 46.58%,#1fa287 47.44%,#228c8d 49.15%,#3a538b 53.42%,#453581 55.98%,#482475 58.55%,#482374 60.26%,#472a7a 61.97%,#414487 64.53%,#2c738e 67.95%,#1f998a 70.51%,#21a585 71.37%,#2cb17e 72.22%,#56c667 73.93%,#9bd93c 76.50%,#bddf26 78.21%,#c8e020 79.06%,#cee11d 79.91%,#cfe11c 80.77%,#cde11d 81.62%,#c6e021 82.48%,#acdc31 84.19%,#85d44a 85.90%,#44bf70 88.46%,#33b67a 89.32%,#26ac82 90.17%,#1fa287 91.03%,#218f8d 92.74%,#2a778e 95.30%,#306a8e 97.86%,#30698e 99.57%)}
.k12{background:linear-gradient(to right,#63cb5f 0.43%,#58c765 2.14%,#35b779 4.70%,#21a685 6.41%,#1e9c89 7.26%,#29798e 9.83%,#3f4989 13.25%,#482777 15.81%,#471164 18.38%,#470d60 20.09%,#471265 21.79%,#482a79 24.36%,#3d4d8a 26.92%,#277e8e 30.34%,#1f958b 32.05%,#1fa088 32.91%,#25ab82 33.76%,#4cc26c 36.32%,#63cb5f 38.03%,#6fce58 39.74%,#6bcd5a 41.45%,#59c765 43.16%,#30b47b 45.73%,#25ab82 46.58%,#1fa187 47.44%,#228c8d 49.15%,#3a538b 53.42%,#453581 55.98%,#482575 58.55%,#482374 60.26%,#472b7a 61.97%,#414487 64.53%,#2c728e 67.95%,#1f988b 70.51%,#20a586 71.37%,#2bb17e 72.22%,#3dbc74 73.08%,#82d44c 75.64%,#aadc32 77.35%,#b9de29 78.21%,#c4e022 79.06%,#cae01f 79.91%,#cbe11e 80.77%,#c9e020 81.62%,#c2df23 82.48%,#a8db34 84.19%,#6cce5a 86.75%,#42be71 88.46%,#31b57b 89.32%,#25ab82 90.17%,#1fa188 91.03%,#25858e 93.59%,#2d708e 96.15%,#31688e 98.72%,#30688e 99.57%)}
.k13{background:linear-gradient(to right,#62ca60 0.43%,#57c766 2.14%,#34b779 4.70%,#21a685 6.41%,#1e9b8a 7.26%,#29798e 9.83%,#3f4989 13.25%,#482777 15.81%,#471264 18.38%,#470e61 20.09%,#481366 21.79%,#472a79 24.36%,#3d4d8a 26.92%,#277e8e 30.34%,#1f958b 32.05%,#1fa088 32.91%,#24aa83 33.76%,#3dbb74 35.47%,#62ca60 38.03%,#6dce59 39.74%,#69cd5b 41.45%,#57c766 43.16%,#2fb47c 45.73%,#25ab82 46.58%,#1fa187 47.44%,#228b8d 49.15%,#3a538b 53.42%,#453681 55.98%,#482575 58.55%,#482475 60.26%,#472b7a 61.97%,#414487 64.53%,#2c728e 67.95%,#1f988b 70.51%,#20a486 71.37%,#2ab07f 72.22%,#3cbb75 73.08%,#7fd34e 75.64%,#a7db35 77.35%,#b5de2b 78.21%,#c0df25 79.06%,#c6e021 79.91%,#c7e020 80.77%,#c4e022 81.62%,#bddf26 82.48%,#a4db36 84.19%,#68cd5c 86.75%,#40bd73 88.46%,#2fb47c 89.32%,#24aa83 90.17%,#1fa088 91.03%,#25848e 93.59%,#2d708e 96.15%,#31678e 98.72%,#31678e 99.57%)}
.k14{background:linear-gradient(to right,#60ca60 0.43%,#56c667 2.14%,#34b679 4.70%,#21a585 6.41%,#1e9b8a 7.26%,#2e6e8e 10.68%,#3e4989 13.25%,#482878 15.81%,#471365 18.38%,#470f61 20.09%,#481467 21.79%,#472b7a 24.36%,#3d4d8a 26.92%,#287e8e 30.34%,#1f958b 32.05%,#1fa088 32.91%,#24aa83 33.76%,#3cbb75 35.47%,#60ca60 38.03%,#6bcd5a 39.74%,#67cc5c 41.45%,#56c666 43.16%,#2fb37c 45.73%,#24aa83 46.58%,#1fa188 47.44%,#228b8d 49.15%,#3a538b 53.42%,#453681 55.98%,#482576 58.55%,#482475 60.26%,#472b7a 61.97%,#414487 64.53%,#2c728e 67.95%,#1f978b 70.51%,#20a386 71.37%,#29af7f 72.22%,#3aba76 73.08%,#7cd250 75.64%,#a3db37 77.35%,#b1dd2e 78.21%,#bcdf27 79.06%,#c1df23 79.91%,#c3e023 80.77%,#c0df24 81.62%,#b9de28 82.48%,#a0da39 84.19%,#65cc5d 86.75%,#3dbc74 88.46%,#2db27d 89.32%,#23a984 90.17%,#1f9f88 91.03%,#297b8e 94.44%,#306a8e 97.01%,#31668e 99.57%)}
.k15{background:linear-gradient(to right,#5fc961 0.43%,#54c667 2.14%,#33b67a 4.70%,#21a586 6.41%,#1e9b8a 7.26%,#2e6e8e 10.68%,#3e4a89 13.25%,#482978 15.81%,#481466 18.38%,#471062 20.09%,#481567 21.79%,#472b7a 24.36%,#3d4e8a 26.92%,#287e8e 30.34%,#1f958c 32.05%,#1f9f88 32.91%,#24aa83 33.76%,#3bba76 35.47%,#5fc961 38.03%,#69cd5b 39.74%,#66cc5d 41.45%,#54c667 43.16%,#2eb37d 45.73%,#24aa83 46.58%,#1fa088 47.44%,#228b8d 49.15%,#3a548b 53.42%,#453681 55.98%,#482676 58.55%,#482575 60.26%,#46327f 62.82%,#3c4f8a 65.38%,#287e8e 68.80%,#1f968b 70.51%,#20a387 71.37%,#28ae80 72.22%,#39b977 73.08%,#79d151 75.64%,#9fda39 77.35%,#addc30 78.21%,#b8de2a 79.06%,#bddf26 79.91%,#bfdf25 80.77%,#bcdf27 81.62%,#aadc32 83.33%,#8ad547 85.04%,#4ec36b 87.61%,#2cb17e 89.32%,#22a884 90.17%,#1f9e89 91.03%,#297a8e 94.44%,#30698e 97.01%,#32658e 99.57%)}
.k16{background:linear-gradient(to right,#5dc962 0.43%,#53c568 2.14%,#32b67a 4.70%,#20a586 6.41%,#1e9b8a 7.26%,#2e6e8e 10.68%,#3e4a89 13.25%,#482979 15.81%,#481567 18.38%,#471163 20.09%,#481668 21.79%,#472c7b 24.36%,#3d4e8a 26.92%,#287e8e 30.34%,#1f948c 32.05%,#1f9f88 32.91%,#23a983 33.76%,#3aba76 35.47%,#5dc962 38.03%,#68cc5c 39.74%,#64cb5e 41.45%,#53c568 43.16%,#2db27d 45.73%,#24a983 46.58%,#1fa088 47.44%,#238b8d 49.15%,#3a548b 53.42%,#453781 55.98%,#482676 58.55%,#482575 60.26%,#46327f 62.82%,#3c4f8a 65.38%,#287d8e 68.80%,#1f968b 70.51%,#1fa287 71.37%,#27ae80 72.22%,#37b877 73.08%,#76d153 75.64%,#9cd93c 77.35%,#b4dd2c 79.06%,#b9de28 79.91%,#bbde27 80.77%,#b8de29 81.62%,#a6db35 83.33%,#86d549 85.04%,#4bc26c 87.61%,#2bb07f 89.32%,#21a685 90.17%,#1e9d89 91.03%,#29798e 94.44%,#30698e 97.01%,#32648e 99.57%)}
.k17{background:linear-gradient(to right,#5cc863 0.43%,#52c569 2.14%,#32b57b 4.70%,#20a486 6.41%,#1f9a8a 7.26%,#2e6e8e 10.68%,#3e4a89 13.25%,#482a79 15.81%,#481568 18.38%,#471264 20.09%,#481769 21.79%,#472d7b 24.36%,#3c4e8a 26.92%,#287d8e 30.34%,#20948c 32.05%,#1f9f88 32.91%,#23a984 33.76%,#39b977 35.47%,#5bc863 38.03%,#66cc5d 39.74%,#62ca5f 41.45%,#51c469 43.16%,#2cb27d 45.73%,#23a983 46.58%,#1f9f88 47.44%,#238a8d 49.15%,#3a548b 53.42%,#453782 55.98%,#482777 58.55%,#482576 60.26%,#46337f 62.82%,#3c4f8a 65.38%,#23898e 69.66%,#1fa187 71.37%,#27ad81 72.22%,#36b878 73.08%,#73d055 75.64%,#98d83e 77.35%,#b0dd2f 79.06%,#b5de2b 79.91%,#b7de2a 80.77%,#b4dd2c 81.62%,#a2da37 83.33%,#83d44b 85.04%,#49c16e 87.61%,#29af7f 89.32%,#21a585 90.17%,#1e9c8a 91.03%,#2a788e 94.44%,#31688e 97.01%,#33638d 99.57%)}
.k18{background:linear-gradient(to right,#5ac864 0.43%,#50c469 2.14%,#31b57b 4.70%,#20a486 6.41%,#21908d 8.12%,#33628d 11.54%,#423f85 14.10%,#482273 16.67%,#481366 19.23%,#481466 20.94%,#482475 23.50%,#414387 26.07%,#2c728e 29.49%,#20948c 32.05%,#1f9e88 32.91%,#23a884 33.76%,#38b977 35.47%,#5ac864 38.03%,#64cb5e 39.74%,#60ca60 41.45%,#50c46a 43.16%,#2cb17e 45.73%,#23a984 46.58%,#1f9f88 47.44%,#238a8d 49.15%,#3a548b 53.42%,#453782 55.98%,#482777 58.55%,#482676 60.26%,#46337f 62.82%,#3c4f8a 65.38%,#23888e 69.66%,#1fa188 71.37%,#26ac81 72.22%,#34b779 73.08%,#71cf57 75.64%,#95d840 77.35%,#acdc31 79.06%,#b2dd2d 79.91%,#b3dd2d 80.77%,#b0dd2e 81.62%,#9eda3a 83.33%,#7fd34e 85.04%,#46c06f 87.61%,#28ae80 89.32%,#20a486 90.17%,#20918c 91.88%,#2d718e 95.30%,#32648e 97.86%,#33638d 99.57%)}
.k19{background:linear-gradient(to right,#59c765 0.43%,#4fc46a 2.14%,#30b47b 4.70%,#20a486 6.41%,#218f8d 8.12%,#38578c 12.39%,#453580 14.96%,#481c6e 17.52%,#481467 19.23%,#481567 20.94%,#482576 23.50%,#414387 26.07%,#2c728e 29.49%,#20948c 32.05%,#1f9e89 32.91%,#22a884 33.76%,#37b878 35.47%,#58c765 38.03%,#62cb5f 39.74%,#5fc961 41.45%,#4ec36b 43.16%,#2bb17e 45.73%,#22a884 46.58%,#1f9f88 47.44%,#277f8e 50.00%,#3e4a89 54.27%,#46317e 56.84%,#482676 59.40%,#482978 61.11%,#443b84 63.68%,#32658e 67.09%,#20948c 70.51%,#1fa088 71.37%,#25ab82 72.22%,#33b67a 73.08%,#6ece58 75.64%,#91d742 77.35%,#a8db33 79.06%,#aedc30 79.91%,#afdd2f 80.77%,#acdc31 81.62%,#9ad93c 83.33%,#7cd250 85.04%,#44bf70 87.61%,#27ad81 89.32%,#20a386 90.17%,#21908c 91.88%,#2d708e 95.30%,#33638d 97.86%,#33628d 99.57%)}
.k20{background:linear-gradient(to right,#58c765 0.43%,#4ec36b 2.14%,#30b47c 4.70%,#20a386 6.41%,#218f8d 8.12%,#38578c 12.39%,#453581 14.96%,#481d6f 17.52%,#481568 19.23%,#481668 20.94%,#482676 23.50%,#414487 26.07%,#2c728e 29.49%,#20938c 32.05%,#1f9e89 32.91%,#22a884 33.76%,#36b878 35.47%,#57c766 38.03%,#61ca60 39.74%,#5dc962 41.45%,#4dc36b 43.16%,#2ab07f 45.73%,#22a884 46.58%,#1f9e89 47.44%,#277f8e 50.00%,#3e4a89 54.27%,#46317e 56.84%,#482677 59.40%,#482979 61.11%,#443b84 63.68%,#32658e 67.09%,#20938c 70.51%,#1f9f88 71.37%,#24ab82 72.22%,#32b57a 73.08%,#6bcd5a 75.64%,#8ed644 77.35%,#a4db36 79.06%,#aadc32 79.91%,#abdc32 80.77%,#a1da38 82.48%,#89d548 84.19%,#54c568 86.75%,#32b57a 88.46%,#26ac82 89.32%,#1fa287 90.17%,#218f8d 91.88%,#2d6f8e 95.30%,#33628d 97.86%,#34618d 99.57%)}
.k21{background:linear-gradient(to right,#56c666 0.43%,#4dc36c 2.14%,#2fb37c 4.70%,#20a387 6.41%,#218f8d 8.12%,#38578c 12.39%,#453681 14.96%,#481e6f 17.52%,#481668 19.23%,#481769 20.94%,#482777 23.50%,#414487 26.07%,#2c728e 29.49%,#20938c 32.05%,#1f9d89 32.91%,#22a784 33.76%,#35b779 35.47%,#55c667 38.03%,#5fc961 39.74%,#5bc863 41.45%,#4cc26c 43.16%,#2ab07f 45.73%,#22a784 46.58%,#1f9e89 47.44%,#277f8e 50.00%,#3e4a89 54.27%,#46317e 56.84%,#482777 59.40%,#472e7c 61.97%,#404587 64.53%,#2d708e 67.95%,#20938c 70.51%,#1f9f88 71.37%,#24aa83 72.22%,#30b47b 73.08%,#68cd5c 75.64%,#8bd647 77.35%,#a1da38 79.06%,#a6db35 79.91%,#a7db34 80.77%,#9dd93b 82.48%,#85d44a 84.19%,#51c469 86.75%,#30b47b 88.46%,#25ab82 89.32%,#1fa187 90.17%,#218e8d 91.88%,#2e6f8e 95.30%,#33618d 97.86%,#34608d 99.57%)}
.k22{background:linear-gradient(to right,#55c667 0.43%,#4bc26c 2.14%,#2eb37c 4.70%,#20a387 6.41%,#218f8d 8.12%,#38588c 12.39%,#453781 14.96%,#481f70 17.52%,#481769 19.23%,#48176a 20.94%,#482777 23.50%,#404487 26.07%,#2c728e 29.49%,#20938c 32.05%,#1e9d89 32.91%,#22a785 33.76%,#34b779 35.47%,#54c568 38.03%,#5dc962 39.74%,#5ac864 41.45%,#4ac26d 43.16%,#29af7f 45.73%,#22a785 46.58%,#1f9d89 47.44%,#277e8e 50.00%,#3e4a89 54.27%,#46327e 56.84%,#482777 59.40%,#472e7c 61.97%,#404588 64.53%,#2d708e 67.95%,#20928c 70.51%,#1f9e89 71.37%,#23a983 72.22%,#2fb47c 73.08%,#66cc5d 75.64%,#87d549 77.35%,#9dd93b 79.06%,#a2da37 79.91%,#a3db37 80.77%,#9ad93d 82.48%,#82d34c 84.19%,#4ec36b 86.75%,#2eb37c 88.46%,#24aa83 89.32%,#1fa088 90.17%,#25848e 92.74%,#30688e 96.15%,#355f8d 98.72%,#355f8d 99.57%)}
.k23{background:linear-gradient(to right,#53c568 0.43%,#4ac26d 2.14%,#2eb37d 4.70%,#1fa287 6.41%,#218f8d 8.12%,#38588c 12.39%,#453782 14.96%,#481f71 17.52%,#48186a 19.23%,#48186b 20.94%,#482878 23.50%,#404588 26.07%,#2c728e 29.49%,#1e9d89 32.91%,#21a685 33.76%,#33b679 35.47%,#52c568 38.03%,#5cc863 39.74%,#58c765 41.45%,#49c16e 43.16%,#29af80 45.73%,#21a685 46.58%,#1e9d89 47.44%,#2b748e 50.85%,#3e4b89 54.27%,#46327f 56.84%,#482878 59.40%,#472e7c 61.97%,#404588 64.53%,#2d6f8e 67.95%,#20928c 70.51%,#1f9d89 71.37%,#23a884 72.22%,#2eb37d 73.08%,#63cb5f 75.64%,#84d44b 77.35%,#9ad93d 79.06%,#a0da39 80.77%,#96d83f 82.48%,#7ed34e 84.19%,#4cc26c 86.75%,#2db27d 88.46%,#23a983 89.32%,#1f9f88 90.17%,#287b8e 93.59%,#31678e 96.15%,#355e8d 98.72%,#355e8d 99.57%)}
.k24{background:linear-gradient(to right,#52c569 0.43%,#49c16e 2.14%,#2db27d 4.70%,#1fa287 6.41%,#218e8d 8.12%,#38588c 12.39%,#453882 14.96%,#482071 17.52%,#48186a 20.09%,#482273 22.65%,#443b83 25.21%,#365c8d 27.78%,#20928c 32.05%,#1e9d89 32.91%,#21a685 33.76%,#33b67a 35.47%,#51c469 38.03%,#5ac864 39.74%,#57c766 41.45%,#48c16e 43.16%,#28ae80 45.73%,#21a685 46.58%,#20938c 48.29%,#355f8d 52.56%,#443983 55.98%,#482a79 58.55%,#472b7a 61.11%,#433c84 63.68%,#32648e 67.09%,#20918c 70.51%,#1e9d89 71.37%,#22a884 72.22%,#2db27d 73.08%,#61ca60 75.64%,#81d34d 77.35%,#96d83f 79.06%,#9cd93b 80.77%,#92d742 82.48%,#7bd250 84.19%,#4ac16d 86.75%,#2cb17e 88.46%,#22a884 89.32%,#1f9e89 90.17%,#297a8e 93.59%,#31678e 96.15%,#355e8d 98.72%,#355e8d 99.57%)}
.k25{background:linear-gradient(to right,#51c469 0.43%,#48c16e 2.14%,#2cb27d 4.70%,#1fa287 6.41%,#218e8d 8.12%,#38588c 12.39%,#453882 14.96%,#482172 17.52%,#48196b 20.09%,#482373 22.65%,#443b84 25.21%,#365c8d 27.78%,#20928c 32.05%,#1e9c89 32.91%,#21a685 33.76%,#32b57a 35.47%,#4fc46a 38.03%,#59c765 39.74%,#55c667 41.45%,#46c06f 43.16%,#28ae80 45.73%,#21a585 46.58%,#20928c 48.29%,#355f8d 52.56%,#443a83 55.98%,#472a79 58.55%,#472b7a 61.11%,#433c84 63.68%,#32648e 67.09%,#20918c 70.51%,#1e9c89 71.37%,#22a784 72.22%,#2cb17e 73.08%,#5ec962 75.64%,#7ed34f 77.35%,#92d742 79.06%,#98d83e 80.77%,#8fd644 82.48%,#78d152 84.19%,#47c06f 86.75%,#2ab07f 88.46%,#22a785 89.32%,#1f9d89 90.17%,#297a8e 93.59%,#31668e 96.15%,#365d8d 98.72%,#365d8d 99.57%)}
.k26{background:linear-gradient(to right,#4fc46a 0.43%,#47c06f 2.14%,#2cb17e 4.70%,#1fa187 6.41%,#218e8d 8.12%,#38598c 12.39%,#443982 14.96%,#482273 17.52%,#481a6c 20.09%,#482374 22.65%,#443c84 25.21%,#365c8d 27.78%,#20928c 32.05%,#21a586 33.76%,#31b57b 35.47%,#4ec36b 38.03%,#57c766 39.74%,#54c568 41.45%,#45bf70 43.16%,#27ad81 45.73%,#21a586 46.58%,#20928c 48.29%,#355f8d 52.56%,#443a83 55.98%,#472b7a 58.55%,#472c7a 61.11%,#433d84 63.68%,#32648e 67.09%,#21908c 70.51%,#1e9c8a 71.37%,#21a685 72.22%,#2bb17e 73.08%,#5cc863 75.64%,#7bd250 77.35%,#8fd744 79.06%,#95d840 80.77%,#8bd646 82.48%,#74d054 84.19%,#45bf70 86.75%,#29af7f 88.46%,#21a685 89.32%,#20938c 91.03%,#2c728e 94.44%,#34618d 97.01%,#365c8d 99.57%)}
.k27{background:linear-gradient(to right,#4ec36b 0.43%,#45c070 2.14%,#2bb17e 4.70%,#1fa187 6.41%,#218e8d 8.12%,#37598c 12.39%,#443983 14.96%,#482273 17.52%,#481b6d 20.09%,#482475 22.65%,#433c84 25.21%,#365c8d 27.78%,#20928c 32.05%,#20a586 33.76%,#30b47b 35.47%,#4dc36c 38.03%,#55c667 39.74%,#52c569 41.45%,#44bf71 43.16%,#26ad81 45.73%,#20a486 46.58%,#20928c 48.29%,#355f8d 52.56%,#443a83 55.98%,#472b7a 58.55%,#472c7b 61.11%,#433d84 63.68%,#32648e 67.09%,#21908d 70.51%,#1e9b8a 71.37%,#21a685 72.22%,#2ab07f 73.08%,#59c864 75.64%,#78d152 77.35%,#8cd646 79.06%,#91d742 80.77%,#88d549 82.48%,#71cf56 84.19%,#43be71 86.75%,#28ae80 88.46%,#21a586 89.32%,#20928c 91.03%,#306a8e 95.30%,#355d8d 97.86%,#365c8d 99.57%)}
.k28{background:linear-gradient(to right,#4dc36c 0.43%,#44bf70 2.14%,#2bb07f 4.70%,#1fa188 6.41%,#218e8d 8.12%,#37598c 12.39%,#443a83 14.96%,#482374 17.52%,#481b6d 20.09%,#482575 22.65%,#433d84 25.21%,#31678e 28.63%,#20918c 32.05%,#20a486 33.76%,#2fb47c 35.47%,#4bc26c 38.03%,#54c568 39.74%,#50c469 41.45%,#42be71 43.16%,#26ac81 45.73%,#20a486 46.58%,#20928c 48.29%,#355f8d 52.56%,#443b83 55.98%,#472c7a 58.55%,#472c7b 61.11%,#433d85 63.68%,#32648e 67.09%,#218f8d 70.51%,#1f9a8a 71.37%,#21a586 72.22%,#29af7f 73.08%,#57c766 75.64%,#75d054 77.35%,#88d548 79.06%,#8ed645 80.77%,#84d44b 82.48%,#6ece58 84.19%,#41bd72 86.75%,#27ad81 88.46%,#20a486 89.32%,#20918c 91.03%,#306a8e 95.30%,#365d8d 97.86%,#375b8d 99.57%)}
.k29{background:linear-gradient(to right,#4bc26c 0.43%,#43be71 2.14%,#2ab07f 4.70%,#1fa088 6.41%,#228e8d 8.12%,#37598c 12.39%,#46327e 15.81%,#482071 18.38%,#481e6f 20.94%,#472c7b 23.50%,#3f4788 26.07%,#2c728e 29.49%,#1e9b8a 32.91%,#20a486 33.76%,#2fb37c 35.47%,#4ac16d 38.03%,#52c568 39.74%,#4fc46a 41.45%,#38b977 44.02%,#25ac82 45.73%,#20a486 46.58%,#20918c 48.29%,#355f8d 52.56%,#443b84 55.98%,#472c7b 58.55%,#472d7b 61.11%,#433d85 63.68%,#33648d 67.09%,#218f8d 70.51%,#1f9a8a 71.37%,#20a486 72.22%,#28ae80 73.08%,#55c667 75.64%,#72cf56 77.35%,#85d44a 79.06%,#8ad547 80.77%,#81d34d 82.48%,#6bcd5a 84.19%,#3fbc73 86.75%,#26ac81 88.46%,#20a387 89.32%,#21918c 91.03%,#30698e 95.30%,#365c8d 97.86%,#375a8c 99.57%)}
.k30{background:linear-gradient(to right,#4ac26d 0.43%,#42be71 2.14%,#29af7f 4.70%,#1fa088 6.41%,#228d8d 8.12%,#375a8c 12.39%,#46327f 15.81%,#482072 18.38%,#481e70 20.94%,#472d7b 23.50%,#3f4889 26.07%,#2c728e 29.49%,#1e9b8a 32.91%,#20a486 33.76%,#2eb37d 35.47%,#49c16e 38.03%,#51c469 39.74%,#4ec36b 41.45%,#37b878 44.02%,#25ab82 45.73%,#1f9a8a 47.44%,#2c738e 50.85%,#414387 55.13%,#47307d 57.69%,#472b7a 60.26%,#453781 62.82%,#37598c 66.24%,#218e8d 70.51%,#20a486 72.22%,#27ae81 73.08%,#43be71 74.79%,#6fcf58 77.35%,#82d34c 79.06%,#87d549 80.77%,#7dd24f 82.48%,#68cc5c 84.19%,#3dbb74 86.75%,#25ab82 88.46%,#1fa287 89.32%,#21908d 91.03%,#30688e 95.30%,#365b8d 97.86%,#375a8c 99.57%)}
.k31{background:linear-gradient(to right,#49c16e 0.43%,#41bd72 2.14%,#29af80 4.70%,#1fa088 6.41%,#25838e 8.97%,#3c4f8b 13.25%,#472c7a 16.67%,#481f70 19.23%,#482273 21.79%,#453581 24.36%,#365d8d 27.78%,#20918c 32.05%,#20a386 33.76%,#2db27d 35.47%,#47c06f 38.03%,#4fc46a 39.74%,#4cc26c 41.45%,#36b878 44.02%,#25ab82 45.73%,#1f9a8a 47.44%,#2c738e 50.85%,#414487 55.13%,#46307e 57.69%,#472c7b 60.26%,#453782 62.82%,#37598c 66.24%,#218e8d 70.51%,#20a387 72.22%,#27ad81 73.08%,#41be72 74.79%,#6cce59 77.35%,#7fd34e 79.06%,#83d44b 80.77%,#7ad251 82.48%,#65cb5e 84.19%,#3bba76 86.75%,#24aa83 88.46%,#1fa187 89.32%,#218f8d 91.03%,#31688e 95.30%,#375b8d 97.86%,#37598c 99.57%)}
.k32{background:linear-gradient(to right,#48c06e 0.43%,#40bd73 2.14%,#28af80 4.70%,#1f9f88 6.41%,#25838e 8.97%,#3c508b 13.25%,#472c7b 16.67%,#482071 19.23%,#482374 21.79%,#453681 24.36%,#355d8d 27.78%,#21908c 32.05%,#20a387 33.76%,#2db27d 35.47%,#46c06f 38.03%,#4ec36b 39.74%,#4bc26d 41.45%,#35b779 44.02%,#24aa83 45.73%,#1f9a8a 47.44%,#2c738e 50.85%,#414487 55.13%,#46317e 57.69%,#472c7b 60.26%,#453782 62.82%,#37598c 66.24%,#228d8d 70.51%,#1fa287 72.22%,#26ac82 73.08%,#3fbd73 74.79%,#6acd5b 77.35%,#7bd250 79.06%,#80d34d 80.77%,#77d153 82.48%,#62cb5f 84.19%,#39b977 86.75%,#23a983 88.46%,#1fa088 89.32%,#25858e 91.88%,#31678e 95.30%,#375a8c 97.86%,#38588c 99.57%)}
.k33{background:linear-gradient(to right,#46c06f 0.43%,#3fbc73 2.14%,#28ae80 4.70%,#1f9f88 6.41%,#25838e 8.97%,#3c508b 13.25%,#472d7b 16.67%,#482072 19.23%,#482475 21.79%,#453781 24.36%,#355d8d 27.78%,#21908c 32.05%,#1fa287 33.76%,#2cb17e 35.47%,#45bf70 38.03%,#4cc26c 39.74%,#49c16e 41.45%,#34b779 44.02%,#24aa83 45.73%,#1f998a 47.44%,#2c738e 50.85%,#404487 55.13%,#46317e 57.69%,#472d7b 60.26%,#453882 62.82%,#37598c 66.24%,#228d8d 70.51%,#1fa287 72.22%,#25ab82 73.08%,#3ebc74 74.79%,#67cc5d 77.35%,#78d152 79.06%,#7dd24f 80.77%,#74d055 82.48%,#5fca61 84.19%,#37b878 86.75%,#23a884 88.46%,#1f9f88 89.32%,#25858e 91.88%,#31678e 95.30%,#375a8c 97.86%,#38588c 99.57%)}
.k34{background:linear-gradient(to right,#45bf70 0.43%,#3ebc74 2.14%,#27ae80 4.70%,#1f9f88 6.41%,#25838e 8.97%,#3b518b 13.25%,#472e7c 16.67%,#482172 19.23%,#482575 21.79%,#453782 24.36%,#355e8d 27.78%,#21908d 32.05%,#1fa287 33.76%,#2bb17e 35.47%,#43bf71 38.03%,#4bc26d 39.74%,#48c16e 41.45%,#33b67a 44.02%,#23a983 45.73%,#1f998a 47.44%,#30698e 51.71%,#433d85 55.98%,#472f7d 58.55%,#472f7d 61.11%,#423f85 63.68%,#2e6d8e 67.95%,#1f978b 71.37%,#1fa187 72.22%,#24ab82 73.08%,#3cbb75 74.79%,#64cb5e 77.35%,#75d054 79.06%,#7ad151 80.77%,#71cf57 82.48%,#5dc962 84.19%,#2ab07f 87.61%,#22a784 88.46%,#1f968b 90.17%,#2f6d8e 94.44%,#365c8d 97.01%,#38578c 99.57%)}
.k35{background:linear-gradient(to right,#44bf70 0.43%,#3cbb75 2.14%,#27ad81 4.70%,#1f9e89 6.41%,#25838e 8.97%,#3b518b 13.25%,#472e7c 16.67%,#482273 19.23%,#482576 21.79%,#453882 24.36%,#355e8d 27.78%,#21908d 32.05%,#1fa287 33.76%,#2bb07f 35.47%,#42be71 38.03%,#49c16d 39.74%,#46c06f 41.45%,#32b57a 44.02%,#23a984 45.73%,#1f988b 47.44%,#30698e 51.71%,#433e85 55.98%,#472f7d 58.55%,#47307d 61.11%,#423f85 63.68%,#2e6d8e 67.95%,#1f968b 71.37%,#1fa088 72.22%,#24aa83 73.08%,#3aba76 74.79%,#62ca60 77.35%,#72cf56 79.06%,#77d153 80.77%,#6ece58 82.48%,#5ac864 84.19%,#29af80 87.61%,#21a685 88.46%,#1f958c 90.17%,#2f6c8e 94.44%,#365c8d 97.01%,#39578c 99.57%)}
.k36{background:linear-gradient(to right,#43be71 0.43%,#3bbb75 2.14%,#26ad81 4.70%,#1f9e89 6.41%,#26838e 8.97%,#3b518b 13.25%,#472f7d 16.67%,#482374 19.23%,#482677 21.79%,#453882 24.36%,#355e8d 27.78%,#21908d 32.05%,#1fa187 33.76%,#2ab07f 35.47%,#41bd72 38.03%,#48c16e 39.74%,#45bf70 41.45%,#31b57b 44.02%,#23a884 45.73%,#1f988b 47.44%,#30698e 51.71%,#433e85 55.98%,#47307d 58.55%,#46307d 61.11%,#423f86 63.68%,#2e6d8e 67.95%,#1f968b 71.37%,#1fa088 72.22%,#23a983 73.08%,#39b976 74.79%,#5fca61 77.35%,#6fcf57 79.06%,#73d055 80.77%,#6bcd5a 82.48%,#4bc26c 85.04%,#28ae80 87.61%,#21a685 88.46%,#20948c 90.17%,#2f6b8e 94.44%,#365b8d 97.01%,#39568c 99.57%)}
.k37{background:linear-gradient(to right,#41be72 0.43%,#3aba76 2.14%,#26ac81 4.70%,#1f9e89 6.41%,#29798e 9.83%,#3f4889 14.10%,#47307d 16.67%,#482475 19.23%,#482777 21.79%,#443983 24.36%,#355e8d 27.78%,#218f8d 32.05%,#1fa188 33.76%,#29af7f 35.47%,#40bd73 38.03%,#47c06f 39.74%,#44bf71 41.45%,#30b47b 44.02%,#22a884 45.73%,#1f988b 47.44%,#30698e 51.71%,#433e85 55.98%,#46307e 58.55%,#46317e 61.11%,#424086 63.68%,#2e6d8e 67.95%,#1f958b 71.37%,#1f9f88 72.22%,#23a884 73.08%,#37b977 74.79%,#5dc963 77.35%,#6dce59 79.06%,#70cf57 80.77%,#68cc5c 82.48%,#49c16e 85.04%,#27ad81 87.61%,#20a586 88.46%,#20938c 90.17%,#2f6b8e 94.44%,#375b8d 97.01%,#39568c 99.57%)}
.k38{background:linear-gradient(to right,#40bd72 0.43%,#33b67a 2.99%,#21a586 5.56%,#1f958b 7.26%,#32668e 11.54%,#424086 14.96%,#472b7a 17.52%,#482475 20.09%,#472c7b 22.65%,#414286 25.21%,#30688e 28.63%,#1f988b 32.91%,#22a884 34.62%,#38b977 37.18%,#43be71 38.89%,#45bf70 40.60%,#3ebc74 42.31%,#28ae80 44.87%,#1fa088 46.58%,#25858e 49.15%,#3c4e8a 54.27%,#443982 56.84%,#472f7d 59.40%,#463580 61.97%,#3f4889 64.53%,#2a778e 68.80%,#1f958b 71.37%,#1f9f88 72.22%,#22a884 73.08%,#36b878 74.79%,#5ac864 77.35%,#6acd5b 79.06%,#6ece59 80.77%,#65cb5e 82.48%,#47c06f 85.04%,#26ac82 87.61%,#20a486 88.46%,#20928c 90.17%,#2f6a8e 94.44%,#375a8d 97.01%,#39558c 99.57%)}
.k39{background:linear-gradient(to right,#3fbd73 0.43%,#32b67a 2.99%,#20a586 5.56%,#1f958c 7.26%,#32668e 11.54%,#424086 14.96%,#472c7b 17.52%,#482575 20.09%,#472d7b 22.65%,#414287 25.21%,#2c728e 29.49%,#1f988b 32.91%,#22a884 34.62%,#37b878 37.18%,#42be72 38.89%,#44bf71 40.60%,#3cbb75 42.31%,#27ad81 44.87%,#1f9f88 46.58%,#25858e 49.15%,#3c4e8a 54.27%,#443983 56.84%,#47307d 59.40%,#453580 61.97%,#3f4889 64.53%,#2a768e 68.80%,#1f948c 71.37%,#1f9e89 72.22%,#22a784 73.08%,#35b779 74.79%,#58c765 77.35%,#67cc5d 79.06%,#6bcd5a 80.77%,#62cb5f 82.48%,#45bf70 85.04%,#25ab82 87.61%,#20a387 88.46%,#20928c 90.17%,#306a8e 94.44%,#375a8c 97.01%,#39558c 99.57%)}
.k40{background:linear-gradient(to right,#3ebc74 0.43%,#32b57b 2.99%,#20a486 5.56%,#1f948c 7.26%,#31668e 11.54%,#424186 14.96%,#472d7b 17.52%,#482676 20.09%,#472e7c 22.65%,#414387 25.21%,#2c728e 29.49%,#1f978b 32.91%,#22a784 34.62%,#36b878 37.18%,#40bd72 38.89%,#42be71 40.60%,#35b779 43.16%,#21a685 45.73%,#1f978b 47.44%,#30698e 51.71%,#424086 55.98%,#46327f 58.55%,#46327f 61.11%,#424186 63.68%,#2f6c8e 67.95%,#20948c 71.37%,#21a685 73.08%,#33b67a 74.79%,#55c667 77.35%,#64cb5e 79.06%,#68cc5c 80.77%,#60ca61 82.48%,#43be71 85.04%,#24aa83 87.61%,#1f9a8a 89.32%,#2d708e 93.59%,#375a8c 97.01%,#3a548c 99.57%)}
.k41{background:linear-gradient(to right,#3dbb74 0.43%,#31b57b 2.99%,#20a486 5.56%,#20948c 7.26%,#31668e 11.54%,#424186 14.96%,#472d7c 17.52%,#482677 20.09%,#472f7c 22.65%,#414387 25.21%,#2c728e 29.49%,#1f978b 32.91%,#22a785 34.62%,#35b779 37.18%,#41be72 39.74%,#3fbc73 41.45%,#2db27d 44.02%,#21a685 45.73%,#1f968b 47.44%,#30698e 51.71%,#424086 55.98%,#46327f 58.55%,#46337f 61.11%,#424186 63.68%,#2f6c8e 67.95%,#20938c 71.37%,#21a685 73.08%,#32b57a 74.79%,#53c568 77.35%,#62ca60 79.06%,#65cb5e 80.77%,#5dc962 82.48%,#41bd72 85.04%,#23a983 87.61%,#1f998a 89.32%,#2d708e 93.59%,#37598c 97.01%,#3a548b 99.57%)}
.k42{background:linear-gradient(to right,#3cbb75 0.43%,#30b47b 2.99%,#20a386 5.56%,#20948c 7.26%,#31668e 11.54%,#443a83 15.81%,#472a79 18.38%,#482878 20.94%,#453580 23.50%,#39568c 26.92%,#218e8d 32.05%,#1f9f88 33.76%,#26ad81 35.47%,#3aba76 38.03%,#40bd73 39.74%,#3dbc74 41.45%,#2cb17e 44.02%,#21a585 45.73%,#1f968b 47.44%,#30698e 51.71%,#424086 55.98%,#46337f 58.55%,#46337f 61.11%,#424186 63.68%,#2f6c8e 67.95%,#20938c 71.37%,#21a586 73.08%,#31b57b 74.79%,#51c469 77.35%,#5fc961 79.06%,#62cb5f 80.77%,#5ac864 82.48%,#3fbc73 85.04%,#23a884 87.61%,#1f988b 89.32%,#30698e 94.44%,#38598c 97.01%,#3a538b 99.57%)}
.k43{background:linear-gradient(to right,#3bba76 0.43%,#2fb47c 2.99%,#20a387 5.56%,#20948c 7.26%,#31668e 11.54%,#443b83 15.81%,#472b7a 18.38%,#482979 20.94%,#453681 23.50%,#34608d 27.78%,#218e8d 32.05%,#1f9e88 33.76%,#26ac81 35.47%,#39b977 38.03%,#3fbc73 39.74%,#3cbb75 41.45%,#2bb17e 44.02%,#21a586 45.73%,#1f968b 47.44%,#30698e 51.71%,#424186 55.98%,#46337f 58.55%,#463480 61.11%,#414286 63.68%,#2f6c8e 67.95%,#20928c 71.37%,#20a486 73.08%,#30b47c 74.79%,#4fc36a 77.35%,#5cc963 79.06%,#60ca61 80.77%,#58c765 82.48%,#32b67a 85.90%,#22a884 87.61%,#1f978b 89.32%,#30688e 94.44%,#38588c 97.01%,#3a538b 99.57%)}
.k44{background:linear-gradient(to right,#39ba76 0.43%,#2eb37c 2.99%,#20a387 5.56%,#20938c 7.26%,#355d8d 12.39%,#443b84 15.81%,#472c7b 18.38%,#472a79 20.94%,#453681 23.50%,#34608d 27.78%,#218e8d 32.05%,#1f9e89 33.76%,#25ac82 35.47%,#37b977 38.03%,#3dbc74 39.74%,#3bba75 41.45%,#2bb07e 44.02%,#20a486 45.73%,#1f958b 47.44%,#34618d 52.56%,#424186 55.98%,#463480 58.55%,#463480 61.11%,#414287 63.68%,#2f6c8e 67.95%,#20928c 71.37%,#20a486 73.08%,#2eb37c 74.79%,#4dc36c 77.35%,#5ac864 79.06%,#5dc962 80.77%,#55c667 82.48%,#31b57b 85.90%,#22a785 87.61%,#1f968b 89.32%,#31688e 94.44%,#38588c 97.01%,#3a538b 99.57%)}
.k45{background:linear-gradient(to right,#38b977 0.43%,#2eb27d 2.99%,#1fa287 5.56%,#238b8d 8.12%,#3a548c 13.25%,#453681 16.67%,#472a7a 19.23%,#472d7c 21.79%,#433e85 24.36%,#30698e 28.63%,#1f968b 32.91%,#21a586 34.62%,#31b57b 37.18%,#3cbb75 39.74%,#3aba76 41.45%,#2ab07f 44.02%,#20a486 45.73%,#1f958b 47.44%,#34618d 52.56%,#414286 55.98%,#463480 58.55%,#453580 61.11%,#414287 63.68%,#2f6c8e 67.95%,#20918c 71.37%,#20a387 73.08%,#2db27d 74.79%,#4bc26d 77.35%,#57c765 79.06%,#5ac864 80.77%,#53c568 82.48%,#2fb47c 85.90%,#21a685 87.61%,#1f968b 89.32%,#31678e 94.44%,#38588c 97.01%,#3a528b 99.57%)}
.k46{background:linear-gradient(to right,#37b977 0.43%,#2db27d 2.99%,#1fa287 5.56%,#238a8d 8.12%,#39558c 13.25%,#453681 16.67%,#472b7a 19.23%,#472e7c 21.79%,#433e85 24.36%,#30698e 28.63%,#1f968b 32.91%,#20a486 34.62%,#30b47b 37.18%,#3bba75 39.74%,#35b779 42.31%,#20a386 45.73%,#1f958c 47.44%,#34618d 52.56%,#414287 55.98%,#453580 58.55%,#453581 61.11%,#414387 63.68%,#2b758e 68.80%,#1f9a8a 72.22%,#24aa83 73.93%,#40bd73 76.50%,#55c667 79.06%,#58c765 80.77%,#51c469 82.48%,#2eb37c 85.90%,#21a586 87.61%,#1f958b 89.32%,#31678e 94.44%,#3a548c 97.86%,#3b528b 99.57%)}
.k47{background:linear-gradient(to right,#36b878 0.43%,#2cb17e 2.99%,#1fa187 5.56%,#238a8d 8.12%,#39558c 13.25%,#453781 16.67%,#472c7b 19.23%,#472f7d 21.79%,#423f85 24.36%,#30698e 28.63%,#1f958b 32.91%,#20a486 34.62%,#2fb47c 37.18%,#3aba76 39.74%,#33b679 42.31%,#20a387 45.73%,#20948c 47.44%,#34618d 52.56%,#414387 55.98%,#453681 58.55%,#453681 61.11%,#414387 63.68%,#2b758e 68.80%,#1f998a 72.22%,#24aa83 73.93%,#3ebc74 76.50%,#53c568 79.06%,#56c667 80.77%,#4ec36b 82.48%,#2db27d 85.90%,#20a486 87.61%,#1f948c 89.32%,#31678e 94.44%,#3a548c 97.86%,#3b528b 99.57%)}
.k48{background:linear-gradient(to right,#35b778 0.43%,#2bb17e 2.99%,#1fa187 5.56%,#238a8d 8.12%,#39558c 13.25%,#453882 16.67%,#472d7b 19.23%,#47307d 21.79%,#424086 24.36%,#306a8e 28.63%,#1f958b 32.91%,#20a486 34.62%,#2eb37c 37.18%,#39b977 39.74%,#32b67a 42.31%,#20a387 45.73%,#228c8d 48.29%,#38598c 53.42%,#433d85 56.84%,#453580 59.40%,#443983 61.97%,#3e4a89 64.53%,#277e8e 69.66%,#1f998a 72.22%,#23a983 73.93%,#45bf70 77.35%,#50c469 79.06%,#53c568 80.77%,#4cc26c 82.48%,#2cb17e 85.90%,#20a386 87.61%,#20948c 89.32%,#31668e 94.44%,#3a548b 97.86%,#3b518b 99.57%)}
.k49{background:linear-gradient(to right,#34b779 0.43%,#2bb07e 2.99%,#1fa188 5.56%,#238a8d 8.12%,#39568c 13.25%,#453882 16.67%,#472e7c 19.23%,#46317e 21.79%,#424086 24.36%,#306a8e 28.63%,#1f958c 32.91%,#20a387 34.62%,#32b67a 38.03%,#37b977 40.60%,#2db27d 43.16%,#1fa287 45.73%,#228c8d 48.29%,#37598c 53.42%,#433e85 56.84%,#453581 59.40%,#443a83 61.97%,#3e4b89 64.53%,#287e8e 69.66%,#1f988b 72.22%,#23a884 73.93%,#43be71 77.35%,#4ec36b 79.06%,#51c469 80.77%,#4ac16d 82.48%,#2ab07f 85.90%,#20a387 87.61%,#20938c 89.32%,#32668e 94.44%,#3a548b 97.86%,#3b518b 99.57%)}
.k50{background:linear-gradient(to right,#33b67a 0.43%,#2ab07f 2.99%,#1fa088 5.56%,#238a8d 8.12%,#39568c 13.25%,#443983 16.67%,#472f7c 19.23%,#46317e 21.79%,#424186 24.36%,#306a8e 28.63%,#1f948c 32.91%,#20a387 34.62%,#31b57b 38.03%,#36b878 40.60%,#2cb17e 43.16%,#1fa287 45.73%,#228b8d 48.29%,#3b518b 54.27%,#443a83 57.69%,#453681 60.26%,#433f85 62.82%,#375a8d 66.24%,#218f8d 71.37%,#1fa088 73.08%,#28ae80 74.79%,#41bd72 77.35%,#4cc26c 79.06%,#4ec36b 80.77%,#48c16e 82.48%,#29af7f 85.90%,#1fa287 87.61%,#238a8d 90.17%,#34608d 95.30%,#3a538b 97.86%,#3b518b 99.57%)}
.k51{background:linear-gradient(to right,#32b67a 0.43%,#29af7f 2.99%,#1fa088 5.56%,#238a8d 8.12%,#39568c 13.25%,#443a83 16.67%,#472f7d 19.23%,#46327f 21.79%,#424186 24.36%,#2c738e 29.49%,#1e9b8a 33.76%,#27ad81 36.32%,#34b679 38.89%,#33b67a 41.45%,#26ac81 44.02%,#1f9a8a 46.58%,#2c728e 50.85%,#414487 55.98%,#453882 58.55%,#453882 61.11%,#404588 63.68%,#2b748e 68.80%,#1f978b 72.22%,#22a785 73.93%,#3fbd73 77.35%,#4ac16d 79.06%,#4cc26c 80.77%,#46c070 82.48%,#28ae80 85.90%,#1fa187 87.61%,#238a8d 90.17%,#345f8d 95.30%,#3a538b 97.86%,#3b518b 99.57%)}
.k52{background:linear-gradient(to right,#31b57b 0.43%,#29af80 2.99%,#1f9f88 5.56%,#23898d 8.12%,#38578c 13.25%,#443a83 16.67%,#46307e 19.23%,#46337f 21.79%,#414287 24.36%,#2c738e 29.49%,#1e9b8a 33.76%,#26ad81 36.32%,#33b67a 38.89%,#32b57a 41.45%,#21a785 44.87%,#1f9a8a 46.58%,#2c728e 50.85%,#404588 55.98%,#443882 58.55%,#443982 61.11%,#404588 63.68%,#2b748e 68.80%,#1f978b 72.22%,#21a685 73.93%,#3dbc74 77.35%,#48c16e 79.06%,#4ac26d 80.77%,#3dbc74 83.33%,#22a784 86.75%,#1f998a 88.46%,#2f6b8e 93.59%,#39568c 97.01%,#3b518b 99.57%)}
.k53{background:linear-gradient(to right,#30b47b 0.43%,#28ae80 2.99%,#1f9f88 5.56%,#23898d 8.12%,#38578c 13.25%,#443b84 16.67%,#46317e 19.23%,#463480 21.79%,#414387 24.36%,#2c738e 29.49%,#1e9b8a 33.76%,#26ac81 36.32%,#32b57b 38.89%,#31b57b 41.45%,#21a685 44.87%,#20928c 47.44%,#33628d 52.56%,#404588 55.98%,#443983 58.55%,#443983 61.11%,#404688 63.68%,#2b748e 68.80%,#1f968b 72.22%,#21a585 73.93%,#3cbb75 77.35%,#48c16e 79.91%,#46c06f 81.62%,#35b779 84.19%,#21a685 86.75%,#1f988b 88.46%,#2f6b8e 93.59%,#39568c 97.01%,#3b508b 99.57%)}
.k54{background:linear-gradient(to right,#30b47c 0.43%,#27ae80 2.99%,#1f9f88 5.56%,#26818e 8.97%,#3c508b 14.10%,#453782 17.52%,#46317e 20.09%,#453882 22.65%,#3b528b 26.07%,#228b8d 32.05%,#1fa188 34.62%,#2eb37d 38.03%,#32b57a 40.60%,#29af80 43.16%,#1fa088 45.73%,#238a8d 48.29%,#3a538b 54.27%,#433c84 57.69%,#453882 60.26%,#424186 62.82%,#375b8d 66.24%,#228d8d 71.37%,#1f9d89 73.08%,#25ab82 74.79%,#40bd73 78.21%,#46c06f 79.91%,#44bf71 81.62%,#33b67a 84.19%,#21a685 86.75%,#1f978b 88.46%,#2f6b8e 93.59%,#39568c 97.01%,#3c508b 99.57%)}
.k55{background:linear-gradient(to right,#2fb37c 0.43%,#27ad81 2.99%,#1f9e89 5.56%,#26818e 8.97%,#3c508b 14.10%,#453882 17.52%,#46327f 20.09%,#443983 22.65%,#3b528b 26.07%,#228b8d 32.05%,#1fa088 34.62%,#2db27d 38.03%,#31b57b 40.60%,#24aa83 44.02%,#1f998a 46.58%,#306a8e 51.71%,#404688 55.98%,#443a83 58.55%,#443a83 61.11%,#404688 63.68%,#2c748e 68.80%,#1e9d89 73.08%,#25ab82 74.79%,#3ebc74 78.21%,#44bf70 79.91%,#42be72 81.62%,#2bb17e 85.04%,#20a586 86.75%,#1f978b 88.46%,#2f6a8e 93.59%,#39558c 97.01%,#3c508b 99.57%)}
.k56{background:linear-gradient(to right,#2eb37d 0.43%,#26ad81 2.99%,#1f9e89 5.56%,#26818e 8.97%,#3b508b 14.10%,#443982 17.52%,#46337f 20.09%,#443a83 22.65%,#3a528b 26.07%,#228b8d 32.05%,#1fa088 34.62%,#2cb17e 38.03%,#30b47b 40.60%,#24aa83 44.02%,#1f988b 46.58%,#306a8e 51.71%,#404788 55.98%,#443b83 58.55%,#443b83 61.11%,#404788 63.68%,#2c748e 68.80%,#1e9c89 73.08%,#24aa83 74.79%,#3cbb75 78.21%,#42be72 80.77%,#37b878 83.33%,#20a486 86.75%,#218e8d 89.32%,#355e8d 95.30%,#3b528b 97.86%,#3c508b 99.57%)}
.k57{background:linear-gradient(to right,#2db27d 0.43%,#22a884 3.85%,#1f978b 6.41%,#30688e 11.54%,#414387 15.81%,#453681 18.38%,#463580 20.94%,#423f85 23.50%,#33638d 27.78%,#20928c 32.91%,#21a586 35.47%,#2eb37d 38.89%,#2db27d 41.45%,#20a486 44.87%,#20918c 47.44%,#375b8d 53.42%,#414287 56.84%,#443a83 59.40%,#433e85 61.97%,#3a548b 65.38%,#228c8d 71.37%,#20a387 73.93%,#35b778 77.35%,#40bd73 79.91%,#3aba76 82.48%,#23a983 85.90%,#1e9c89 87.61%,#2a788e 91.88%,#37598c 96.15%,#3b508b 98.72%,#3c508b 99.57%)}
.k58{background:linear-gradient(to right,#2cb17e 0.43%,#22a784 3.85%,#1f978b 6.41%,#30698e 11.54%,#414487 15.81%,#453781 18.38%,#453581 20.94%,#424086 23.50%,#33638d 27.78%,#20928c 32.91%,#20a586 35.47%,#2db27d 38.89%,#2cb27d 41.45%,#20a486 44.87%,#21918c 47.44%,#365b8d 53.42%,#414387 56.84%,#443b83 59.40%,#433f85 61.97%,#3a548c 65.38%,#228c8d 71.37%,#1fa287 73.93%,#34b779 77.35%,#3ebc74 79.91%,#38b977 82.48%,#23a884 85.90%,#1e9c89 87.61%,#2d708e 92.74%,#37598c 96.15%,#3b508b 98.72%,#3c508b 99.57%)}
.k59{background:linear-gradient(to right,#2bb17e 0.43%,#22a785 3.85%,#1f968b 6.41%,#30698e 11.54%,#404587 15.81%,#453882 18.38%,#453681 20.94%,#424086 23.50%,#33638d 27.78%,#20928c 32.91%,#20a486 35.47%,#2cb17e 38.89%,#2cb17e 41.45%,#20a387 44.87%,#21908c 47.44%,#365b8d 53.42%,#414387 56.84%,#443b84 59.40%,#423f85 61.97%,#3a548c 65.38%,#228b8d 71.37%,#1fa287 73.93%,#33b67a 77.35%,#3cbb75 79.91%,#37b878 82.48%,#22a884 85.90%,#1e9b8a 87.61%,#2d708e 92.74%,#38598c 96.15%,#3c508b 98.72%,#3c508b 99.57%)}
.k60{background:linear-gradient(to right,#2bb07f 0.43%,#21a685 3.85%,#1f968b 6.41%,#30698e 11.54%,#404588 15.81%,#443882 18.38%,#453781 20.94%,#424186 23.50%,#33638d 27.78%,#20918c 32.91%,#20a486 35.47%,#2bb17e 38.89%,#2bb07e 41.45%,#20a387 44.87%,#21908d 47.44%,#365c8d 53.42%,#414487 56.84%,#433c84 59.40%,#424086 61.97%,#39558c 65.38%,#228b8d 71.37%,#1fa187 73.93%,#31b57b 77.35%,#3bba75 79.91%,#35b778 82.48%,#22a785 85.90%,#20938c 88.46%,#33638d 94.44%,#3b528b 97.86%,#3c508b 99.57%)}
.k61{background:linear-gradient(to right,#2ab07f 0.43%,#21a685 3.85%,#1f968b 6.41%,#30698e 11.54%,#404688 15.81%,#443983 18.38%,#453882 20.94%,#414286 23.50%,#33638d 27.78%,#20918c 32.91%,#20a386 35.47%,#2ab07f 38.89%,#2ab07f 41.45%,#1fa287 44.87%,#21908d 47.44%,#365c8d 53.42%,#414487 56.84%,#433c84 59.40%,#424086 61.97%,#39558c 65.38%,#238b8d 71.37%,#1fa088 73.93%,#30b47b 77.35%,#39b976 79.91%,#34b679 82.48%,#21a685 85.90%,#20938c 88.46%,#33638d 94.44%,#3b528b 97.86%,#3c4f8b 99.57%)}
.k62{background:linear-gradient(to right,#29af7f 0.43%,#21a585 3.85%,#1f958b 6.41%,#33628d 12.39%,#424186 16.67%,#453882 19.23%,#443b83 21.79%,#3c4e8a 25.21%,#26828e 31.20%,#1e9d89 34.62%,#27ae80 38.03%,#2ab07f 40.60%,#21a685 44.02%,#1f968b 46.58%,#33638d 52.56%,#404587 56.84%,#433d85 59.40%,#424186 61.97%,#39558c 65.38%,#238a8d 71.37%,#1fa088 73.93%,#2fb37c 77.35%,#37b977 79.91%,#32b67a 82.48%,#21a585 85.90%,#20928c 88.46%,#33638d 94.44%,#3b528b 97.86%,#3c4f8b 99.57%)}
.k63{background:linear-gradient(to right,#28ae80 0.43%,#21a586 3.85%,#1f958b 6.41%,#33628d 12.39%,#414286 16.67%,#443983 19.23%,#443b84 21.79%,#3c4e8a 25.21%,#26828e 31.20%,#1e9d89 34.62%,#27ad81 38.03%,#2ab07f 40.60%,#21a685 44.02%,#1f968b 46.58%,#33638d 52.56%,#404588 56.84%,#433e85 59.40%,#424186 61.97%,#39568c 65.38%,#238a8d 71.37%,#1f9f88 73.93%,#2db27d 77.35%,#36b878 79.91%,#31b57b 82.48%,#20a586 85.90%,#20928c 88.46%,#365d8d 95.30%,#3c508b 98.72%,#3c4f8b 99.57%)}
.k64{background:linear-gradient(to right,#28ae80 0.43%,#20a486 3.85%,#1f958c 6.41%,#33628d 12.39%,#414387 16.67%,#443a83 19.23%,#433c84 21.79%,#3c4f8a 25.21%,#26828e 31.20%,#1e9c89 34.62%,#26ac81 38.03%,#29af80 40.60%,#21a586 44.02%,#1f958b 46.58%,#33638d 52.56%,#404688 56.84%,#433e85 59.40%,#414287 61.97%,#39568c 65.38%,#23898d 71.37%,#1f9e89 73.93%,#2cb27e 77.35%,#34b779 79.91%,#2fb47c 82.48%,#20a486 85.90%,#20918c 88.46%,#365d8d 95.30%,#3c508b 98.72%,#3c4f8b 99.57%)}
.k65{background:linear-gradient(to right,#27ad81 0.43%,#20a486 3.85%,#20948c 6.41%,#33628d 12.39%,#414387 16.67%,#443b83 19.23%,#433d84 21.79%,#3c4f8b 25.21%,#23898e 32.05%,#1e9c89 34.62%,#26ac82 38.03%,#28ae80 40.60%,#20a586 44.02%,#1f958b 46.58%,#32648e 52.56%,#404688 56.84%,#423f85 59.40%,#414287 61.97%,#39568c 65.38%,#23898d 71.37%,#1f9e89 73.93%,#2bb17e 77.35%,#33b67a 79.91%,#2eb37c 82.48%,#20a387 85.90%,#21908c 88.46%,#365d8d 95.30%,#3c508b 98.72%,#3c4f8b 99.57%)}
.k66{background:linear-gradient(to right,#26ad81 0.43%,#20a386 3.85%,#20948c 6.41%,#33638d 12.39%,#414487 16.67%,#443b84 19.23%,#433e85 21.79%,#3c508b 25.21%,#23898e 32.05%,#1fa188 35.47%,#27ad81 38.89%,#24ab82 42.31%,#1f9a8a 45.73%,#2f6b8e 51.71%,#3e4b8a 55.98%,#424186 58.55%,#424186 61.11%,#3b508b 64.53%,#23898e 71.37%,#1e9d89 73.93%,#2ab07f 77.35%,#31b57b 79.91%,#2db27d 82.48%,#1fa287 85.90%,#21908d 88.46%,#365d8d 95.30%,#3c508b 98.72%,#3c4f8b 99.57%)}
.k67{background:linear-gradient(to right,#26ac82 0.43%,#20a387 3.85%,#20948c 6.41%,#33638d 12.39%,#404587 16.67%,#433c84 19.23%,#433e85 21.79%,#3b508b 25.21%,#23888e 32.05%,#1fa088 35.47%,#26ac81 38.89%,#24aa83 42.31%,#1f9a8a 45.73%,#2f6b8e 51.71%,#3d4c8a 55.98%,#424186 58.55%,#424186 61.11%,#3b518b 64.53%,#23888e 71.37%,#1e9d89 73.93%,#29af7f 77.35%,#30b47b 79.91%,#2cb17e 82.48%,#1fa187 85.90%,#218f8d 88.46%,#365d8d 95.30%,#3b508b 98.72%,#3c508b 99.57%)}
.k68{background:linear-gradient(to right,#25ab82 0.43%,#1fa287 3.85%,#228d8d 7.26%,#39568c 14.10%,#424186 17.52%,#433d84 20.09%,#414287 22.65%,#38578c 26.07%,#218f8d 32.91%,#1fa088 35.47%,#25ac82 38.89%,#23a983 42.31%,#1f998a 45.73%,#2f6b8e 51.71%,#3d4c8a 55.98%,#414287 58.55%,#414287 61.11%,#3b518b 64.53%,#24888e 71.37%,#1e9c89 73.93%,#28ae80 77.35%,#2fb37c 79.91%,#2bb07e 82.48%,#1fa188 85.90%,#24888e 89.32%,#365d8d 95.30%,#3b508b 98.72%,#3c508b 99.57%)}
.k69{background:linear-gradient(to right,#25ab82 0.43%,#1fa287 3.85%,#228d8d 7.26%,#39568c 14.10%,#414287 17.52%,#433d85 20.09%,#414387 22.65%,#38588c 26.07%,#218f8d 32.91%,#20a386 36.32%,#26ac82 39.74%,#21a685 43.16%,#20938c 46.58%,#355e8d 53.42%,#3f4889 56.84%,#424186 59.40%,#404588 61.97%,#38578c 65.38%,#218f8d 72.22%,#1fa187 74.79%,#2ab07f 78.21%,#2db27d 80.77%,#23a983 84.19%,#1f9a8a 86.75%,#2e6d8e 92.74%,#39558c 97.01%,#3c508b 99.57%)}
.k70{background:linear-gradient(to right,#24aa83 0.43%,#1fa187 3.85%,#228c8d 7.26%,#39578c 14.10%,#414387 17.52%,#433e85 20.09%,#414487 22.65%,#38588c 26.07%,#218e8d 32.91%,#20a387 36.32%,#25ab82 39.74%,#21a585 43.16%,#20938c 46.58%,#355e8d 53.42%,#3f4989 56.84%,#414287 59.40%,#404588 61.97%,#38588c 65.38%,#218e8d 72.22%,#1fa088 74.79%,#29af7f 78.21%,#2cb17e 80.77%,#23a884 84.19%,#1f9a8a 86.75%,#2e6d8e 92.74%,#39558c 97.01%,#3c508b 99.57%)}
.k71{background:linear-gradient(to right,#24aa83 0.43%,#1fa188 3.85%,#228c8d 7.26%,#38578c 14.10%,#414487 17.52%,#423f85 20.09%,#404487 22.65%,#355f8d 26.92%,#20948c 33.76%,#21a685 37.18%,#24aa83 40.60%,#1fa187 44.02%,#228c8d 47.44%,#3a538b 55.13%,#414487 58.55%,#414487 61.11%,#3b528b 64.53%,#24878e 71.37%,#1fa088 74.79%,#28ae80 78.21%,#2bb17e 80.77%,#22a884 84.19%,#1f998a 86.75%,#2e6d8e 92.74%,#39558c 97.01%,#3c508b 99.57%)}
.k72{background:linear-gradient(to right,#23a983 0.43%,#1fa088 3.85%,#228c8d 7.26%,#38578c 14.10%,#414487 17.52%,#424086 20.09%,#404588 22.65%,#355f8d 26.92%,#20948c 33.76%,#21a586 37.18%,#24aa83 40.60%,#1fa188 44.02%,#228c8d 47.44%,#3a538b 55.13%,#404587 58.55%,#404487 61.11%,#3a538b 64.53%,#24878e 71.37%,#1f9f88 74.79%,#27ae81 78.21%,#2ab07f 80.77%,#22a785 84.19%,#1f988b 86.75%,#2e6d8e 92.74%,#39558c 97.01%,#3c508b 99.57%)}
.k73{background:linear-gradient(to right,#23a884 0.43%,#1fa088 3.85%,#228c8d 7.26%,#3b528b 14.96%,#414287 18.38%,#424186 20.94%,#3c4e8a 24.36%,#24878e 32.05%,#1e9d89 35.47%,#23a884 38.89%,#21a685 42.31%,#1f978b 45.73%,#32658e 52.56%,#3e4b89 56.84%,#414487 59.40%,#3f4788 61.97%,#38588c 65.38%,#228d8d 72.22%,#1f9e89 74.79%,#26ad81 78.21%,#28ae80 81.62%,#1fa287 85.04%,#228c8d 88.46%,#365d8d 95.30%,#3b518b 98.72%,#3b508b 99.57%)}
.k74{background:linear-gradient(to right,#22a884 0.43%,#1f9f88 3.85%,#228b8d 7.26%,#3a538b 14.96%,#414387 18.38%,#414287 20.94%,#3c4f8a 24.36%,#24878e 32.05%,#1e9d89 35.47%,#22a884 38.89%,#21a685 42.31%,#1f978b 45.73%,#32658e 52.56%,#3e4b8a 56.84%,#404588 59.40%,#3f4888 61.97%,#38598c 65.38%,#228d8d 72.22%,#1fa287 75.64%,#27ad81 79.06%,#25ab82 82.48%,#1e9c89 85.90%,#29798e 91.03%,#38598c 96.15%,#3b508b 99.57%)}
.k75{background:linear-gradient(to right,#22a784 0.43%,#1f9f88 3.85%,#25858e 8.12%,#3c4e8a 15.81%,#414287 19.23%,#404487 21.79%,#3a548c 25.21%,#228d8d 32.91%,#1fa088 36.32%,#22a884 39.74%,#1fa287 43.16%,#20918c 46.58%,#375a8c 54.27%,#3f4989 57.69%,#404588 60.26%,#3c4f8a 63.68%,#2c728e 68.80%,#1f988b 73.93%,#23a984 77.35%,#27ad81 80.77%,#20a486 84.19%,#20918c 87.61%,#365d8d 95.30%,#3b518b 98.72%,#3b518b 99.57%)}
.k76{background:linear-gradient(to right,#21a685 0.43%,#1f9e89 3.85%,#25858e 8.12%,#3c4f8a 15.81%,#414387 19.23%,#404588 21.79%,#39558c 25.21%,#228c8d 32.91%,#1f9f88 36.32%,#22a784 39.74%,#1fa287 43.16%,#21918c 46.58%,#375a8c 54.27%,#3f4989 57.69%,#404688 60.26%,#3c508b 63.68%,#2c728e 68.80%,#1f978b 73.93%,#22a884 77.35%,#26ac81 80.77%,#20a486 84.19%,#21908c 87.61%,#365d8d 95.30%,#3b518b 98.72%,#3b518b 99.57%)}
.k77{background:linear-gradient(to right,#21a685 0.43%,#1f9e89 3.85%,#25858e 8.12%,#3c4f8b 15.81%,#414487 19.23%,#404688 21.79%,#39558c 25.21%,#228c8d 32.91%,#1fa287 37.18%,#21a685 40.60%,#1f9e89 44.02%,#25858e 48.29%,#39558c 55.13%,#3f4889 58.55%,#3f4788 61.11%,#39558c 64.53%,#228b8d 72.22%,#1fa088 75.64%,#25ab82 79.06%,#23a984 82.48%,#1f9a8a 85.90%,#2f6c8e 92.74%,#39568c 97.01%,#3b518b 99.57%)}
.k78{background:linear-gradient(to right,#21a585 0.43%,#1e9d89 3.85%,#25858e 8.12%,#3c508b 15.81%,#404588 19.23%,#3f4989 22.65%,#34618d 26.92%,#20918c 33.76%,#1fa187 37.18%,#21a685 40.60%,#1f9d89 44.02%,#25858e 48.29%,#39568c 55.13%,#3f4889 58.55%,#3f4889 61.11%,#39558c 64.53%,#228b8d 72.22%,#1fa088 75.64%,#24aa83 79.06%,#22a884 82.48%,#1f958b 86.75%,#33628d 94.44%,#3a538b 97.86%,#3b518b 99.57%)}
.k79{background:linear-gradient(to right,#20a586 0.43%,#1e9d89 3.85%,#277e8e 8.97%,#3b508b 15.81%,#404688 19.23%,#3e4a89 22.65%,#34618d 26.92%,#20918c 33.76%,#1fa188 37.18%,#21a585 40.60%,#1e9d89 44.02%,#277e8e 49.15%,#3b528b 55.98%,#3f4889 59.40%,#3d4d8a 62.82%,#32668e 67.09%,#1f968b 73.93%,#21a685 77.35%,#24aa83 80.77%,#1fa187 84.19%,#218f8d 87.61%,#355d8d 95.30%,#3b528b 98.72%,#3b518b 99.57%)}
.k80{background:linear-gradient(to right,#20a486 0.43%,#1e9c89 3.85%,#277e8e 8.97%,#3b518b 15.81%,#404688 19.23%,#3e4b89 22.65%,#33628d 26.92%,#1f958b 34.62%,#20a387 38.03%,#20a486 41.45%,#1f988b 44.87%,#2f6c8e 51.71%,#3c4e8a 56.84%,#3f4889 60.26%,#3b528b 63.68%,#2a788e 69.66%,#1f9a8a 74.79%,#22a785 78.21%,#22a884 81.62%,#1e9d89 85.04%,#287d8e 90.17%,#355d8d 95.30%,#3b528b 98.72%,#3b528b 99.57%)}
.k81{background:linear-gradient(to right,#20a386 0.43%,#1e9c8a 3.85%,#277e8e 8.97%,#3b528b 15.81%,#3f4788 19.23%,#3e4b8a 22.65%,#33628d 26.92%,#1f958b 34.62%,#1fa287 38.03%,#20a387 41.45%,#1f988b 44.87%,#31678e 52.56%,#3c4f8a 56.84%,#3f4989 60.26%,#3b528b 63.68%,#2a788e 69.66%,#1f998a 74.79%,#21a685 78.21%,#22a784 81.62%,#1e9c89 85.04%,#287d8e 90.17%,#355d8d 95.30%,#3a538b 98.72%,#3b528b 99.57%)}
.k82{background:linear-gradient(to right,#20a387 0.43%,#1e9b8a 3.85%,#277e8e 8.97%,#3b528b 15.81%,#3f4889 19.23%,#3d4c8a 22.65%,#33628d 26.92%,#1f948c 34.62%,#1fa187 38.03%,#1fa287 41.45%,#1f978b 44.87%,#31678e 52.56%,#3c508b 56.84%,#3e4a89 60.26%,#3a538b 63.68%,#2a788e 69.66%,#1f998a 74.79%,#21a585 78.21%,#21a685 81.62%,#1f978b 85.90%,#31678e 93.59%,#3a548c 97.86%,#3b528b 99.57%)}
.k83{background:linear-gradient(to right,#1fa287 0.43%,#1e9b8a 3.85%,#277e8e 8.97%,#3a538b 15.81%,#3f4989 19.23%,#3d4d8a 22.65%,#33638d 26.92%,#20948c 34.62%,#1fa188 38.03%,#1fa287 41.45%,#20938c 45.73%,#365c8d 54.27%,#3d4d8a 57.69%,#3e4b8a 61.11%,#38578c 64.53%,#218f8d 73.08%,#20a387 77.35%,#21a685 80.77%,#1f9e88 84.19%,#24878e 88.46%,#355e8d 95.30%,#3a538b 98.72%,#3a528b 99.57%)}
.k84{background:linear-gradient(to right,#1fa187 0.43%,#1f9a8a 3.85%,#277e8e 8.97%,#3a538b 15.81%,#3e4989 19.23%,#3d4d8a 22.65%,#33638d 26.92%,#20948c 34.62%,#1fa088 38.03%,#1fa187 41.45%,#20928c 45.73%,#365d8d 54.27%,#3c4e8a 57.69%,#3d4c8a 61.11%,#38578c 64.53%,#218e8d 73.08%,#1fa287 77.35%,#21a685 80.77%,#1f9e89 84.19%,#26828e 89.32%,#355e8d 95.30%,#3a538b 98.72%,#3a538b 99.57%)}
.k85{background:linear-gradient(to right,#1fa188 0.43%,#1f9a8a 3.85%,#277e8e 8.97%,#3a548b 15.81%,#3e4a89 19.23%,#3c4e8a 22.65%,#33638d 26.92%,#20938c 34.62%,#1fa188 38.89%,#1f9f88 42.31%,#228d8d 46.58%,#39558c 55.98%,#3d4c8a 59.40%,#3b518b 62.82%,#31678e 67.09%,#1f978b 74.79%,#20a386 78.21%,#20a486 81.62%,#1f958b 85.90%,#33628d 94.44%,#39558c 97.86%,#3a538b 99.57%)}
.k86{background:linear-gradient(to right,#1fa088 0.43%,#1f998a 3.85%,#287e8e 8.97%,#3a548c 15.81%,#3e4b89 19.23%,#3c4f8a 22.65%,#33638d 26.92%,#20938c 34.62%,#1fa088 38.89%,#1f9e89 42.31%,#228d8d 46.58%,#39558c 55.98%,#3d4c8a 59.40%,#3b518b 62.82%,#31678e 67.09%,#1f968b 74.79%,#20a486 79.06%,#1fa287 82.48%,#21908c 86.75%,#355e8d 95.30%,#3a548b 98.72%,#3a538b 99.57%)}
.k87{background:linear-gradient(to right,#1fa088 0.43%,#1f998a 3.85%,#287e8e 8.97%,#39558c 15.81%,#3e4c8a 19.23%,#3c4f8b 22.65%,#32648e 26.92%,#20928c 34.62%,#1fa088 38.89%,#1f9e89 42.31%,#228d8d 46.58%,#39568c 55.98%,#3d4d8a 59.40%,#3b528b 62.82%,#2f6c8e 67.95%,#1f968b 74.79%,#20a387 79.06%,#1fa188 82.48%,#21908d 86.75%,#355e8d 95.30%,#3a548c 98.72%,#3a548b 99.57%)}
.k88{background:linear-gradient(to right,#1f9f88 0.43%,#1f958c 4.70%,#31688e 12.39%,#3b528b 16.67%,#3d4c8a 20.09%,#3a538b 23.50%,#2b748e 29.49%,#1f968b 35.47%,#1f9f88 38.89%,#1e9d89 42.31%,#228c8d 46.58%,#39568c 55.98%,#3d4e8a 59.40%,#3a528b 62.82%,#2f6c8e 67.95%,#1f958b 74.79%,#1fa287 79.06%,#1fa088 82.48%,#218f8d 86.75%,#355f8d 95.30%,#39558c 98.72%,#3a548b 99.57%)}
.k89{background:linear-gradient(to right,#1f9e89 0.43%,#20948c 4.70%,#33638d 13.25%,#3c508b 17.52%,#3d4d8a 20.94%,#38578c 24.36%,#228d8d 33.76%,#1e9d89 38.03%,#1f9e89 41.45%,#21908c 45.73%,#375a8d 55.13%,#3c4f8b 58.55%,#3b518b 61.97%,#33628d 66.24%,#1f958b 74.79%,#1fa187 79.06%,#1f9f88 82.48%,#218f8d 86.75%,#355f8d 95.30%,#39558c 98.72%,#3a548c 99.57%)}
.k90{background:linear-gradient(to right,#1f9e89 0.43%,#20948c 4.70%,#355f8d 14.10%,#3c4f8a 18.38%,#3c4f8b 21.79%,#34608d 26.07%,#20918c 34.62%,#1f9e89 38.89%,#1e9c89 42.31%,#228c8d 46.58%,#38578c 55.98%,#3c4f8a 59.40%,#3a548b 62.82%,#2f6d8e 67.95%,#20948c 74.79%,#1fa188 79.06%,#1f9e88 82.48%,#218e8d 86.75%,#355f8d 95.30%,#39558c 98.72%,#39558c 99.57%)}
.k91{background:linear-gradient(to right,#1e9d89 0.43%,#20938c 4.70%,#345f8d 14.10%,#3c508b 18.38%,#3c508b 21.79%,#34608d 26.07%,#21918c 34.62%,#1e9d89 38.89%,#1e9b8a 42.31%,#228b8d 46.58%,#38588c 55.98%,#3c508b 59.40%,#3a548c 62.82%,#2e6d8e 67.95%,#20948c 74.79%,#1fa088 79.06%,#1f9e89 82.48%,#218e8d 86.75%,#355f8d 95.30%,#39568c 98.72%,#39558c 99.57%)}
.k92{background:linear-gradient(to right,#1e9c89 0.43%,#20938c 4.70%,#34608d 14.10%,#3b508b 18.38%,#3b518b 21.79%,#34618d 26.07%,#21908c 34.62%,#1e9c89 38.89%,#1f998a 43.16%,#26828e 48.29%,#38588c 55.98%,#3b508b 59.40%,#39558c 62.82%,#2e6d8e 67.95%,#20938c 74.79%,#1f9f88 79.06%,#1e9b8a 83.33%,#25848e 88.46%,#345f8d 95.30%,#39568c 98.72%,#39558c 99.57%)}
.k93{background:linear-gradient(to right,#1e9c89 0.43%,#20928c 4.70%,#365c8d 14.96%,#3c508b 19.23%,#3a538b 22.65%,#306a8e 27.78%,#20938c 35.47%,#1e9c89 39.74%,#1f958b 44.02%,#2a788e 50.00%,#38598c 55.98%,#3b518b 59.40%,#39558c 62.82%,#2e6d8e 67.95%,#20938c 74.79%,#1f9e89 79.06%,#1f9a8a 83.33%,#25848e 88.46%,#34608d 95.30%,#39568c 99.57%)}
.k94{background:linear-gradient(to right,#1e9b8a 0.43%,#20928c 4.70%,#365d8d 14.96%,#3b518b 19.23%,#3a548b 22.65%,#2f6b8e 27.78%,#20938c 35.47%,#1e9c8a 39.74%,#1f958b 44.02%,#2a788e 50.00%,#37598c 55.98%,#3b528b 59.40%,#39568c 62.82%,#2e6d8e 67.95%,#20928c 74.79%,#1f9d89 79.06%,#1f998a 83.33%,#25838e 88.46%,#34608d 95.30%,#39568c 99.57%)}
.k95{background:linear-gradient(to right,#1e9b8a 0.43%,#20918c 4.70%,#365d8d 14.96%,#3b518b 19.23%,#39558c 22.65%,#2f6b8e 27.78%,#20928c 35.47%,#1e9b8a 39.74%,#20948c 44.02%,#2a788e 50.00%,#375a8c 55.98%,#3a528b 59.40%,#39568c 62.82%,#2e6d8e 67.95%,#1f958b 75.64%,#1e9d89 79.91%,#1f968b 84.19%,#2b758e 91.03%,#365d8d 96.15%,#39578c 99.57%)}
.k96{background:linear-gradient(to right,#1f9a8a 0.43%,#20918c 4.70%,#375a8c 15.81%,#3b528b 19.23%,#39558c 22.65%,#2f6b8e 27.78%,#20928c 35.47%,#1f9a8a 39.74%,#20948c 44.02%,#2a788e 50.00%,#375a8d 55.98%,#3a538b 59.40%,#38578c 62.82%,#2e6d8e 67.95%,#20948c 75.64%,#1e9c89 79.91%,#1f968b 84.19%,#2b758e 91.03%,#355d8d 96.15%,#38578c 99.57%)}
.k97{background:linear-gradient(to right,#1f998a 0.43%,#21908c 4.70%,#375b8d 15.81%,#3a538b 20.09%,#365b8d 24.36%,#20918c 35.47%,#1f9a8a 39.74%,#20938c 44.02%,#2c738e 50.85%,#38588c 56.84%,#3a548b 60.26%,#355d8d 64.53%,#21908c 74.79%,#1e9b8a 79.06%,#1f978b 83.33%,#26828e 88.46%,#355e8d 96.15%,#38588c 99.57%)}
.k98{background:linear-gradient(to right,#1f998a 0.43%,#21908c 4.70%,#365b8d 15.81%,#3a538b 20.09%,#365c8d 24.36%,#20918c 35.47%,#1f998a 39.74%,#20938c 44.02%,#2c738e 50.85%,#38598c 56.84%,#3a548c 60.26%,#355e8d 64.53%,#20938c 75.64%,#1e9b8a 79.91%,#20948c 84.19%,#2d708e 91.88%,#365c8d 97.01%,#38588c 99.57%)}
.k99{background:linear-gradient(to right,#1f988b 0.43%,#21908d 4.70%,#365c8d 15.81%,#3a548b 20.09%,#365c8d 24.36%,#21908c 35.47%,#1f988b 39.74%,#20928c 44.02%,#2c738e 50.85%,#37598c 56.84%,#39568c 61.11%,#33618d 65.38%,#20928c 75.64%,#1f9a8a 79.91%,#20948c 84.19%,#2d708e 91.88%,#365c8d 97.01%,#38588c 99.57%)}
.k100{background:linear-gradient(to right,#1f978b 0.43%,#218f8d 4.70%,#365c8d 15.81%,#39558c 20.09%,#365d8d 24.36%,#21908d 35.47%,#1f988b 39.74%,#20928c 44.02%,#2c738e 50.85%,#375a8c 56.84%,#39568c 61.11%,#33628d 65.38%,#20928c 75.64%,#1f998a 79.91%,#20938c 84.19%,#355f8d 96.15%,#37598c 99.57%)}
.k101{background:linear-gradient(to right,#1f978b 0.43%,#218f8d 4.70%,#365d8d 15.81%,#39558c 20.09%,#355d8d 24.36%,#218f8d 35.47%,#1f978b 39.74%,#20918c 44.02%,#2c738e 50.85%,#375a8d 56.84%,#38578c 61.11%,#33628d 65.38%,#20918c 75.64%,#1f998a 79.91%,#20928c 84.19%,#355f8d 96.15%,#37598c 99.57%)}
.k102{background:linear-gradient(to right,#1f968b 0.43%,#218e8d 4.70%,#355d8d 15.81%,#39568c 20.09%,#355e8d 24.36%,#218f8d 35.47%,#1f968b 39.74%,#21918c 44.02%,#2d6f8e 51.71%,#375b8d 56.84%,#38578c 61.11%,#33638d 65.38%,#21918c 75.64%,#1f988b 79.91%,#20928c 84.19%,#345f8d 96.15%,#375a8c 99.57%)}
.k103{background:linear-gradient(to right,#1f968b 0.43%,#218e8d 4.70%,#355e8d 15.81%,#38578c 20.09%,#355e8d 24.36%,#218e8d 35.47%,#1f968b 39.74%,#21908c 44.02%,#2d6f8e 51.71%,#365c8d 56.84%,#38588c 61.11%,#33638d 65.38%,#21908c 75.64%,#1f978b 79.91%,#20918c 84.19%,#34608d 96.15%,#375a8d 99.57%)}
.k104{background:linear-gradient(to right,#1f958b 0.43%,#228d8d 4.70%,#365c8d 16.67%,#38588c 20.94%,#33628d 25.21%,#218e8d 35.47%,#1f958b 39.74%,#218f8d 44.02%,#2d6f8e 51.71%,#365c8d 56.84%,#38598c 61.11%,#33638d 65.38%,#21908d 75.64%,#1f978b 79.91%,#21918c 84.19%,#34608d 96.15%,#375b8d 99.57%)}
.k105{background:linear-gradient(to right,#1f948c 0.43%,#228d8d 4.70%,#365d8d 16.67%,#38598c 20.94%,#33628d 25.21%,#228d8d 35.47%,#1f958c 39.74%,#218f8d 44.02%,#2f6c8e 52.56%,#375b8d 57.69%,#375a8d 61.97%,#2f6b8e 67.09%,#218f8d 75.64%,#1f968b 79.91%,#21908d 84.19%,#34618d 96.15%,#365b8d 99.57%)}
.k106{background:linear-gradient(to right,#20948c 0.43%,#228c8d 4.70%,#355d8d 16.67%,#37598c 20.94%,#33638d 25.21%,#228d8d 35.47%,#20948c 39.74%,#218e8d 44.02%,#355d8d 56.84%,#375a8c 61.11%,#31678e 66.24%,#218e8d 75.64%,#1f958b 79.91%,#218f8d 84.19%,#34618d 96.15%,#365c8d 99.57%)}
.k107{background:linear-gradient(to right,#20938c 0.43%,#23898d 5.56%,#34608d 15.81%,#375a8c 20.09%,#34618d 24.36%,#228c8d 35.47%,#20938c 39.74%,#218e8d 44.02%,#355e8d 56.84%,#375b8d 61.11%,#31688e 66.24%,#218e8d 75.64%,#1f948c 79.91%,#218f8d 84.19%,#34618d 96.15%,#365c8d 99.57%)}
.k108{background:linear-gradient(to right,#20928c 0.43%,#23898e 5.56%,#34618d 15.81%,#375a8d 20.09%,#34618d 24.36%,#218e8d 36.32%,#20938c 40.60%,#23888e 45.73%,#34618d 55.98%,#375b8d 60.26%,#33628d 64.53%,#228d8d 75.64%,#20948c 79.91%,#218e8d 84.19%,#33628d 96.15%,#365d8d 99.57%)}
.k109{background:linear-gradient(to right,#20928c 0.43%,#23888e 5.56%,#355f8d 16.67%,#365b8d 20.94%,#31678e 26.07%,#228b8d 35.47%,#20928c 39.74%,#228d8d 44.02%,#355f8d 56.84%,#365c8d 61.11%,#30688e 66.24%,#228d8d 75.64%,#20938c 79.91%,#228b8d 85.04%,#33628d 96.15%,#355d8d 99.57%)}
.k110{background:linear-gradient(to right,#20918c 0.43%,#24888e 5.56%,#34608d 16.67%,#365c8d 20.94%,#31688e 26.07%,#228b8d 35.47%,#20918c 40.60%,#24888e 45.73%,#33628d 55.98%,#365c8d 60.26%,#32668e 65.38%,#228c8d 75.64%,#20928c 79.91%,#238b8d 85.04%,#33638d 96.15%,#355e8d 99.57%)}
.k111{background:linear-gradient(to right,#21918c 0.43%,#24878e 5.56%,#34608d 16.67%,#365d8d 20.94%,#31688e 26.07%,#238a8d 35.47%,#21918c 40.60%,#24878e 45.73%,#33628d 55.98%,#365d8d 60.26%,#31668e 65.38%,#228c8d 75.64%,#20918c 80.77%,#24888e 85.90%,#33638d 96.15%,#355e8d 99.57%)}
.k112{background:linear-gradient(to right,#21908d 0.43%,#24878e 5.56%,#34618d 16.67%,#355d8d 20.94%,#30688e 26.07%,#228c8d 36.32%,#218f8d 41.45%,#25848e 46.58%,#33638d 55.98%,#355e8d 60.26%,#31678e 65.38%,#228b8d 75.64%,#20918c 80.77%,#24878e 85.90%,#33638d 96.15%,#355f8d 99.57%)}
.k113{background:linear-gradient(to right,#218f8d 0.43%,#24878e 5.56%,#34618d 16.67%,#355e8d 20.94%,#30698e 26.07%,#228b8d 36.32%,#218f8d 41.45%,#25848e 46.58%,#33638d 55.98%,#355e8d 60.26%,#31678e 65.38%,#238b8d 75.64%,#21908d 80.77%,#24878e 85.90%,#32648e 96.15%,#34608d 99.57%)}
.k114{background:linear-gradient(to right,#218f8d 0.43%,#24868e 5.56%,#33628d 16.67%,#355f8d 20.94%,#30698e 26.07%,#228b8d 36.32%,#218e8d 41.45%,#26808e 47.44%,#32648d 55.98%,#355f8d 61.11%,#306a8e 66.24%,#238a8d 75.64%,#218f8d 80.77%,#24868e 85.90%,#32648e 96.15%,#34608d 99.57%)}
.k115{background:linear-gradient(to right,#218e8d 0.43%,#24868e 5.56%,#33628d 16.67%,#34608d 21.79%,#2d6f8e 27.78%,#238a8d 36.32%,#228e8d 41.45%,#27808e 47.44%,#32648e 55.98%,#34608d 61.11%,#2f6a8e 66.24%,#228b8d 76.50%,#218e8d 81.62%,#26808e 87.61%,#32658e 96.15%,#34618d 99.57%)}
.k116{background:linear-gradient(to right,#228d8d 0.43%,#24858e 5.56%,#33638d 16.67%,#34618d 21.79%,#2d6f8e 27.78%,#238a8d 36.32%,#228d8d 41.45%,#27808e 47.44%,#33638d 56.84%,#34618d 61.97%,#2d708e 67.95%,#238b8d 76.50%,#228d8d 81.62%,#27808e 87.61%,#32658e 96.15%,#34618d 99.57%)}
.k117{background:linear-gradient(to right,#228d8d 0.43%,#25858e 5.56%,#32648e 16.67%,#33618d 21.79%,#2d708e 27.78%,#23898d 36.32%,#228c8d 41.45%,#27808e 47.44%,#33648d 56.84%,#33628d 61.97%,#2c738e 68.80%,#238a8d 76.50%,#228d8d 81.62%,#27808e 87.61%,#32668e 96.15%,#33628d 99.57%)}
.k118{background:linear-gradient(to right,#228c8d 0.43%,#26828e 6.41%,#32648e 16.67%,#33628d 21.79%,#2d708e 27.78%,#23898e 36.32%,#228c8d 41.45%,#277f8e 47.44%,#32648e 56.84%,#33638d 61.97%,#2c738e 68.80%,#238a8d 76.50%,#228c8d 81.62%,#27808e 87.61%,#32658e 97.01%,#33628d 99.57%)}
.k119{background:linear-gradient(to right,#228c8d 0.43%,#26828e 6.41%,#32658e 16.67%,#33638d 21.79%,#2c738e 28.63%,#23888e 36.32%,#228b8d 41.45%,#277f8e 47.44%,#32658e 56.84%,#33638d 61.97%,#2c738e 68.80%,#23898e 76.50%,#228b8d 81.62%,#277f8e 87.61%,#32658e 97.01%,#33638d 99.57%)}
.k120{background:linear-gradient(to right,#228b8d 0.43%,#26828e 6.41%,#32658e 16.67%,#33638d 21.79%,#2c738e 28.63%,#24888e 36.32%,#238a8d 41.45%,#277f8e 47.44%,#32658e 56.84%,#32648e 61.97%,#2c748e 68.80%,#23888e 76.50%,#238b8d 81.62%,#287c8e 88.46%,#32668e 97.01%,#33638d 99.57%)}
.k121{background:linear-gradient(to right,#238a8d 0.43%,#26818e 6.41%,#31668e 16.67%,#32648e 21.79%,#2c738e 28.63%,#23888e 37.18%,#23898d 42.31%,#2a778e 50.00%,#32658e 57.69%,#32658e 62.82%,#23898e 77.35%,#23898d 82.48%,#2a778e 90.17%,#31668e 97.01%,#32648e 99.57%)}
.k122{background:linear-gradient(to right,#238a8d 0.43%,#26818e 6.41%,#31678e 16.67%,#32658e 21.79%,#2c738e 28.63%,#24888e 37.18%,#24878e 43.16%,#32658e 57.69%,#31668e 62.82%,#23888e 77.35%,#24888e 83.33%,#31678e 97.01%,#32658e 99.57%)}
.k123{background:linear-gradient(to right,#23898e 0.43%,#26818e 6.41%,#31678e 16.67%,#32658e 21.79%,#2c738e 28.63%,#24878e 37.18%,#24878e 43.16%,#31668e 57.69%,#31678e 62.82%,#24888e 77.35%,#24878e 83.33%,#31678e 97.01%,#32658e 99.57%)}
.k124{background:linear-gradient(to right,#23888e 0.43%,#26808e 6.41%,#31688e 16.67%,#31678e 22.65%,#24878e 37.18%,#24868e 43.16%,#31678e 57.69%,#30688e 63.68%,#24878e 77.35%,#24868e 83.33%,#31688e 97.01%,#31668e 99.57%)}
.k125{background:linear-gradient(to right,#24888e 0.43%,#277e8e 7.26%,#31678e 17.52%,#30688e 23.50%,#24868e 37.18%,#24868e 43.16%,#31678e 57.69%,#30698e 63.68%,#24878e 77.35%,#24868e 83.33%,#31678e 97.86%,#31668e 99.57%)}
.k126{background:linear-gradient(to right,#24878e 0.43%,#277e8e 7.26%,#31688e 17.52%,#30698e 23.50%,#24868e 37.18%,#25858e 43.16%,#31688e 57.69%,#30698e 63.68%,#24868e 77.35%,#25858e 83.33%,#31688e 97.86%,#31678e 99.57%)}
.k127{background:linear-gradient(to right,#24868e 0.43%,#287e8e 7.26%,#30688e 17.52%,#306a8e 23.50%,#25858e 37.18%,#25858e 43.16%,#30688e 57.69%,#306a8e 63.68%,#25858e 77.35%,#25858e 83.33%,#30698e 97.86%,#31688e 99.57%)}
.k128{background:linear-gradient(to right,#24868e 0.43%,#287d8e 7.26%,#30698e 17.52%,#306a8e 23.50%,#25848e 37.18%,#25848e 43.16%,#30698e 57.69%,#2f6a8e 63.68%,#25858e 77.35%,#25848e 83.33%,#30698e 97.86%,#30688e 99.57%)}
.k129{background:linear-gradient(to right,#25858e 0.43%,#297b8e 8.12%,#306a8e 17.52%,#2f6b8e 23.50%,#25858e 38.03%,#26818e 44.87%,#306a8e 57.69%,#2f6b8e 63.68%,#25848e 77.35%,#26828e 84.19%,#306a8e 97.86%,#30698e 99.57%)}
.k130{background:linear-gradient(to right,#25858e 0.43%,#297b8e 8.12%,#306a8e 17.52%,#2f6c8e 24.36%,#25838e 37.18%,#26828e 44.02%,#306a8e 57.69%,#2e6d8e 64.53%,#25848e 77.35%,#26828e 84.19%,#306a8e 97.86%,#306a8e 99.57%)}
.k131{background:linear-gradient(to right,#25848e 0.43%,#297b8e 8.12%,#2f6b8e 17.52%,#2e6d8e 24.36%,#25838e 38.03%,#26808e 44.87%,#2f6b8e 57.69%,#2e6d8e 64.53%,#25838e 77.35%,#26818e 84.19%,#2f6b8e 97.86%,#306a8e 99.57%)}
.k132{background:linear-gradient(to right,#25838e 0.43%,#29798e 8.97%,#2f6b8e 18.38%,#2e6f8e 25.21%,#26838e 38.03%,#27808e 44.87%,#2f6b8e 57.69%,#2e6e8e 64.53%,#25838e 78.21%,#27808e 85.04%,#2f6b8e 97.86%,#2f6b8e 99.57%)}
.k133{background:linear-gradient(to right,#26838e 0.43%,#29798e 8.97%,#2f6c8e 18.38%,#2d708e 26.07%,#26828e 38.03%,#277e8e 45.73%,#2f6c8e 57.69%,#2e6e8e 64.53%,#26828e 78.21%,#277e8e 85.90%,#2f6c8e 97.86%,#2f6b8e 99.57%)}
.k134{background:linear-gradient(to right,#26828e 0.43%,#29798e 8.97%,#2f6c8e 18.38%,#2d718e 26.07%,#26828e 38.03%,#277e8e 45.73%,#2f6c8e 58.55%,#2d718e 66.24%,#26828e 78.21%,#277e8e 85.90%,#2f6d8e 97.86%,#2f6c8e 99.57%)}
.k135{background:linear-gradient(to right,#26818e 0.43%,#2a778e 9.83%,#2f6d8e 19.23%,#2c738e 27.78%,#26818e 38.89%,#297b8e 47.44%,#2e6d8e 58.55%,#2d718e 66.24%,#26818e 78.21%,#287d8e 85.90%,#2e6d8e 98.72%,#2f6d8e 99.57%)}
.k136{background:linear-gradient(to right,#26818e 0.43%,#2b768e 10.68%,#2e6d8e 20.09%,#2a768e 29.49%,#26818e 38.89%,#297b8e 47.44%,#2e6d8e 58.55%,#2c738e 67.09%,#26818e 78.21%,#287c8e 86.75%,#2e6d8e 98.72%,#2e6d8e 99.57%)}
.k137{background:linear-gradient(to right,#27808e 0.43%,#2b768e 10.68%,#2e6e8e 20.09%,#2a788e 30.34%,#27808e 39.74%,#2a788e 49.15%,#2e6e8e 59.40%,#2b758e 68.80%,#27808e 79.06%,#29798e 88.46%,#2e6e8e 99.57%)}
.k138{background:linear-gradient(to right,#27808e 0.43%,#2b748e 12.39%,#2e6e8e 20.94%,#27808e 39.74%,#2a778e 50.00%,#2e6e8e 60.26%,#29798e 71.37%,#27808e 80.77%,#2e6e8e 99.57%)}
.k139{background:linear-gradient(to right,#277f8e 0.43%,#2d6f8e 20.09%,#297a8e 32.05%,#277f8e 41.45%,#2d6f8e 59.40%,#2a778e 69.66%,#277f8e 79.91%,#2b768e 91.03%,#2d6f8e 99.57%)}
.k140{background:linear-gradient(to right,#277e8e 0.43%,#2d708e 20.09%,#277e8e 40.60%,#2d708e 60.26%,#277e8e 79.91%,#2b748e 92.74%,#2d708e 99.57%)}
.k141{background:linear-gradient(to right,#287e8e 0.43%,#2d708e 20.94%,#287e8e 40.60%,#2d708e 60.26%,#287e8e 80.77%,#2d708e 99.57%)}
.k142{background:linear-gradient(to right,#287d8e 0.43%,#2d718e 20.94%,#287d8e 40.60%,#2d718e 61.11%,#287d8e 80.77%,#2d718e 99.57%)}
.k143{background:linear-gradient(to right,#287c8e 0.43%,#2c728e 20.94%,#287c8e 41.45%,#2c728e 61.11%,#287c8e 80.77%,#2c728e 99.57%)}
.k144{background:linear-gradient(to right,#287c8e 0.43%,#2c728e 21.79%,#287c8e 41.45%,#2c728e 61.97%,#287c8e 81.62%,#2c728e 99.57%)}
.k145{background:linear-gradient(to right,#297b8e 0.43%,#2c738e 22.65%,#297b8e 42.31%,#2c738e 61.97%,#297b8e 82.48%,#2c738e 99.57%)}
.k146{background:linear-gradient(to right,#297b8e 0.43%,#2b748e 23.50%,#297a8e 43.16%,#2b748e 62.82%,#297a8e 82.48%,#2c748e 99.57%)}
.k147{background:linear-gradient(to right,#297a8e 0.43%,#2b758e 24.36%,#29798e 44.02%,#2b758e 63.68%,#29798e 84.19%,#2b748e 99.57%)}
.k148{background:linear-gradient(to right,#29798e 0.43%,#2b768e 26.07%,#2a788e 46.58%,#2b768e 66.24%,#2a788e 85.90%,#2b758e 99.57%)}
.k149{background:linear-gradient(to right,#2a798e 0.43%,#2a778e 28.63%,#2a778e 51.71%,#2a778e 91.03%,#2b758e 99.57%)}
.k150{background:linear-gradient(to right,#2a788e 0.43%,#2b768e 99.57%)}
.k151{background:linear-gradient(to right,#2a778e 0.43%,#2a778e 99.57%)}
</style></head><body>
<div class="hr" style="left:21.00px;top:13.00px;width:115.00px;height:150.00px"><i class="a0"></i><i class="a1"></i><i class="a2"></i><i class="a3"></i><i class="a4"></i><i class="a5"></i><i class="a6"></i><i class="a7"></i><i class="a8"></i><i class="a9"></i><i class="a10"></i><i class="a11"></i><i class="a12"></i><i class="a13"></i><i class="a14"></i><i class="a15"></i><i class="a16"></i><i class="a17"></i><i class="a18"></i><i class="a19"></i><i class="a20"></i><i class="a21"></i><i class="a22"></i><i class="a23"></i><i class="a24"></i><i class="a25"></i><i class="a26"></i><i class="a27"></i><i class="a28"></i><i class="a29"></i><i class="a30"></i><i class="a31"></i><i class="a32"></i><i class="a33"></i><i class="a34"></i><i class="a35"></i><i class="a36"></i><i class="a37"></i><i class="a38"></i><i class="a39"></i><i class="a40"></i><i class="a41"></i><i class="a42"></i><i class="a43"></i><i class="a44"></i><i class="a45"></i><i class="a46"></i><i class="a47"></i><i class="a48"></i><i class="a49"></i><i class="a50"></i><i class="a51"></i><i class="a52"></i><i class="a53"></i><i class="a54"></i><i class="a55"></i><i class="a56"></i><i class="a57"></i><i class="a58"></i><i class="a59"></i><i class="a60"></i><i class="a61"></i><i class="a62"></i><i class="a63"></i><i class="a64"></i><i class="a65"></i><i class="a66"></i><i class="a67"></i><i class="a68"></i><i class="a69"></i><i class="a70"></i><i class="a71"></i><i class="a72"></i><i class="a73"></i><i class="a74"></i><i class="a75"></i><i class="a76"></i><i class="a77"></i><i class="a78"></i><i class="a79"></i><i class="a80"></i><i class="a81"></i><i class="a82"></i><i class="a83"></i><i class="a84"></i><i class="a85"></i><i class="a86"></i><i class="a87"></i><i class="a88"></i><i class="a89"></i><i class="a90"></i><i class="a91"></i><i class="a92"></i><i class="a93"></i><i class="a94"></i><i class="a95"></i><i class="a96"></i><i class="a97"></i><i class="a98"></i><i class="a99"></i><i class="a100"></i><i class="a101"></i><i class="a102"></i><i class="a103"></i><i class="a104"></i><i class="a105"></i><i class="a106"></i><i class="a107"></i><i class="a108"></i><i class="a109"></i><i class="a110"></i><i class="a111"></i><i class="a112"></i><i class="a113"></i><i class="a114"></i><i class="a115"></i><i class="a116"></i><i class="a117"></i><i class="a118"></i><i class="a119"></i><i class="a120"></i><i class="a121"></i><i class="a122"></i><i class="a123"></i><i class="a124"></i><i class="a125"></i><i class="a126"></i><i class="a127"></i><i class="a128"></i><i class="a129"></i><i class="a130"></i><i class="a131"></i><i class="a132"></i><i class="a133"></i><i class="a134"></i><i class="a135"></i><i class="a136"></i><i class="a137"></i><i class="a138"></i><i class="a139"></i><i class="a140"></i><i class="a141"></i><i class="a142"></i><i class="a143"></i><i class="a144"></i><i class="a145"></i><i class="a146"></i><i class="a147"></i><i class="a148"></i><i class="a149"></i></div>
<div class="cb" style="left:143.00px;top:19.50px;width:7.00px;height:136.20px"></div>
<div class="t" style="left:78.30px;top:5.99px;font-size:7.40px;transform:translateX(-50%) scaleY(1.150);">Exact</div>
<div class="t" style="left:20.00px;top:17.10px;font-size:7.00px;transform:translateX(-100%) scaleY(1.150);">0.93</div>
<div class="t" style="left:20.00px;top:86.50px;font-size:7.00px;transform:translateX(-100%) scaleY(1.150);">-0.0</div>
<div class="t" style="left:20.00px;top:154.80px;font-size:7.00px;transform:translateX(-100%) scaleY(1.150);">-0.92</div>
<div class="t" style="left:20.70px;top:164.40px;font-size:7.00px;transform:translateX(-50%) scaleY(1.150);">-1.0</div>
<div class="t" style="left:77.90px;top:164.40px;font-size:7.00px;transform:translateX(-50%) scaleY(1.150);">-0.0</div>
<div class="t" style="left:135.20px;top:164.40px;font-size:7.00px;transform:translateX(-50%) scaleY(1.150);">1.0</div>
<div class="t" style="left:78.60px;top:172.23px;font-size:7.00px;transform:translateX(-50%) scaleY(1.150);">x</div>
<div class="t" style="left:1.90px;top:87.50px;font-size:7.00px;transform:translate(-50%,-50%) rotate(-90deg);">y</div>
<div class="t" style="left:150.60px;top:36.70px;font-size:7.00px;transform:scaleY(1.150);">0.8</div>
<div class="t" style="left:150.60px;top:86.20px;font-size:7.00px;transform:scaleY(1.150);">0.0</div>
<div class="t" style="left:150.60px;top:136.00px;font-size:7.00px;transform:scaleY(1.150);"><span style="display:inline-block;transform:scaleX(1.35);transform-origin:0 50%;margin:0 1.2px 0 0.3px">−</span>0.8</div>
<div class="hr" style="left:193.00px;top:13.00px;width:115.00px;height:150.00px"><i class="a0"></i><i class="a1"></i><i class="a2"></i><i class="a3"></i><i class="a4"></i><i class="a5"></i><i class="a6"></i><i class="a7"></i><i class="a8"></i><i class="a9"></i><i class="a10"></i><i class="a11"></i><i class="a12"></i><i class="a13"></i><i class="a14"></i><i class="a15"></i><i class="a16"></i><i class="a17"></i><i class="a18"></i><i class="a19"></i><i class="a20"></i><i class="a21"></i><i class="a22"></i><i class="a23"></i><i class="a24"></i><i class="a25"></i><i class="a26"></i><i class="a27"></i><i class="a28"></i><i class="a29"></i><i class="a30"></i><i class="a31"></i><i class="a32"></i><i class="a33"></i><i class="a34"></i><i class="a35"></i><i class="a36"></i><i class="a37"></i><i class="a38"></i><i class="a39"></i><i class="a40"></i><i class="a41"></i><i class="a42"></i><i class="a43"></i><i class="a44"></i><i class="a45"></i><i class="a46"></i><i class="a47"></i><i class="a48"></i><i class="a49"></i><i class="a50"></i><i class="a51"></i><i class="a52"></i><i class="a53"></i><i class="a54"></i><i class="a55"></i><i class="a56"></i><i class="a57"></i><i class="a58"></i><i class="a59"></i><i class="a60"></i><i class="a61"></i><i class="a62"></i><i class="a63"></i><i class="a64"></i><i class="a65"></i><i class="a66"></i><i class="a67"></i><i class="a68"></i><i class="a69"></i><i class="a70"></i><i class="a71"></i><i class="a72"></i><i class="a73"></i><i class="a74"></i><i class="a75"></i><i class="a76"></i><i class="a77"></i><i class="a78"></i><i class="a79"></i><i class="a80"></i><i class="a81"></i><i class="a82"></i><i class="a83"></i><i class="a84"></i><i class="a85"></i><i class="a86"></i><i class="a87"></i><i class="a88"></i><i class="a89"></i><i class="a90"></i><i class="a91"></i><i class="a92"></i><i class="a93"></i><i class="a94"></i><i class="a95"></i><i class="a96"></i><i class="a97"></i><i class="a98"></i><i class="a99"></i><i class="a100"></i><i class="a101"></i><i class="a102"></i><i class="a103"></i><i class="a104"></i><i class="a105"></i><i class="a106"></i><i class="a107"></i><i class="a108"></i><i class="a109"></i><i class="a110"></i><i class="a111"></i><i class="a112"></i><i class="a113"></i><i class="a114"></i><i class="a115"></i><i class="a116"></i><i class="a117"></i><i class="a118"></i><i class="a119"></i><i class="a120"></i><i class="a121"></i><i class="a122"></i><i class="a123"></i><i class="a124"></i><i class="a125"></i><i class="a126"></i><i class="a127"></i><i class="a128"></i><i class="a129"></i><i class="a130"></i><i class="a131"></i><i class="a132"></i><i class="a133"></i><i class="a134"></i><i class="a135"></i><i class="a136"></i><i class="a137"></i><i class="a138"></i><i class="a139"></i><i class="a140"></i><i class="a141"></i><i class="a142"></i><i class="a143"></i><i class="a144"></i><i class="a145"></i><i class="a146"></i><i class="a147"></i><i class="a148"></i><i class="a149"></i></div>
<div class="cb" style="left:315.00px;top:19.50px;width:7.00px;height:136.20px"></div>
<div class="t" style="left:250.25px;top:5.99px;font-size:7.40px;transform:translateX(-50%) scaleY(1.150);">Predict</div>
<div class="t" style="left:192.00px;top:17.10px;font-size:7.00px;transform:translateX(-100%) scaleY(1.150);">0.93</div>
<div class="t" style="left:192.00px;top:86.50px;font-size:7.00px;transform:translateX(-100%) scaleY(1.150);">-0.0</div>
<div class="t" style="left:192.00px;top:154.80px;font-size:7.00px;transform:translateX(-100%) scaleY(1.150);">-0.92</div>
<div class="t" style="left:192.70px;top:164.40px;font-size:7.00px;transform:translateX(-50%) scaleY(1.150);">-1.0</div>
<div class="t" style="left:249.90px;top:164.40px;font-size:7.00px;transform:translateX(-50%) scaleY(1.150);">-0.0</div>
<div class="t" style="left:307.20px;top:164.40px;font-size:7.00px;transform:translateX(-50%) scaleY(1.150);">1.0</div>
<div class="t" style="left:250.60px;top:172.23px;font-size:7.00px;transform:translateX(-50%) scaleY(1.150);">x</div>
<div class="t" style="left:173.90px;top:87.50px;font-size:7.00px;transform:translate(-50%,-50%) rotate(-90deg);">y</div>
<div class="t" style="left:322.60px;top:36.70px;font-size:7.00px;transform:scaleY(1.150);">0.8</div>
<div class="t" style="left:322.60px;top:86.20px;font-size:7.00px;transform:scaleY(1.150);">0.0</div>
<div class="t" style="left:322.60px;top:136.00px;font-size:7.00px;transform:scaleY(1.150);"><span style="display:inline-block;transform:scaleX(1.35);transform-origin:0 50%;margin:0 1.2px 0 0.3px">−</span>0.8</div>
<div class="hc" style="left:369.00px;top:7.00px;width:115.00px;height:155.00px"><i class="b0"></i><i class="b1"></i><i class="b2"></i><i class="b3"></i><i class="b4"></i><i class="b5"></i><i class="b6"></i><i class="b7"></i><i class="b8"></i><i class="b9"></i><i class="b10"></i><i class="b11"></i><i class="b12"></i><i class="b13"></i><i class="b14"></i><i class="b15"></i><i class="b16"></i><i class="b17"></i><i class="b18"></i><i class="b19"></i><i class="b20"></i><i class="b21"></i><i class="b22"></i><i class="b23"></i><i class="b24"></i><i class="b25"></i><i class="b26"></i><i class="b27"></i><i class="b28"></i><i class="b29"></i><i class="b30"></i><i class="b31"></i><i class="b32"></i><i class="b33"></i><i class="b34"></i><i class="b35"></i><i class="b36"></i><i class="b37"></i><i class="b38"></i><i class="b39"></i><i class="b40"></i><i class="b41"></i><i class="b42"></i><i class="b43"></i><i class="b44"></i><i class="b45"></i><i class="b46"></i><i class="b47"></i><i class="b48"></i><i class="b49"></i><i class="b50"></i><i class="b51"></i><i class="b52"></i><i class="b53"></i><i class="b54"></i><i class="b55"></i><i class="b56"></i><i class="b57"></i><i class="b58"></i><i class="b59"></i><i class="b60"></i><i class="b61"></i><i class="b62"></i><i class="b63"></i><i class="b64"></i><i class="b65"></i><i class="b66"></i><i class="b67"></i><i class="b68"></i><i class="b69"></i><i class="b70"></i><i class="b71"></i><i class="b72"></i><i class="b73"></i><i class="b74"></i><i class="b75"></i><i class="b76"></i><i class="b77"></i><i class="b78"></i><i class="b79"></i><i class="b80"></i><i class="b81"></i><i class="b82"></i><i class="b83"></i><i class="b84"></i><i class="b85"></i><i class="b86"></i><i class="b87"></i><i class="b88"></i><i class="b89"></i><i class="b90"></i><i class="b91"></i><i class="b92"></i><i class="b93"></i><i class="b94"></i><i class="b95"></i><i class="b96"></i><i class="b97"></i><i class="b98"></i><i class="b99"></i><i class="b100"></i><i class="b101"></i><i class="b102"></i><i class="b103"></i><i class="b104"></i><i class="b105"></i><i class="b106"></i><i class="b107"></i><i class="b108"></i><i class="b109"></i><i class="b110"></i><i class="b111"></i><i class="b112"></i><i class="b113"></i><i class="b114"></i></div>
<div class="cb" style="left:491.00px;top:16.30px;width:7.00px;height:136.30px"></div>
<div class="t" style="left:426.30px;top:0.09px;font-size:7.40px;transform:translateX(-50%) scaleY(1.150);">Exact</div>
<div class="t" style="left:368.00px;top:10.60px;font-size:7.00px;transform:translateX(-100%) scaleY(1.150);">0.93</div>
<div class="t" style="left:368.00px;top:83.50px;font-size:7.00px;transform:translateX(-100%) scaleY(1.150);">-0.0</div>
<div class="t" style="left:368.00px;top:154.70px;font-size:7.00px;transform:translateX(-100%) scaleY(1.150);">-0.92</div>
<div class="t" style="left:369.20px;top:164.40px;font-size:7.00px;transform:translateX(-50%) scaleY(1.150);">0.0</div>
<div class="t" style="left:425.40px;top:164.40px;font-size:7.00px;transform:translateX(-50%) scaleY(1.150);">0.49</div>
<div class="t" style="left:483.00px;top:164.40px;font-size:7.00px;transform:translateX(-50%) scaleY(1.150);">1.0</div>
<div class="t" style="left:426.30px;top:171.83px;font-size:7.00px;transform:translateX(-50%) scaleY(1.150);">t</div>
<div class="t" style="left:349.00px;top:84.50px;font-size:7.00px;transform:translate(-50%,-50%) rotate(-90deg);">x</div>
<div class="t" style="left:498.50px;top:32.90px;font-size:7.00px;transform:scaleY(1.150);">0.8</div>
<div class="t" style="left:498.50px;top:132.80px;font-size:7.00px;transform:scaleY(1.150);"><span style="display:inline-block;transform:scaleX(1.35);transform-origin:0 50%;margin:0 1.2px 0 0.3px">−</span>0.8</div>
<div class="hc" style="left:541.00px;top:7.00px;width:115.00px;height:155.00px"><i class="b0"></i><i class="b1"></i><i class="b2"></i><i class="b3"></i><i class="b4"></i><i class="b5"></i><i class="b6"></i><i class="b7"></i><i class="b8"></i><i class="b9"></i><i class="b10"></i><i class="b11"></i><i class="b12"></i><i class="b13"></i><i class="b14"></i><i class="b15"></i><i class="b16"></i><i class="b17"></i><i class="b18"></i><i class="b19"></i><i class="b20"></i><i class="b21"></i><i class="b22"></i><i class="b23"></i><i class="b24"></i><i class="b25"></i><i class="b26"></i><i class="b27"></i><i class="b28"></i><i class="b29"></i><i class="b30"></i><i class="b31"></i><i class="b32"></i><i class="b33"></i><i class="b34"></i><i class="b35"></i><i class="b36"></i><i class="b37"></i><i class="b38"></i><i class="b39"></i><i class="b40"></i><i class="b41"></i><i class="b42"></i><i class="b43"></i><i class="b44"></i><i class="b45"></i><i class="b46"></i><i class="b47"></i><i class="b48"></i><i class="b49"></i><i class="b50"></i><i class="b51"></i><i class="b52"></i><i class="b53"></i><i class="b54"></i><i class="b55"></i><i class="b56"></i><i class="b57"></i><i class="b58"></i><i class="b59"></i><i class="b60"></i><i class="b61"></i><i class="b62"></i><i class="b63"></i><i class="b64"></i><i class="b65"></i><i class="b66"></i><i class="b67"></i><i class="b68"></i><i class="b69"></i><i class="b70"></i><i class="b71"></i><i class="b72"></i><i class="b73"></i><i class="b74"></i><i class="b75"></i><i class="b76"></i><i class="b77"></i><i class="b78"></i><i class="b79"></i><i class="b80"></i><i class="b81"></i><i class="b82"></i><i class="b83"></i><i class="b84"></i><i class="b85"></i><i class="b86"></i><i class="b87"></i><i class="b88"></i><i class="b89"></i><i class="b90"></i><i class="b91"></i><i class="b92"></i><i class="b93"></i><i class="b94"></i><i class="b95"></i><i class="b96"></i><i class="b97"></i><i class="b98"></i><i class="b99"></i><i class="b100"></i><i class="b101"></i><i class="b102"></i><i class="b103"></i><i class="b104"></i><i class="b105"></i><i class="b106"></i><i class="b107"></i><i class="b108"></i><i class="b109"></i><i class="b110"></i><i class="b111"></i><i class="b112"></i><i class="b113"></i><i class="b114"></i></div>
<div class="cb" style="left:663.00px;top:16.30px;width:7.00px;height:136.30px"></div>
<div class="t" style="left:598.30px;top:0.09px;font-size:7.40px;transform:translateX(-50%) scaleY(1.150);">Predict</div>
<div class="t" style="left:540.00px;top:10.60px;font-size:7.00px;transform:translateX(-100%) scaleY(1.150);">0.93</div>
<div class="t" style="left:540.00px;top:83.50px;font-size:7.00px;transform:translateX(-100%) scaleY(1.150);">-0.0</div>
<div class="t" style="left:540.00px;top:154.70px;font-size:7.00px;transform:translateX(-100%) scaleY(1.150);">-0.92</div>
<div class="t" style="left:541.20px;top:164.40px;font-size:7.00px;transform:translateX(-50%) scaleY(1.150);">0.0</div>
<div class="t" style="left:598.20px;top:164.40px;font-size:7.00px;transform:translateX(-50%) scaleY(1.150);">0.49</div>
<div class="t" style="left:655.00px;top:164.40px;font-size:7.00px;transform:translateX(-50%) scaleY(1.150);">1.0</div>
<div class="t" style="left:599.10px;top:171.83px;font-size:7.00px;transform:translateX(-50%) scaleY(1.150);">t</div>
<div class="t" style="left:521.00px;top:84.50px;font-size:7.00px;transform:translate(-50%,-50%) rotate(-90deg);">x</div>
<div class="t" style="left:670.50px;top:32.90px;font-size:7.00px;transform:scaleY(1.150);">0.8</div>
<div class="t" style="left:670.50px;top:132.80px;font-size:7.00px;transform:scaleY(1.150);"><span style="display:inline-block;transform:scaleX(1.35);transform-origin:0 50%;margin:0 1.2px 0 0.3px">−</span>0.8</div>
<div class="hr" style="left:21.00px;top:222.00px;width:120.00px;height:155.00px"><i class="s0"></i><i class="s1"></i><i class="s2"></i><i class="s3"></i><i class="s4"></i><i class="s5"></i><i class="s6"></i><i class="s7"></i><i class="s8"></i><i class="s9"></i><i class="s10"></i><i class="s11"></i><i class="s12"></i><i class="s13"></i><i class="s14"></i><i class="s15"></i><i class="s16"></i><i class="s17"></i><i class="s18"></i><i class="s19"></i><i class="s20"></i><i class="s21"></i><i class="s22"></i><i class="s23"></i><i class="s24"></i><i class="s25"></i><i class="s26"></i><i class="s27"></i><i class="s28"></i><i class="s29"></i><i class="s30"></i><i class="s31"></i><i class="s32"></i><i class="s33"></i><i class="s34"></i><i class="s35"></i><i class="s36"></i><i class="s37"></i><i class="s38"></i><i class="s39"></i><i class="s40"></i><i class="s41"></i><i class="s42"></i><i class="s43"></i><i class="s44"></i><i class="s45"></i><i class="s46"></i><i class="s47"></i><i class="s48"></i><i class="s49"></i><i class="s50"></i><i class="s51"></i><i class="s52"></i><i class="s53"></i><i class="s54"></i><i class="s55"></i><i class="s56"></i><i class="s57"></i><i class="s58"></i><i class="s59"></i><i class="s60"></i><i class="s61"></i><i class="s62"></i><i class="s63"></i><i class="s64"></i><i class="s65"></i><i class="s66"></i><i class="s67"></i><i class="s68"></i><i class="s69"></i><i class="s70"></i><i class="s71"></i><i class="s72"></i><i class="s73"></i><i class="s74"></i><i class="s75"></i><i class="s76"></i><i class="s77"></i><i class="s78"></i><i class="s79"></i><i class="s80"></i><i class="s81"></i><i class="s82"></i><i class="s83"></i><i class="s84"></i><i class="s85"></i><i class="s86"></i><i class="s87"></i><i class="s88"></i><i class="s89"></i><i class="s90"></i><i class="s91"></i><i class="s92"></i><i class="s93"></i><i class="s94"></i><i class="s95"></i><i class="s96"></i><i class="s97"></i><i class="s98"></i><i class="s99"></i><i class="s100"></i><i class="s101"></i><i class="s102"></i><i class="s103"></i><i class="s104"></i><i class="s105"></i><i class="s106"></i><i class="s107"></i><i class="s108"></i><i class="s109"></i><i class="s110"></i><i class="s111"></i><i class="s112"></i><i class="s113"></i><i class="s114"></i><i class="s115"></i><i class="s116"></i><i class="s117"></i><i class="s118"></i><i class="s119"></i><i class="s120"></i><i class="s121"></i><i class="s122"></i><i class="s123"></i><i class="s124"></i><i class="s125"></i><i class="s126"></i><i class="s127"></i><i class="s128"></i><i class="s129"></i><i class="s130"></i><i class="s131"></i><i class="s132"></i><i class="s133"></i><i class="s134"></i><i class="s135"></i><i class="s136"></i><i class="s137"></i><i class="s138"></i><i class="s139"></i><i class="s140"></i><i class="s141"></i><i class="s142"></i><i class="s143"></i><i class="s144"></i><i class="s145"></i><i class="s146"></i><i class="s147"></i><i class="s148"></i><i class="s149"></i><i class="s150"></i><i class="s151"></i><i class="s152"></i><i class="s153"></i><i class="s154"></i></div>
<div class="cb" style="left:148.20px;top:230.30px;width:7.00px;height:137.80px"></div>
<div class="t" style="left:81.20px;top:214.39px;font-size:7.40px;transform:translateX(-50%) scaleY(1.150);">Exact</div>
<div class="t" style="left:19.90px;top:225.70px;font-size:7.00px;transform:translateX(-100%) scaleY(1.150);">1.86</div>
<div class="t" style="left:19.90px;top:298.30px;font-size:7.00px;transform:translateX(-100%) scaleY(1.150);">-0.01</div>
<div class="t" style="left:19.90px;top:369.20px;font-size:7.00px;transform:translateX(-100%) scaleY(1.150);">-1.84</div>
<div class="t" style="left:21.00px;top:379.00px;font-size:7.00px;transform:translateX(-50%) scaleY(1.150);">0.0</div>
<div class="t" style="left:80.20px;top:379.00px;font-size:7.00px;transform:translateX(-50%) scaleY(1.150);">0.5</div>
<div class="t" style="left:139.80px;top:379.00px;font-size:7.00px;transform:translateX(-50%) scaleY(1.150);">1.0</div>
<div class="t" style="left:80.90px;top:386.43px;font-size:7.00px;transform:translateX(-50%) scaleY(1.150);">t</div>
<div class="t" style="left:1.00px;top:299.30px;font-size:7.00px;transform:translate(-50%,-50%) rotate(-90deg);">x</div>
<div class="t" style="left:156.20px;top:241.90px;font-size:7.00px;transform:scaleY(1.150);">7.0</div>
<div class="t" style="left:156.20px;top:301.40px;font-size:7.00px;transform:scaleY(1.150);">3.5</div>
<div class="t" style="left:156.20px;top:359.70px;font-size:7.00px;transform:scaleY(1.150);">0.1</div>
<div class="hr" style="left:194.00px;top:222.00px;width:120.00px;height:155.00px"><i class="s0"></i><i class="s1"></i><i class="s2"></i><i class="s3"></i><i class="s4"></i><i class="s5"></i><i class="s6"></i><i class="s7"></i><i class="s8"></i><i class="s9"></i><i class="s10"></i><i class="s11"></i><i class="s12"></i><i class="s13"></i><i class="s14"></i><i class="s15"></i><i class="s16"></i><i class="s17"></i><i class="s18"></i><i class="s19"></i><i class="s20"></i><i class="s21"></i><i class="s22"></i><i class="s23"></i><i class="s24"></i><i class="s25"></i><i class="s26"></i><i class="s27"></i><i class="s28"></i><i class="s29"></i><i class="s30"></i><i class="s31"></i><i class="s32"></i><i class="s33"></i><i class="s34"></i><i class="s35"></i><i class="s36"></i><i class="s37"></i><i class="s38"></i><i class="s39"></i><i class="s40"></i><i class="s41"></i><i class="s42"></i><i class="s43"></i><i class="s44"></i><i class="s45"></i><i class="s46"></i><i class="s47"></i><i class="s48"></i><i class="s49"></i><i class="s50"></i><i class="s51"></i><i class="s52"></i><i class="s53"></i><i class="s54"></i><i class="s55"></i><i class="s56"></i><i class="s57"></i><i class="s58"></i><i class="s59"></i><i class="s60"></i><i class="s61"></i><i class="s62"></i><i class="s63"></i><i class="s64"></i><i class="s65"></i><i class="s66"></i><i class="s67"></i><i class="s68"></i><i class="s69"></i><i class="s70"></i><i class="s71"></i><i class="s72"></i><i class="s73"></i><i class="s74"></i><i class="s75"></i><i class="s76"></i><i class="s77"></i><i class="s78"></i><i class="s79"></i><i class="s80"></i><i class="s81"></i><i class="s82"></i><i class="s83"></i><i class="s84"></i><i class="s85"></i><i class="s86"></i><i class="s87"></i><i class="s88"></i><i class="s89"></i><i class="s90"></i><i class="s91"></i><i class="s92"></i><i class="s93"></i><i class="s94"></i><i class="s95"></i><i class="s96"></i><i class="s97"></i><i class="s98"></i><i class="s99"></i><i class="s100"></i><i class="s101"></i><i class="s102"></i><i class="s103"></i><i class="s104"></i><i class="s105"></i><i class="s106"></i><i class="s107"></i><i class="s108"></i><i class="s109"></i><i class="s110"></i><i class="s111"></i><i class="s112"></i><i class="s113"></i><i class="s114"></i><i class="s115"></i><i class="s116"></i><i class="s117"></i><i class="s118"></i><i class="s119"></i><i class="s120"></i><i class="s121"></i><i class="s122"></i><i class="s123"></i><i class="s124"></i><i class="s125"></i><i class="s126"></i><i class="s127"></i><i class="s128"></i><i class="s129"></i><i class="s130"></i><i class="s131"></i><i class="s132"></i><i class="s133"></i><i class="s134"></i><i class="s135"></i><i class="s136"></i><i class="s137"></i><i class="s138"></i><i class="s139"></i><i class="s140"></i><i class="s141"></i><i class="s142"></i><i class="s143"></i><i class="s144"></i><i class="s145"></i><i class="s146"></i><i class="s147"></i><i class="s148"></i><i class="s149"></i><i class="s150"></i><i class="s151"></i><i class="s152"></i><i class="s153"></i><i class="s154"></i></div>
<div class="cb" style="left:320.90px;top:230.30px;width:7.00px;height:137.80px"></div>
<div class="t" style="left:253.90px;top:214.39px;font-size:7.40px;transform:translateX(-50%) scaleY(1.150);">Predict</div>
<div class="t" style="left:191.70px;top:225.70px;font-size:7.00px;transform:translateX(-100%) scaleY(1.150);">1.86</div>
<div class="t" style="left:191.70px;top:298.30px;font-size:7.00px;transform:translateX(-100%) scaleY(1.150);">-0.01</div>
<div class="t" style="left:191.70px;top:369.20px;font-size:7.00px;transform:translateX(-100%) scaleY(1.150);">-1.84</div>
<div class="t" style="left:193.70px;top:379.00px;font-size:7.00px;transform:translateX(-50%) scaleY(1.150);">0.0</div>
<div class="t" style="left:252.90px;top:379.00px;font-size:7.00px;transform:translateX(-50%) scaleY(1.150);">0.5</div>
<div class="t" style="left:312.50px;top:379.00px;font-size:7.00px;transform:translateX(-50%) scaleY(1.150);">1.0</div>
<div class="t" style="left:253.60px;top:386.43px;font-size:7.00px;transform:translateX(-50%) scaleY(1.150);">t</div>
<div class="t" style="left:173.70px;top:299.30px;font-size:7.00px;transform:translate(-50%,-50%) rotate(-90deg);">x</div>
<div class="t" style="left:328.90px;top:241.90px;font-size:7.00px;transform:scaleY(1.150);">7.0</div>
<div class="t" style="left:328.90px;top:301.40px;font-size:7.00px;transform:scaleY(1.150);">3.5</div>
<div class="t" style="left:328.90px;top:359.70px;font-size:7.00px;transform:scaleY(1.150);">0.1</div>
<div class="hr" style="left:367.00px;top:225.00px;width:117.00px;height:152.00px"><i class="k0"></i><i class="k1"></i><i class="k2"></i><i class="k3"></i><i class="k4"></i><i class="k5"></i><i class="k6"></i><i class="k7"></i><i class="k8"></i><i class="k9"></i><i class="k10"></i><i class="k11"></i><i class="k12"></i><i class="k13"></i><i class="k14"></i><i class="k15"></i><i class="k16"></i><i class="k17"></i><i class="k18"></i><i class="k19"></i><i class="k20"></i><i class="k21"></i><i class="k22"></i><i class="k23"></i><i class="k24"></i><i class="k25"></i><i class="k26"></i><i class="k27"></i><i class="k28"></i><i class="k29"></i><i class="k30"></i><i class="k31"></i><i class="k32"></i><i class="k33"></i><i class="k34"></i><i class="k35"></i><i class="k36"></i><i class="k37"></i><i class="k38"></i><i class="k39"></i><i class="k40"></i><i class="k41"></i><i class="k42"></i><i class="k43"></i><i class="k44"></i><i class="k45"></i><i class="k46"></i><i class="k47"></i><i class="k48"></i><i class="k49"></i><i class="k50"></i><i class="k51"></i><i class="k52"></i><i class="k53"></i><i class="k54"></i><i class="k55"></i><i class="k56"></i><i class="k57"></i><i class="k58"></i><i class="k59"></i><i class="k60"></i><i class="k61"></i><i class="k62"></i><i class="k63"></i><i class="k64"></i><i class="k65"></i><i class="k66"></i><i class="k67"></i><i class="k68"></i><i class="k69"></i><i class="k70"></i><i class="k71"></i><i class="k72"></i><i class="k73"></i><i class="k74"></i><i class="k75"></i><i class="k76"></i><i class="k77"></i><i class="k78"></i><i class="k79"></i><i class="k80"></i><i class="k81"></i><i class="k82"></i><i class="k83"></i><i class="k84"></i><i class="k85"></i><i class="k86"></i><i class="k87"></i><i class="k88"></i><i class="k89"></i><i class="k90"></i><i class="k91"></i><i class="k92"></i><i class="k93"></i><i class="k94"></i><i class="k95"></i><i class="k96"></i><i class="k97"></i><i class="k98"></i><i class="k99"></i><i class="k100"></i><i class="k101"></i><i class="k102"></i><i class="k103"></i><i class="k104"></i><i class="k105"></i><i class="k106"></i><i class="k107"></i><i class="k108"></i><i class="k109"></i><i class="k110"></i><i class="k111"></i><i class="k112"></i><i class="k113"></i><i class="k114"></i><i class="k115"></i><i class="k116"></i><i class="k117"></i><i class="k118"></i><i class="k119"></i><i class="k120"></i><i class="k121"></i><i class="k122"></i><i class="k123"></i><i class="k124"></i><i class="k125"></i><i class="k126"></i><i class="k127"></i><i class="k128"></i><i class="k129"></i><i class="k130"></i><i class="k131"></i><i class="k132"></i><i class="k133"></i><i class="k134"></i><i class="k135"></i><i class="k136"></i><i class="k137"></i><i class="k138"></i><i class="k139"></i><i class="k140"></i><i class="k141"></i><i class="k142"></i><i class="k143"></i><i class="k144"></i><i class="k145"></i><i class="k146"></i><i class="k147"></i><i class="k148"></i><i class="k149"></i><i class="k150"></i><i class="k151"></i></div>
<div class="cb" style="left:490.60px;top:233.10px;width:7.00px;height:136.30px"></div>
<div class="t" style="left:424.90px;top:218.09px;font-size:7.40px;transform:translateX(-50%) scaleY(1.150);">Exact</div>
<div class="t" style="left:365.40px;top:229.80px;font-size:7.00px;transform:translateX(-100%) scaleY(1.150);">0.96</div>
<div class="t" style="left:365.40px;top:300.10px;font-size:7.00px;transform:translateX(-100%) scaleY(1.150);">0.5</div>
<div class="t" style="left:365.40px;top:369.20px;font-size:7.00px;transform:translateX(-100%) scaleY(1.150);">0.04</div>
<div class="t" style="left:366.50px;top:379.10px;font-size:7.00px;transform:translateX(-50%) scaleY(1.150);">0.0</div>
<div class="t" style="left:425.20px;top:379.10px;font-size:7.00px;transform:translateX(-50%) scaleY(1.150);">0.5</div>
<div class="t" style="left:484.00px;top:379.10px;font-size:7.00px;transform:translateX(-50%) scaleY(1.150);">1.0</div>
<div class="t" style="left:425.20px;top:386.43px;font-size:7.00px;transform:translateX(-50%) scaleY(1.150);">t</div>
<div class="t" style="left:349.70px;top:302.00px;font-size:7.00px;transform:translate(-50%,-50%) rotate(-90deg);">x</div>
<div class="t" style="left:498.30px;top:273.25px;font-size:7.00px;transform:scaleY(1.150);">0.8</div>
<div class="t" style="left:498.30px;top:312.50px;font-size:7.00px;transform:scaleY(1.150);">0.0</div>
<div class="t" style="left:498.30px;top:352.50px;font-size:7.00px;transform:scaleY(1.150);"><span style="display:inline-block;transform:scaleX(1.35);transform-origin:0 50%;margin:0 1.2px 0 0.3px">−</span>0.8</div>
<div class="hr" style="left:539.00px;top:225.00px;width:117.00px;height:152.00px"><i class="k0"></i><i class="k1"></i><i class="k2"></i><i class="k3"></i><i class="k4"></i><i class="k5"></i><i class="k6"></i><i class="k7"></i><i class="k8"></i><i class="k9"></i><i class="k10"></i><i class="k11"></i><i class="k12"></i><i class="k13"></i><i class="k14"></i><i class="k15"></i><i class="k16"></i><i class="k17"></i><i class="k18"></i><i class="k19"></i><i class="k20"></i><i class="k21"></i><i class="k22"></i><i class="k23"></i><i class="k24"></i><i class="k25"></i><i class="k26"></i><i class="k27"></i><i class="k28"></i><i class="k29"></i><i class="k30"></i><i class="k31"></i><i class="k32"></i><i class="k33"></i><i class="k34"></i><i class="k35"></i><i class="k36"></i><i class="k37"></i><i class="k38"></i><i class="k39"></i><i class="k40"></i><i class="k41"></i><i class="k42"></i><i class="k43"></i><i class="k44"></i><i class="k45"></i><i class="k46"></i><i class="k47"></i><i class="k48"></i><i class="k49"></i><i class="k50"></i><i class="k51"></i><i class="k52"></i><i class="k53"></i><i class="k54"></i><i class="k55"></i><i class="k56"></i><i class="k57"></i><i class="k58"></i><i class="k59"></i><i class="k60"></i><i class="k61"></i><i class="k62"></i><i class="k63"></i><i class="k64"></i><i class="k65"></i><i class="k66"></i><i class="k67"></i><i class="k68"></i><i class="k69"></i><i class="k70"></i><i class="k71"></i><i class="k72"></i><i class="k73"></i><i class="k74"></i><i class="k75"></i><i class="k76"></i><i class="k77"></i><i class="k78"></i><i class="k79"></i><i class="k80"></i><i class="k81"></i><i class="k82"></i><i class="k83"></i><i class="k84"></i><i class="k85"></i><i class="k86"></i><i class="k87"></i><i class="k88"></i><i class="k89"></i><i class="k90"></i><i class="k91"></i><i class="k92"></i><i class="k93"></i><i class="k94"></i><i class="k95"></i><i class="k96"></i><i class="k97"></i><i class="k98"></i><i class="k99"></i><i class="k100"></i><i class="k101"></i><i class="k102"></i><i class="k103"></i><i class="k104"></i><i class="k105"></i><i class="k106"></i><i class="k107"></i><i class="k108"></i><i class="k109"></i><i class="k110"></i><i class="k111"></i><i class="k112"></i><i class="k113"></i><i class="k114"></i><i class="k115"></i><i class="k116"></i><i class="k117"></i><i class="k118"></i><i class="k119"></i><i class="k120"></i><i class="k121"></i><i class="k122"></i><i class="k123"></i><i class="k124"></i><i class="k125"></i><i class="k126"></i><i class="k127"></i><i class="k128"></i><i class="k129"></i><i class="k130"></i><i class="k131"></i><i class="k132"></i><i class="k133"></i><i class="k134"></i><i class="k135"></i><i class="k136"></i><i class="k137"></i><i class="k138"></i><i class="k139"></i><i class="k140"></i><i class="k141"></i><i class="k142"></i><i class="k143"></i><i class="k144"></i><i class="k145"></i><i class="k146"></i><i class="k147"></i><i class="k148"></i><i class="k149"></i><i class="k150"></i><i class="k151"></i></div>
<div class="cb" style="left:663.30px;top:233.10px;width:7.00px;height:136.30px"></div>
<div class="t" style="left:597.60px;top:218.09px;font-size:7.40px;transform:translateX(-50%) scaleY(1.150);">Predict</div>
<div class="t" style="left:537.60px;top:229.80px;font-size:7.00px;transform:translateX(-100%) scaleY(1.150);">0.96</div>
<div class="t" style="left:537.60px;top:300.10px;font-size:7.00px;transform:translateX(-100%) scaleY(1.150);">0.5</div>
<div class="t" style="left:537.60px;top:369.20px;font-size:7.00px;transform:translateX(-100%) scaleY(1.150);">0.04</div>
<div class="t" style="left:538.90px;top:379.10px;font-size:7.00px;transform:translateX(-50%) scaleY(1.150);">0.0</div>
<div class="t" style="left:597.00px;top:379.10px;font-size:7.00px;transform:translateX(-50%) scaleY(1.150);">0.5</div>
<div class="t" style="left:655.30px;top:379.10px;font-size:7.00px;transform:translateX(-50%) scaleY(1.150);">1.0</div>
<div class="t" style="left:597.30px;top:386.43px;font-size:7.00px;transform:translateX(-50%) scaleY(1.150);">t</div>
<div class="t" style="left:522.40px;top:302.00px;font-size:7.00px;transform:translate(-50%,-50%) rotate(-90deg);">x</div>
<div class="t" style="left:671.00px;top:273.25px;font-size:7.00px;transform:scaleY(1.150);">0.8</div>
<div class="t" style="left:671.00px;top:312.50px;font-size:7.00px;transform:scaleY(1.150);">0.0</div>
<div class="t" style="left:671.00px;top:352.50px;font-size:7.00px;transform:scaleY(1.150);"><span style="display:inline-block;transform:scaleX(1.35);transform-origin:0 50%;margin:0 1.2px 0 0.3px">−</span>0.8</div>
<div class="t cap" style="left:131.70px;top:187.09px;font-size:11.60px">(a)<span style="margin-left:5.80px">Helmholtz</span></div>
<div class="t cap" style="left:485.80px;top:187.09px;font-size:11.60px">(b)<span style="margin-left:5.80px">Burgers</span></div>
<div class="t cap" style="left:123.10px;top:401.99px;font-size:11.60px">(c)<span style="margin-left:5.80px">Black-Scholes</span></div>
<div class="t cap" style="left:471.90px;top:401.99px;font-size:11.60px">(d)<span style="margin-left:5.80px">Klein-Gordon</span></div>
</body></html>
